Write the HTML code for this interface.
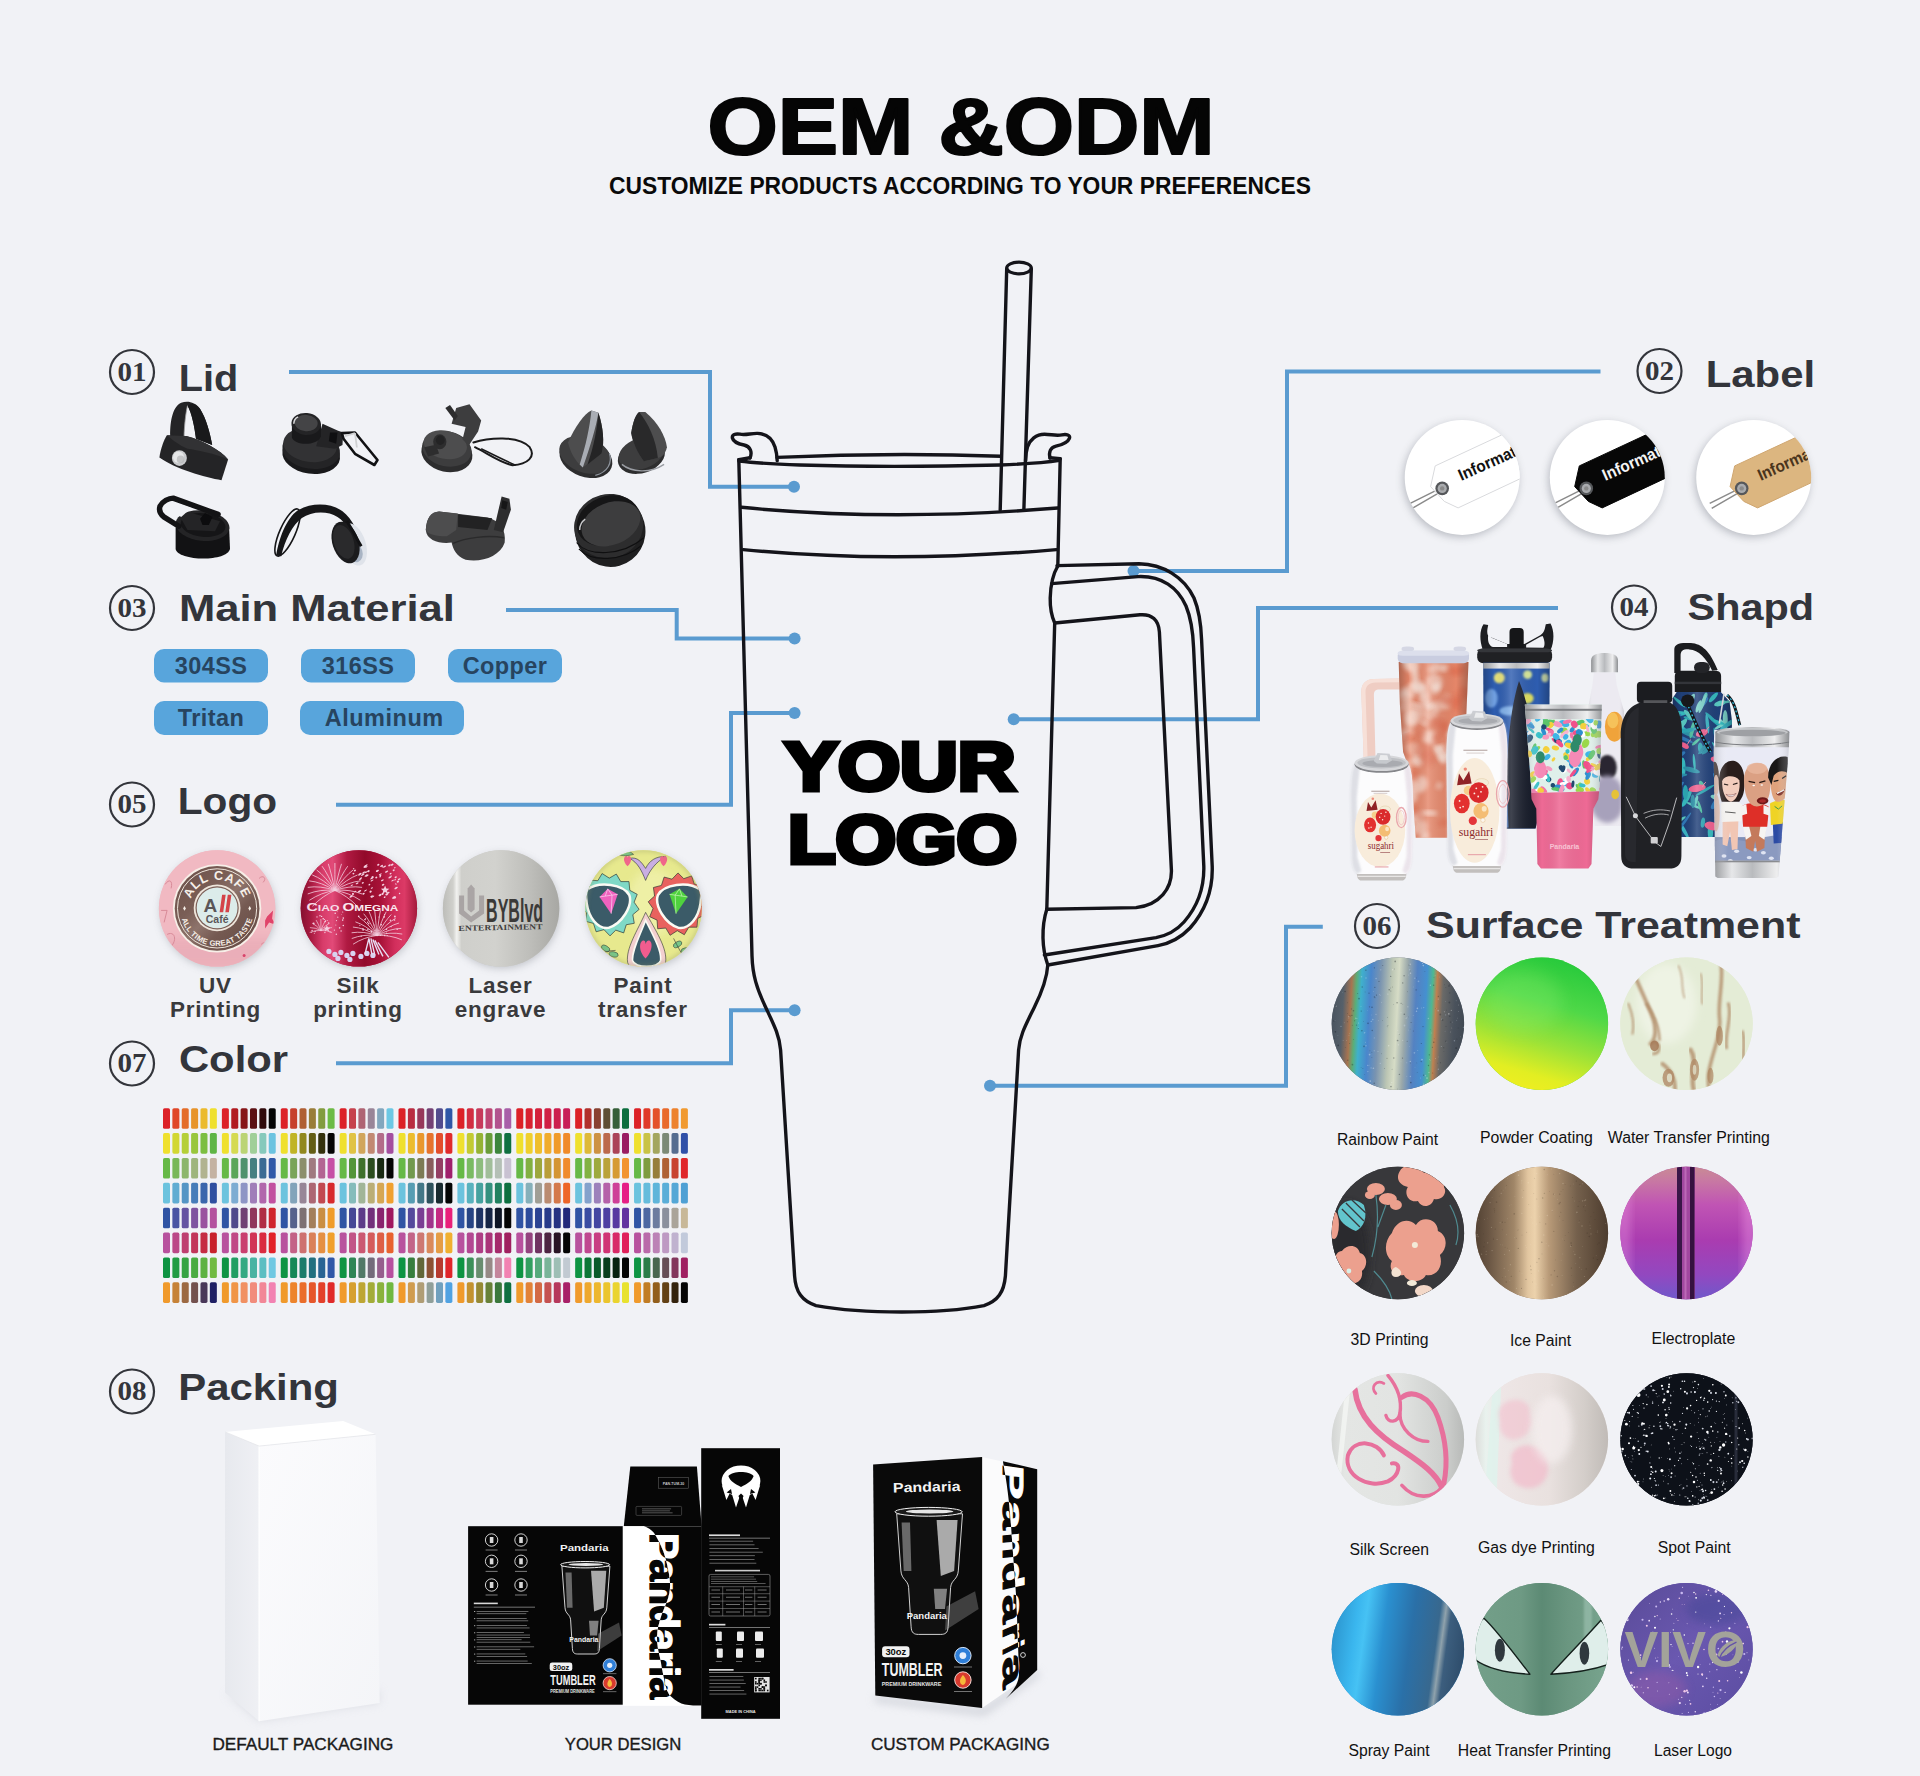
<!DOCTYPE html>
<html><head><meta charset="utf-8"><title>OEM &amp; ODM</title>
<style>
html,body{margin:0;padding:0;background:#f1f2f6;}
body{width:1920px;height:1776px;overflow:hidden;font-family:"Liberation Sans",sans-serif;}
svg{display:block;position:absolute;left:0;top:0;}
svg text{font-family:"Liberation Sans",sans-serif;}
.hd{font-weight:bold;fill:#33353b;}
.num{font-family:"Liberation Serif",serif;font-weight:bold;fill:#33353b;}
.sl{font-size:16px;fill:#111;}
.ll{font-size:22.5px;font-weight:bold;fill:#3a3a3c;text-anchor:middle;letter-spacing:.75px;}
.pk{font-size:16.5px;fill:#1a1a1a;}
</style></head><body>
<svg width="1920" height="1776" viewBox="0 0 1920 1776">
<!-- a10_defs.py -->
<defs>
<filter id="sh" x="-20%" y="-20%" width="140%" height="140%"><feGaussianBlur stdDeviation="4"/></filter>
<filter id="b1" x="-20%" y="-20%" width="140%" height="140%"><feGaussianBlur stdDeviation="1"/></filter>
<filter id="b2" x="-20%" y="-20%" width="140%" height="140%"><feGaussianBlur stdDeviation="2.2"/></filter>
<filter id="b4" x="-30%" y="-30%" width="160%" height="160%"><feGaussianBlur stdDeviation="4"/></filter>
<filter id="b8" x="-40%" y="-40%" width="180%" height="180%"><feGaussianBlur stdDeviation="8"/></filter>
</defs>
<rect x="0" y="0" width="1920" height="1776" fill="#f1f2f6"/>

<!-- b10_title.py -->
<text x="707.5" y="154" font-size="80" font-weight="bold" fill="#050505" stroke="#050505" stroke-width="2.2" stroke-linejoin="round" textLength="507" lengthAdjust="spacingAndGlyphs">OEM &amp;ODM</text>
<text x="609" y="194.3" font-size="24" font-weight="bold" fill="#0a0a0a" textLength="702" lengthAdjust="spacingAndGlyphs">CUSTOMIZE PRODUCTS ACCORDING TO YOUR PREFERENCES</text>

<!-- b20_heads.py -->
<circle cx="132.0" cy="372.0" r="22" fill="none" stroke="#33353b" stroke-width="2.2"/>
<text class="num" x="132.0" y="380.5" font-size="27" text-anchor="middle" textLength="29" lengthAdjust="spacingAndGlyphs">01</text>
<text class="hd" x="178.8" y="391.0" font-size="37" textLength="59.5" lengthAdjust="spacingAndGlyphs">Lid</text>
<circle cx="132.0" cy="608.0" r="22" fill="none" stroke="#33353b" stroke-width="2.2"/>
<text class="num" x="132.0" y="616.5" font-size="27" text-anchor="middle" textLength="29" lengthAdjust="spacingAndGlyphs">03</text>
<text class="hd" x="178.9" y="621.4" font-size="37" textLength="276" lengthAdjust="spacingAndGlyphs">Main Material</text>
<circle cx="132.0" cy="804.5" r="22" fill="none" stroke="#33353b" stroke-width="2.2"/>
<text class="num" x="132.0" y="813.0" font-size="27" text-anchor="middle" textLength="29" lengthAdjust="spacingAndGlyphs">05</text>
<text class="hd" x="177.8" y="813.8" font-size="37" textLength="99.3" lengthAdjust="spacingAndGlyphs">Logo</text>
<circle cx="132.0" cy="1063.5" r="22" fill="none" stroke="#33353b" stroke-width="2.2"/>
<text class="num" x="132.0" y="1072.0" font-size="27" text-anchor="middle" textLength="29" lengthAdjust="spacingAndGlyphs">07</text>
<text class="hd" x="178.9" y="1072.0" font-size="37" textLength="109.2" lengthAdjust="spacingAndGlyphs">Color</text>
<circle cx="132.0" cy="1391.5" r="22" fill="none" stroke="#33353b" stroke-width="2.2"/>
<text class="num" x="132.0" y="1400.0" font-size="27" text-anchor="middle" textLength="29" lengthAdjust="spacingAndGlyphs">08</text>
<text class="hd" x="178.2" y="1400.0" font-size="37" textLength="160.7" lengthAdjust="spacingAndGlyphs">Packing</text>
<circle cx="1659.5" cy="371.0" r="22" fill="none" stroke="#33353b" stroke-width="2.2"/>
<text class="num" x="1659.5" y="379.5" font-size="27" text-anchor="middle" textLength="29" lengthAdjust="spacingAndGlyphs">02</text>
<text class="hd" x="1705.7" y="387.0" font-size="37" textLength="109.4" lengthAdjust="spacingAndGlyphs">Label</text>
<circle cx="1634.0" cy="607.5" r="22" fill="none" stroke="#33353b" stroke-width="2.2"/>
<text class="num" x="1634.0" y="616.0" font-size="27" text-anchor="middle" textLength="29" lengthAdjust="spacingAndGlyphs">04</text>
<text class="hd" x="1687.6" y="620.0" font-size="37" textLength="126.5" lengthAdjust="spacingAndGlyphs">Shapd</text>
<circle cx="1377.0" cy="926.0" r="22" fill="none" stroke="#33353b" stroke-width="2.2"/>
<text class="num" x="1377.0" y="934.5" font-size="27" text-anchor="middle" textLength="29" lengthAdjust="spacingAndGlyphs">06</text>
<text class="hd" x="1426.0" y="938.0" font-size="37" textLength="374.5" lengthAdjust="spacingAndGlyphs">Surface Treatment</text>

<!-- b30_lines.py -->
<path d="M289.0,372.0 L710.0,372.0 L710.0,486.8 L794.0,486.8" fill="none" stroke="#5a9bd0" stroke-width="4" stroke-linejoin="miter"/>
<circle cx="794.0" cy="486.8" r="6" fill="#5a9bd0"/>
<path d="M506.0,610.0 L676.7,610.0 L676.7,638.6 L794.6,638.6" fill="none" stroke="#5a9bd0" stroke-width="4" stroke-linejoin="miter"/>
<circle cx="794.6" cy="638.6" r="6" fill="#5a9bd0"/>
<path d="M336.0,804.7 L731.0,804.7 L731.0,713.0 L794.6,713.0" fill="none" stroke="#5a9bd0" stroke-width="4" stroke-linejoin="miter"/>
<circle cx="794.6" cy="713.0" r="6" fill="#5a9bd0"/>
<path d="M336.0,1063.3 L731.0,1063.3 L731.0,1010.2 L794.6,1010.2" fill="none" stroke="#5a9bd0" stroke-width="4" stroke-linejoin="miter"/>
<circle cx="794.6" cy="1010.2" r="6" fill="#5a9bd0"/>
<path d="M1600.5,371.6 L1287.0,371.6 L1287.0,571.0 L1133.5,571.0" fill="none" stroke="#5a9bd0" stroke-width="4" stroke-linejoin="miter"/>
<circle cx="1133.5" cy="571.0" r="6" fill="#5a9bd0"/>
<path d="M1558.0,608.0 L1258.0,608.0 L1258.0,719.2 L1013.7,719.2" fill="none" stroke="#5a9bd0" stroke-width="4" stroke-linejoin="miter"/>
<circle cx="1013.7" cy="719.2" r="6" fill="#5a9bd0"/>
<path d="M1322.8,926.8 L1286.0,926.8 L1286.0,1085.8 L990.0,1085.8" fill="none" stroke="#5a9bd0" stroke-width="4" stroke-linejoin="miter"/>
<circle cx="990.0" cy="1085.8" r="6" fill="#5a9bd0"/>

<!-- c10_tumbler.py -->
<ellipse cx="1019" cy="268" rx="12.3" ry="5.8" fill="none" stroke="#14141a" stroke-width="3.2"/>
<path d="M1006.7,269 L1000.2,510" fill="none" stroke="#14141a" stroke-width="3.4" stroke-linecap="round" stroke-linejoin="round"/>
<path d="M1031.3,269 L1023.9,509" fill="none" stroke="#14141a" stroke-width="3.4" stroke-linecap="round" stroke-linejoin="round"/>
<path d="M777,457.4 Q889,452.4 1001,456.2" fill="none" stroke="#14141a" stroke-width="3.4" stroke-linecap="round" stroke-linejoin="round"/>
<path d="M739,461 Q760,463.6 800,465 Q889,467.8 1000,465 Q1040,463.4 1059.5,460.4" fill="none" stroke="#14141a" stroke-width="3.4" stroke-linecap="round" stroke-linejoin="round"/>
<path d="M738.8,459.6 L750,457.8" fill="none" stroke="#14141a" stroke-width="3.4" stroke-linecap="round" stroke-linejoin="round"/>
<path d="M1050,457.8 L1060.2,458.6" fill="none" stroke="#14141a" stroke-width="3.4" stroke-linecap="round" stroke-linejoin="round"/>
<path d="M750,458 C752.5,452 750.5,446.5 744,445 C738,443.8 733.2,441.5 732.4,438 C731.8,434.6 735.5,433.4 740,434.2 C746,435.3 751,433.2 757.5,433.4 C767,433.7 772.6,439.5 775,447 C776.4,451.5 777,456 777.2,460.6" fill="none" stroke="#14141a" stroke-width="3.4" stroke-linecap="round" stroke-linejoin="round"/>
<path d="M1050,458 C1048.6,452 1050.5,447.5 1056,446.2 C1062,444.8 1067.8,442.6 1069.4,438.4 C1070.6,435 1066.5,433.8 1062,434.8 C1056,436.2 1051,434.2 1044.5,434.2 C1036,434.2 1030,439.8 1027.6,446.6 C1026.2,451 1025.7,456 1025.6,460.6" fill="none" stroke="#14141a" stroke-width="3.4" stroke-linecap="round" stroke-linejoin="round"/>
<path d="M741.5,507.3 Q889,521.8 1057.6,508" fill="none" stroke="#14141a" stroke-width="3.4" stroke-linecap="round" stroke-linejoin="round"/>
<path d="M743.3,549.6 Q889,564 1056.4,549.6" fill="none" stroke="#14141a" stroke-width="3.4" stroke-linecap="round" stroke-linejoin="round"/>
<path d="M738.8,459.6 L752,956 C752.6,975 756.5,988 766,1008 C774,1025 779.6,1036 780.6,1050 L794.6,1276 C795.6,1292 802,1301 816,1305.6 C845,1310.8 875,1312 901.8,1312 C930,1312 958,1310.6 984,1305.6 C998,1301 1004,1292 1005.4,1276 L1018.6,1050 C1019.6,1036 1025.6,1025 1034,1008 C1043,990 1047,978 1047.8,965" fill="none" stroke="#14141a" stroke-width="3.4" stroke-linecap="round" stroke-linejoin="round"/>
<path d="M1060.2,458.6 L1057.8,566" fill="none" stroke="#14141a" stroke-width="3.4" stroke-linecap="round" stroke-linejoin="round"/>
<path d="M1054.7,623 L1046.8,909.3" fill="none" stroke="#14141a" stroke-width="3.4" stroke-linecap="round" stroke-linejoin="round"/>
<path d="M1057.8,566 C1053,574 1050.6,584 1050.2,598 C1050,608 1052,617 1054.7,623" fill="none" stroke="#14141a" stroke-width="3.4" stroke-linecap="round" stroke-linejoin="round"/>
<path d="M1057,565.6 L1139,563.8 C1163,564.2 1184,577 1194,598 C1199,610 1201,624 1201.6,640 L1212.2,866 C1213,890 1206,910 1190,928 C1180,938.6 1170,943.4 1158,945.6 L1047.8,965" fill="none" stroke="#14141a" stroke-width="3.4" stroke-linecap="round" stroke-linejoin="round"/>
<path d="M1051.6,583.6 L1138,576.6 C1162,575.6 1178,588 1186,606 C1191,618 1193,632 1193.6,648 L1203.8,866 C1204.4,888 1198,906 1184,922 C1176,931 1167,935.6 1156,937.6 L1044.4,955" fill="none" stroke="#14141a" stroke-width="3.4" stroke-linecap="round" stroke-linejoin="round"/>
<path d="M1054.7,623 L1140,614.8 C1152,613.8 1158.6,620 1159.4,632 L1171.4,870 C1172,888 1160,905 1136,907.6 L1046.8,909.3" fill="none" stroke="#14141a" stroke-width="3.4" stroke-linecap="round" stroke-linejoin="round"/>
<path d="M1046.8,909.3 C1044,918 1042.8,928 1043,938 C1043.2,948 1045,957 1047.8,965" fill="none" stroke="#14141a" stroke-width="3.4" stroke-linecap="round" stroke-linejoin="round"/>
<text x="784.6" y="790" font-size="68" font-weight="bold" fill="#000" stroke="#000" stroke-width="5" stroke-linejoin="miter" textLength="231" lengthAdjust="spacingAndGlyphs">YOUR</text>
<text x="788" y="862.5" font-size="68" font-weight="bold" fill="#000" stroke="#000" stroke-width="5" stroke-linejoin="miter" textLength="229" lengthAdjust="spacingAndGlyphs">LOGO</text>

<!-- d10_pills.py -->
<rect x="154" y="649" width="114" height="33.5" rx="10" fill="#58a5dc"/>
<text x="211.0" y="674.0" font-size="23.5" font-weight="bold" fill="#27445f" text-anchor="middle" letter-spacing="0.4">304SS</text>
<rect x="301" y="649" width="114" height="33.5" rx="10" fill="#58a5dc"/>
<text x="358.0" y="674.0" font-size="23.5" font-weight="bold" fill="#27445f" text-anchor="middle" letter-spacing="0.4">316SS</text>
<rect x="448" y="649" width="114" height="33.5" rx="10" fill="#58a5dc"/>
<text x="505.0" y="674.0" font-size="23.5" font-weight="bold" fill="#27445f" text-anchor="middle" letter-spacing="0.4">Copper</text>
<rect x="154" y="701" width="114" height="34" rx="10" fill="#58a5dc"/>
<text x="211.0" y="726.2" font-size="23.5" font-weight="bold" fill="#27445f" text-anchor="middle" letter-spacing="0.4">Tritan</text>
<rect x="300" y="701" width="164" height="34" rx="10" fill="#58a5dc"/>
<text x="384.2" y="726.2" font-size="23.5" font-weight="bold" fill="#27445f" text-anchor="middle" letter-spacing="0.5">Aluminum</text>

<!-- d20_swatches.py -->
<g>
<rect x="163.00" y="1108.20" width="7.0" height="20.6" rx="1.6" fill="#dc2127"/><rect x="172.37" y="1108.20" width="7.0" height="20.6" rx="1.6" fill="#e04728"/><rect x="181.74" y="1108.20" width="7.0" height="20.6" rx="1.6" fill="#e46d2a"/><rect x="191.11" y="1108.20" width="7.0" height="20.6" rx="1.6" fill="#e7942b"/><rect x="200.48" y="1108.20" width="7.0" height="20.6" rx="1.6" fill="#ebba2d"/><rect x="209.85" y="1108.20" width="7.0" height="20.6" rx="1.6" fill="#efe02e"/><rect x="221.88" y="1108.20" width="7.0" height="20.6" rx="1.6" fill="#dc2127"/><rect x="231.25" y="1108.20" width="7.0" height="20.6" rx="1.6" fill="#b11b20"/><rect x="240.62" y="1108.20" width="7.0" height="20.6" rx="1.6" fill="#861619"/><rect x="249.99" y="1108.20" width="7.0" height="20.6" rx="1.6" fill="#5b1013"/><rect x="259.36" y="1108.20" width="7.0" height="20.6" rx="1.6" fill="#300b0c"/><rect x="268.73" y="1108.20" width="7.0" height="20.6" rx="1.6" fill="#050505"/><rect x="280.76" y="1108.20" width="7.0" height="20.6" rx="1.6" fill="#dc2127"/><rect x="290.13" y="1108.20" width="7.0" height="20.6" rx="1.6" fill="#c6402d"/><rect x="299.50" y="1108.20" width="7.0" height="20.6" rx="1.6" fill="#af5f33"/><rect x="308.87" y="1108.20" width="7.0" height="20.6" rx="1.6" fill="#997d39"/><rect x="318.24" y="1108.20" width="7.0" height="20.6" rx="1.6" fill="#829c3f"/><rect x="327.61" y="1108.20" width="7.0" height="20.6" rx="1.6" fill="#6cbb45"/><rect x="339.64" y="1108.20" width="7.0" height="20.6" rx="1.6" fill="#dc2127"/><rect x="349.01" y="1108.20" width="7.0" height="20.6" rx="1.6" fill="#c6424d"/><rect x="358.38" y="1108.20" width="7.0" height="20.6" rx="1.6" fill="#af6473"/><rect x="367.75" y="1108.20" width="7.0" height="20.6" rx="1.6" fill="#998598"/><rect x="377.12" y="1108.20" width="7.0" height="20.6" rx="1.6" fill="#82a7be"/><rect x="386.49" y="1108.20" width="7.0" height="20.6" rx="1.6" fill="#6cc8e4"/><rect x="398.52" y="1108.20" width="7.0" height="20.6" rx="1.6" fill="#dc2127"/><rect x="407.89" y="1108.20" width="7.0" height="20.6" rx="1.6" fill="#b92c41"/><rect x="417.26" y="1108.20" width="7.0" height="20.6" rx="1.6" fill="#97375a"/><rect x="426.63" y="1108.20" width="7.0" height="20.6" rx="1.6" fill="#744174"/><rect x="436.00" y="1108.20" width="7.0" height="20.6" rx="1.6" fill="#524c8d"/><rect x="445.37" y="1108.20" width="7.0" height="20.6" rx="1.6" fill="#2f57a7"/><rect x="457.40" y="1108.20" width="7.0" height="20.6" rx="1.6" fill="#dc2127"/><rect x="466.77" y="1108.20" width="7.0" height="20.6" rx="1.6" fill="#d22d41"/><rect x="476.14" y="1108.20" width="7.0" height="20.6" rx="1.6" fill="#c73a5b"/><rect x="485.51" y="1108.20" width="7.0" height="20.6" rx="1.6" fill="#bd4674"/><rect x="494.88" y="1108.20" width="7.0" height="20.6" rx="1.6" fill="#b2538e"/><rect x="504.25" y="1108.20" width="7.0" height="20.6" rx="1.6" fill="#a85fa8"/><rect x="516.28" y="1108.20" width="7.0" height="20.6" rx="1.6" fill="#dc2127"/><rect x="525.65" y="1108.20" width="7.0" height="20.6" rx="1.6" fill="#d82131"/><rect x="535.02" y="1108.20" width="7.0" height="20.6" rx="1.6" fill="#d4203b"/><rect x="544.39" y="1108.20" width="7.0" height="20.6" rx="1.6" fill="#d02044"/><rect x="553.76" y="1108.20" width="7.0" height="20.6" rx="1.6" fill="#cc1f4e"/><rect x="563.13" y="1108.20" width="7.0" height="20.6" rx="1.6" fill="#c81f58"/><rect x="575.16" y="1108.20" width="7.0" height="20.6" rx="1.6" fill="#dc2127"/><rect x="584.53" y="1108.20" width="7.0" height="20.6" rx="1.6" fill="#b2302c"/><rect x="593.90" y="1108.20" width="7.0" height="20.6" rx="1.6" fill="#894030"/><rect x="603.27" y="1108.20" width="7.0" height="20.6" rx="1.6" fill="#5f4f35"/><rect x="612.64" y="1108.20" width="7.0" height="20.6" rx="1.6" fill="#365f39"/><rect x="622.01" y="1108.20" width="7.0" height="20.6" rx="1.6" fill="#0c6e3e"/><rect x="634.04" y="1108.20" width="7.0" height="20.6" rx="1.6" fill="#dc2127"/><rect x="643.41" y="1108.20" width="7.0" height="20.6" rx="1.6" fill="#e03929"/><rect x="652.78" y="1108.20" width="7.0" height="20.6" rx="1.6" fill="#e4512b"/><rect x="662.15" y="1108.20" width="7.0" height="20.6" rx="1.6" fill="#e96a2c"/><rect x="671.52" y="1108.20" width="7.0" height="20.6" rx="1.6" fill="#ed822e"/><rect x="680.89" y="1108.20" width="7.0" height="20.6" rx="1.6" fill="#f19a30"/>
<rect x="163.00" y="1133.08" width="7.0" height="20.6" rx="1.6" fill="#efe02e"/><rect x="172.37" y="1133.08" width="7.0" height="20.6" rx="1.6" fill="#d2d733"/><rect x="181.74" y="1133.08" width="7.0" height="20.6" rx="1.6" fill="#b5cf38"/><rect x="191.11" y="1133.08" width="7.0" height="20.6" rx="1.6" fill="#99c63c"/><rect x="200.48" y="1133.08" width="7.0" height="20.6" rx="1.6" fill="#7cbe41"/><rect x="209.85" y="1133.08" width="7.0" height="20.6" rx="1.6" fill="#5fb546"/><rect x="221.88" y="1133.08" width="7.0" height="20.6" rx="1.6" fill="#efe02e"/><rect x="231.25" y="1133.08" width="7.0" height="20.6" rx="1.6" fill="#d5da52"/><rect x="240.62" y="1133.08" width="7.0" height="20.6" rx="1.6" fill="#bbd475"/><rect x="249.99" y="1133.08" width="7.0" height="20.6" rx="1.6" fill="#a0cf99"/><rect x="259.36" y="1133.08" width="7.0" height="20.6" rx="1.6" fill="#86c9bc"/><rect x="268.73" y="1133.08" width="7.0" height="20.6" rx="1.6" fill="#6cc3e0"/><rect x="280.76" y="1133.08" width="7.0" height="20.6" rx="1.6" fill="#efe02e"/><rect x="290.13" y="1133.08" width="7.0" height="20.6" rx="1.6" fill="#c0b426"/><rect x="299.50" y="1133.08" width="7.0" height="20.6" rx="1.6" fill="#91881e"/><rect x="308.87" y="1133.08" width="7.0" height="20.6" rx="1.6" fill="#635d15"/><rect x="318.24" y="1133.08" width="7.0" height="20.6" rx="1.6" fill="#34310d"/><rect x="327.61" y="1133.08" width="7.0" height="20.6" rx="1.6" fill="#050505"/><rect x="339.64" y="1133.08" width="7.0" height="20.6" rx="1.6" fill="#efe02e"/><rect x="349.01" y="1133.08" width="7.0" height="20.6" rx="1.6" fill="#e0c345"/><rect x="358.38" y="1133.08" width="7.0" height="20.6" rx="1.6" fill="#d1a65c"/><rect x="367.75" y="1133.08" width="7.0" height="20.6" rx="1.6" fill="#c28972"/><rect x="377.12" y="1133.08" width="7.0" height="20.6" rx="1.6" fill="#b36c89"/><rect x="386.49" y="1133.08" width="7.0" height="20.6" rx="1.6" fill="#a44fa0"/><rect x="398.52" y="1133.08" width="7.0" height="20.6" rx="1.6" fill="#efe02e"/><rect x="407.89" y="1133.08" width="7.0" height="20.6" rx="1.6" fill="#ecbc2e"/><rect x="417.26" y="1133.08" width="7.0" height="20.6" rx="1.6" fill="#e9972d"/><rect x="426.63" y="1133.08" width="7.0" height="20.6" rx="1.6" fill="#e6732d"/><rect x="436.00" y="1133.08" width="7.0" height="20.6" rx="1.6" fill="#e34e2c"/><rect x="445.37" y="1133.08" width="7.0" height="20.6" rx="1.6" fill="#e02a2c"/><rect x="457.40" y="1133.08" width="7.0" height="20.6" rx="1.6" fill="#efe02e"/><rect x="466.77" y="1133.08" width="7.0" height="20.6" rx="1.6" fill="#c2ca32"/><rect x="476.14" y="1133.08" width="7.0" height="20.6" rx="1.6" fill="#95b335"/><rect x="485.51" y="1133.08" width="7.0" height="20.6" rx="1.6" fill="#699d39"/><rect x="494.88" y="1133.08" width="7.0" height="20.6" rx="1.6" fill="#3c863c"/><rect x="504.25" y="1133.08" width="7.0" height="20.6" rx="1.6" fill="#0f7040"/><rect x="516.28" y="1133.08" width="7.0" height="20.6" rx="1.6" fill="#efe02e"/><rect x="525.65" y="1133.08" width="7.0" height="20.6" rx="1.6" fill="#efcf2d"/><rect x="535.02" y="1133.08" width="7.0" height="20.6" rx="1.6" fill="#efbe2c"/><rect x="544.39" y="1133.08" width="7.0" height="20.6" rx="1.6" fill="#f0ac2c"/><rect x="553.76" y="1133.08" width="7.0" height="20.6" rx="1.6" fill="#f09b2b"/><rect x="563.13" y="1133.08" width="7.0" height="20.6" rx="1.6" fill="#f08a2a"/><rect x="575.16" y="1133.08" width="7.0" height="20.6" rx="1.6" fill="#efe02e"/><rect x="584.53" y="1133.08" width="7.0" height="20.6" rx="1.6" fill="#deb938"/><rect x="593.90" y="1133.08" width="7.0" height="20.6" rx="1.6" fill="#cd9243"/><rect x="603.27" y="1133.08" width="7.0" height="20.6" rx="1.6" fill="#bc6a4d"/><rect x="612.64" y="1133.08" width="7.0" height="20.6" rx="1.6" fill="#ab4358"/><rect x="622.01" y="1133.08" width="7.0" height="20.6" rx="1.6" fill="#9a1c62"/><rect x="634.04" y="1133.08" width="7.0" height="20.6" rx="1.6" fill="#efe02e"/><rect x="643.41" y="1133.08" width="7.0" height="20.6" rx="1.6" fill="#c9c346"/><rect x="652.78" y="1133.08" width="7.0" height="20.6" rx="1.6" fill="#a3a65f"/><rect x="662.15" y="1133.08" width="7.0" height="20.6" rx="1.6" fill="#7c8a77"/><rect x="671.52" y="1133.08" width="7.0" height="20.6" rx="1.6" fill="#566d90"/><rect x="680.89" y="1133.08" width="7.0" height="20.6" rx="1.6" fill="#3050a8"/>
<rect x="163.00" y="1157.96" width="7.0" height="20.6" rx="1.6" fill="#66b946"/><rect x="172.37" y="1157.96" width="7.0" height="20.6" rx="1.6" fill="#79b858"/><rect x="181.74" y="1157.96" width="7.0" height="20.6" rx="1.6" fill="#8cb66b"/><rect x="191.11" y="1157.96" width="7.0" height="20.6" rx="1.6" fill="#9eb57d"/><rect x="200.48" y="1157.96" width="7.0" height="20.6" rx="1.6" fill="#b1b390"/><rect x="209.85" y="1157.96" width="7.0" height="20.6" rx="1.6" fill="#c4b2a2"/><rect x="221.88" y="1157.96" width="7.0" height="20.6" rx="1.6" fill="#66b946"/><rect x="231.25" y="1157.96" width="7.0" height="20.6" rx="1.6" fill="#5ba65a"/><rect x="240.62" y="1157.96" width="7.0" height="20.6" rx="1.6" fill="#50926d"/><rect x="249.99" y="1157.96" width="7.0" height="20.6" rx="1.6" fill="#467f81"/><rect x="259.36" y="1157.96" width="7.0" height="20.6" rx="1.6" fill="#3b6b94"/><rect x="268.73" y="1157.96" width="7.0" height="20.6" rx="1.6" fill="#3058a8"/><rect x="280.76" y="1157.96" width="7.0" height="20.6" rx="1.6" fill="#66b946"/><rect x="290.13" y="1157.96" width="7.0" height="20.6" rx="1.6" fill="#79a459"/><rect x="299.50" y="1157.96" width="7.0" height="20.6" rx="1.6" fill="#8c8f6c"/><rect x="308.87" y="1157.96" width="7.0" height="20.6" rx="1.6" fill="#a07a80"/><rect x="318.24" y="1157.96" width="7.0" height="20.6" rx="1.6" fill="#b36593"/><rect x="327.61" y="1157.96" width="7.0" height="20.6" rx="1.6" fill="#c650a6"/><rect x="339.64" y="1157.96" width="7.0" height="20.6" rx="1.6" fill="#66b946"/><rect x="349.01" y="1157.96" width="7.0" height="20.6" rx="1.6" fill="#539539"/><rect x="358.38" y="1157.96" width="7.0" height="20.6" rx="1.6" fill="#3f712c"/><rect x="367.75" y="1157.96" width="7.0" height="20.6" rx="1.6" fill="#2c4d1f"/><rect x="377.12" y="1157.96" width="7.0" height="20.6" rx="1.6" fill="#182912"/><rect x="386.49" y="1157.96" width="7.0" height="20.6" rx="1.6" fill="#050505"/><rect x="398.52" y="1157.96" width="7.0" height="20.6" rx="1.6" fill="#66b946"/><rect x="407.89" y="1157.96" width="7.0" height="20.6" rx="1.6" fill="#729a4e"/><rect x="417.26" y="1157.96" width="7.0" height="20.6" rx="1.6" fill="#7d7b55"/><rect x="426.63" y="1157.96" width="7.0" height="20.6" rx="1.6" fill="#895d5d"/><rect x="436.00" y="1157.96" width="7.0" height="20.6" rx="1.6" fill="#943e64"/><rect x="445.37" y="1157.96" width="7.0" height="20.6" rx="1.6" fill="#a01f6c"/><rect x="457.40" y="1157.96" width="7.0" height="20.6" rx="1.6" fill="#66b946"/><rect x="466.77" y="1157.96" width="7.0" height="20.6" rx="1.6" fill="#7abb62"/><rect x="476.14" y="1157.96" width="7.0" height="20.6" rx="1.6" fill="#8dbd7e"/><rect x="485.51" y="1157.96" width="7.0" height="20.6" rx="1.6" fill="#a1be9a"/><rect x="494.88" y="1157.96" width="7.0" height="20.6" rx="1.6" fill="#b4c0b6"/><rect x="504.25" y="1157.96" width="7.0" height="20.6" rx="1.6" fill="#c8c2d2"/><rect x="516.28" y="1157.96" width="7.0" height="20.6" rx="1.6" fill="#66b946"/><rect x="525.65" y="1157.96" width="7.0" height="20.6" rx="1.6" fill="#82b041"/><rect x="535.02" y="1157.96" width="7.0" height="20.6" rx="1.6" fill="#9da73c"/><rect x="544.39" y="1157.96" width="7.0" height="20.6" rx="1.6" fill="#b99e38"/><rect x="553.76" y="1157.96" width="7.0" height="20.6" rx="1.6" fill="#d49533"/><rect x="563.13" y="1157.96" width="7.0" height="20.6" rx="1.6" fill="#f08c2e"/><rect x="575.16" y="1157.96" width="7.0" height="20.6" rx="1.6" fill="#66b946"/><rect x="584.53" y="1157.96" width="7.0" height="20.6" rx="1.6" fill="#82b242"/><rect x="593.90" y="1157.96" width="7.0" height="20.6" rx="1.6" fill="#9eaa3d"/><rect x="603.27" y="1157.96" width="7.0" height="20.6" rx="1.6" fill="#baa339"/><rect x="612.64" y="1157.96" width="7.0" height="20.6" rx="1.6" fill="#d69b34"/><rect x="622.01" y="1157.96" width="7.0" height="20.6" rx="1.6" fill="#f29430"/><rect x="634.04" y="1157.96" width="7.0" height="20.6" rx="1.6" fill="#66b946"/><rect x="643.41" y="1157.96" width="7.0" height="20.6" rx="1.6" fill="#7e9c40"/><rect x="652.78" y="1157.96" width="7.0" height="20.6" rx="1.6" fill="#977e3b"/><rect x="662.15" y="1157.96" width="7.0" height="20.6" rx="1.6" fill="#af6135"/><rect x="671.52" y="1157.96" width="7.0" height="20.6" rx="1.6" fill="#c84330"/><rect x="680.89" y="1157.96" width="7.0" height="20.6" rx="1.6" fill="#e0262a"/>
<rect x="163.00" y="1182.84" width="7.0" height="20.6" rx="1.6" fill="#6cc3de"/><rect x="172.37" y="1182.84" width="7.0" height="20.6" rx="1.6" fill="#60acd2"/><rect x="181.74" y="1182.84" width="7.0" height="20.6" rx="1.6" fill="#5495c5"/><rect x="191.11" y="1182.84" width="7.0" height="20.6" rx="1.6" fill="#477db9"/><rect x="200.48" y="1182.84" width="7.0" height="20.6" rx="1.6" fill="#3b66ac"/><rect x="209.85" y="1182.84" width="7.0" height="20.6" rx="1.6" fill="#2f4fa0"/><rect x="221.88" y="1182.84" width="7.0" height="20.6" rx="1.6" fill="#6cc3de"/><rect x="231.25" y="1182.84" width="7.0" height="20.6" rx="1.6" fill="#7dacd2"/><rect x="240.62" y="1182.84" width="7.0" height="20.6" rx="1.6" fill="#8e95c5"/><rect x="249.99" y="1182.84" width="7.0" height="20.6" rx="1.6" fill="#a07eb9"/><rect x="259.36" y="1182.84" width="7.0" height="20.6" rx="1.6" fill="#b167ac"/><rect x="268.73" y="1182.84" width="7.0" height="20.6" rx="1.6" fill="#c250a0"/><rect x="280.76" y="1182.84" width="7.0" height="20.6" rx="1.6" fill="#6cc3de"/><rect x="290.13" y="1182.84" width="7.0" height="20.6" rx="1.6" fill="#82a4ba"/><rect x="299.50" y="1182.84" width="7.0" height="20.6" rx="1.6" fill="#978697"/><rect x="308.87" y="1182.84" width="7.0" height="20.6" rx="1.6" fill="#ad6773"/><rect x="318.24" y="1182.84" width="7.0" height="20.6" rx="1.6" fill="#c24950"/><rect x="327.61" y="1182.84" width="7.0" height="20.6" rx="1.6" fill="#d82a2c"/><rect x="339.64" y="1182.84" width="7.0" height="20.6" rx="1.6" fill="#6cc3de"/><rect x="349.01" y="1182.84" width="7.0" height="20.6" rx="1.6" fill="#86bcbb"/><rect x="358.38" y="1182.84" width="7.0" height="20.6" rx="1.6" fill="#a1b598"/><rect x="367.75" y="1182.84" width="7.0" height="20.6" rx="1.6" fill="#bbae76"/><rect x="377.12" y="1182.84" width="7.0" height="20.6" rx="1.6" fill="#d6a753"/><rect x="386.49" y="1182.84" width="7.0" height="20.6" rx="1.6" fill="#f0a030"/><rect x="398.52" y="1182.84" width="7.0" height="20.6" rx="1.6" fill="#6cc3de"/><rect x="407.89" y="1182.84" width="7.0" height="20.6" rx="1.6" fill="#579db3"/><rect x="417.26" y="1182.84" width="7.0" height="20.6" rx="1.6" fill="#437787"/><rect x="426.63" y="1182.84" width="7.0" height="20.6" rx="1.6" fill="#2e515c"/><rect x="436.00" y="1182.84" width="7.0" height="20.6" rx="1.6" fill="#1a2b30"/><rect x="445.37" y="1182.84" width="7.0" height="20.6" rx="1.6" fill="#050505"/><rect x="457.40" y="1182.84" width="7.0" height="20.6" rx="1.6" fill="#6cc3de"/><rect x="466.77" y="1182.84" width="7.0" height="20.6" rx="1.6" fill="#59b2be"/><rect x="476.14" y="1182.84" width="7.0" height="20.6" rx="1.6" fill="#46a29f"/><rect x="485.51" y="1182.84" width="7.0" height="20.6" rx="1.6" fill="#34917f"/><rect x="494.88" y="1182.84" width="7.0" height="20.6" rx="1.6" fill="#218160"/><rect x="504.25" y="1182.84" width="7.0" height="20.6" rx="1.6" fill="#0e7040"/><rect x="516.28" y="1182.84" width="7.0" height="20.6" rx="1.6" fill="#6cc3de"/><rect x="525.65" y="1182.84" width="7.0" height="20.6" rx="1.6" fill="#86b0ba"/><rect x="535.02" y="1182.84" width="7.0" height="20.6" rx="1.6" fill="#a09e95"/><rect x="544.39" y="1182.84" width="7.0" height="20.6" rx="1.6" fill="#ba8b71"/><rect x="553.76" y="1182.84" width="7.0" height="20.6" rx="1.6" fill="#d4794c"/><rect x="563.13" y="1182.84" width="7.0" height="20.6" rx="1.6" fill="#ee6628"/><rect x="575.16" y="1182.84" width="7.0" height="20.6" rx="1.6" fill="#6cc3de"/><rect x="584.53" y="1182.84" width="7.0" height="20.6" rx="1.6" fill="#84a2cc"/><rect x="593.90" y="1182.84" width="7.0" height="20.6" rx="1.6" fill="#9d81bb"/><rect x="603.27" y="1182.84" width="7.0" height="20.6" rx="1.6" fill="#b561a9"/><rect x="612.64" y="1182.84" width="7.0" height="20.6" rx="1.6" fill="#ce4098"/><rect x="622.01" y="1182.84" width="7.0" height="20.6" rx="1.6" fill="#e61f86"/><rect x="634.04" y="1182.84" width="7.0" height="20.6" rx="1.6" fill="#6cc3de"/><rect x="643.41" y="1182.84" width="7.0" height="20.6" rx="1.6" fill="#66bcdc"/><rect x="652.78" y="1182.84" width="7.0" height="20.6" rx="1.6" fill="#60b5da"/><rect x="662.15" y="1182.84" width="7.0" height="20.6" rx="1.6" fill="#5baed8"/><rect x="671.52" y="1182.84" width="7.0" height="20.6" rx="1.6" fill="#55a7d6"/><rect x="680.89" y="1182.84" width="7.0" height="20.6" rx="1.6" fill="#4fa0d4"/>
<rect x="163.00" y="1207.72" width="7.0" height="20.6" rx="1.6" fill="#3054a4"/><rect x="172.37" y="1207.72" width="7.0" height="20.6" rx="1.6" fill="#4a54a3"/><rect x="181.74" y="1207.72" width="7.0" height="20.6" rx="1.6" fill="#6553a2"/><rect x="191.11" y="1207.72" width="7.0" height="20.6" rx="1.6" fill="#7f53a0"/><rect x="200.48" y="1207.72" width="7.0" height="20.6" rx="1.6" fill="#9a529f"/><rect x="209.85" y="1207.72" width="7.0" height="20.6" rx="1.6" fill="#b4529e"/><rect x="221.88" y="1207.72" width="7.0" height="20.6" rx="1.6" fill="#3054a4"/><rect x="231.25" y="1207.72" width="7.0" height="20.6" rx="1.6" fill="#504a8c"/><rect x="240.62" y="1207.72" width="7.0" height="20.6" rx="1.6" fill="#704174"/><rect x="249.99" y="1207.72" width="7.0" height="20.6" rx="1.6" fill="#90375c"/><rect x="259.36" y="1207.72" width="7.0" height="20.6" rx="1.6" fill="#b02e44"/><rect x="268.73" y="1207.72" width="7.0" height="20.6" rx="1.6" fill="#d0242c"/><rect x="280.76" y="1207.72" width="7.0" height="20.6" rx="1.6" fill="#3054a4"/><rect x="290.13" y="1207.72" width="7.0" height="20.6" rx="1.6" fill="#56628c"/><rect x="299.50" y="1207.72" width="7.0" height="20.6" rx="1.6" fill="#7d7173"/><rect x="308.87" y="1207.72" width="7.0" height="20.6" rx="1.6" fill="#a37f5b"/><rect x="318.24" y="1207.72" width="7.0" height="20.6" rx="1.6" fill="#ca8e42"/><rect x="327.61" y="1207.72" width="7.0" height="20.6" rx="1.6" fill="#f09c2a"/><rect x="339.64" y="1207.72" width="7.0" height="20.6" rx="1.6" fill="#3054a4"/><rect x="349.01" y="1207.72" width="7.0" height="20.6" rx="1.6" fill="#464896"/><rect x="358.38" y="1207.72" width="7.0" height="20.6" rx="1.6" fill="#5d3c89"/><rect x="367.75" y="1207.72" width="7.0" height="20.6" rx="1.6" fill="#73307b"/><rect x="377.12" y="1207.72" width="7.0" height="20.6" rx="1.6" fill="#8a246e"/><rect x="386.49" y="1207.72" width="7.0" height="20.6" rx="1.6" fill="#a01860"/><rect x="398.52" y="1207.72" width="7.0" height="20.6" rx="1.6" fill="#3054a4"/><rect x="407.89" y="1207.72" width="7.0" height="20.6" rx="1.6" fill="#554a9c"/><rect x="417.26" y="1207.72" width="7.0" height="20.6" rx="1.6" fill="#7a3f93"/><rect x="426.63" y="1207.72" width="7.0" height="20.6" rx="1.6" fill="#a0358b"/><rect x="436.00" y="1207.72" width="7.0" height="20.6" rx="1.6" fill="#c52a82"/><rect x="445.37" y="1207.72" width="7.0" height="20.6" rx="1.6" fill="#ea207a"/><rect x="457.40" y="1207.72" width="7.0" height="20.6" rx="1.6" fill="#3054a4"/><rect x="466.77" y="1207.72" width="7.0" height="20.6" rx="1.6" fill="#274484"/><rect x="476.14" y="1207.72" width="7.0" height="20.6" rx="1.6" fill="#1f3464"/><rect x="485.51" y="1207.72" width="7.0" height="20.6" rx="1.6" fill="#162545"/><rect x="494.88" y="1207.72" width="7.0" height="20.6" rx="1.6" fill="#0e1525"/><rect x="504.25" y="1207.72" width="7.0" height="20.6" rx="1.6" fill="#050505"/><rect x="516.28" y="1207.72" width="7.0" height="20.6" rx="1.6" fill="#3054a4"/><rect x="525.65" y="1207.72" width="7.0" height="20.6" rx="1.6" fill="#2d4c9c"/><rect x="535.02" y="1207.72" width="7.0" height="20.6" rx="1.6" fill="#2b4393"/><rect x="544.39" y="1207.72" width="7.0" height="20.6" rx="1.6" fill="#283b8b"/><rect x="553.76" y="1207.72" width="7.0" height="20.6" rx="1.6" fill="#263282"/><rect x="563.13" y="1207.72" width="7.0" height="20.6" rx="1.6" fill="#232a7a"/><rect x="575.16" y="1207.72" width="7.0" height="20.6" rx="1.6" fill="#3054a4"/><rect x="584.53" y="1207.72" width="7.0" height="20.6" rx="1.6" fill="#3a4da3"/><rect x="593.90" y="1207.72" width="7.0" height="20.6" rx="1.6" fill="#4446a2"/><rect x="603.27" y="1207.72" width="7.0" height="20.6" rx="1.6" fill="#4e40a2"/><rect x="612.64" y="1207.72" width="7.0" height="20.6" rx="1.6" fill="#5839a1"/><rect x="622.01" y="1207.72" width="7.0" height="20.6" rx="1.6" fill="#6232a0"/><rect x="634.04" y="1207.72" width="7.0" height="20.6" rx="1.6" fill="#3054a4"/><rect x="643.41" y="1207.72" width="7.0" height="20.6" rx="1.6" fill="#4e68a2"/><rect x="652.78" y="1207.72" width="7.0" height="20.6" rx="1.6" fill="#6d7c9f"/><rect x="662.15" y="1207.72" width="7.0" height="20.6" rx="1.6" fill="#8b909d"/><rect x="671.52" y="1207.72" width="7.0" height="20.6" rx="1.6" fill="#aaa49a"/><rect x="680.89" y="1207.72" width="7.0" height="20.6" rx="1.6" fill="#c8b898"/>
<rect x="163.00" y="1232.60" width="7.0" height="20.6" rx="1.6" fill="#b8529e"/><rect x="172.37" y="1232.60" width="7.0" height="20.6" rx="1.6" fill="#bb4887"/><rect x="181.74" y="1232.60" width="7.0" height="20.6" rx="1.6" fill="#be3f70"/><rect x="191.11" y="1232.60" width="7.0" height="20.6" rx="1.6" fill="#c2355a"/><rect x="200.48" y="1232.60" width="7.0" height="20.6" rx="1.6" fill="#c52c43"/><rect x="209.85" y="1232.60" width="7.0" height="20.6" rx="1.6" fill="#c8222c"/><rect x="221.88" y="1232.60" width="7.0" height="20.6" rx="1.6" fill="#b8529e"/><rect x="231.25" y="1232.60" width="7.0" height="20.6" rx="1.6" fill="#c04886"/><rect x="240.62" y="1232.60" width="7.0" height="20.6" rx="1.6" fill="#c93f6f"/><rect x="249.99" y="1232.60" width="7.0" height="20.6" rx="1.6" fill="#d13557"/><rect x="259.36" y="1232.60" width="7.0" height="20.6" rx="1.6" fill="#da2c40"/><rect x="268.73" y="1232.60" width="7.0" height="20.6" rx="1.6" fill="#e22228"/><rect x="280.76" y="1232.60" width="7.0" height="20.6" rx="1.6" fill="#b8529e"/><rect x="290.13" y="1232.60" width="7.0" height="20.6" rx="1.6" fill="#c36287"/><rect x="299.50" y="1232.60" width="7.0" height="20.6" rx="1.6" fill="#ce7170"/><rect x="308.87" y="1232.60" width="7.0" height="20.6" rx="1.6" fill="#da815a"/><rect x="318.24" y="1232.60" width="7.0" height="20.6" rx="1.6" fill="#e59043"/><rect x="327.61" y="1232.60" width="7.0" height="20.6" rx="1.6" fill="#f0a02c"/><rect x="339.64" y="1232.60" width="7.0" height="20.6" rx="1.6" fill="#b8529e"/><rect x="349.01" y="1232.60" width="7.0" height="20.6" rx="1.6" fill="#c25588"/><rect x="358.38" y="1232.60" width="7.0" height="20.6" rx="1.6" fill="#cb5872"/><rect x="367.75" y="1232.60" width="7.0" height="20.6" rx="1.6" fill="#d55c5c"/><rect x="377.12" y="1232.60" width="7.0" height="20.6" rx="1.6" fill="#de5f46"/><rect x="386.49" y="1232.60" width="7.0" height="20.6" rx="1.6" fill="#e86230"/><rect x="398.52" y="1232.60" width="7.0" height="20.6" rx="1.6" fill="#b8529e"/><rect x="407.89" y="1232.60" width="7.0" height="20.6" rx="1.6" fill="#c36588"/><rect x="417.26" y="1232.60" width="7.0" height="20.6" rx="1.6" fill="#ce7872"/><rect x="426.63" y="1232.60" width="7.0" height="20.6" rx="1.6" fill="#da8a5c"/><rect x="436.00" y="1232.60" width="7.0" height="20.6" rx="1.6" fill="#e59d46"/><rect x="445.37" y="1232.60" width="7.0" height="20.6" rx="1.6" fill="#f0b030"/><rect x="457.40" y="1232.60" width="7.0" height="20.6" rx="1.6" fill="#b8529e"/><rect x="466.77" y="1232.60" width="7.0" height="20.6" rx="1.6" fill="#b34892"/><rect x="476.14" y="1232.60" width="7.0" height="20.6" rx="1.6" fill="#ae3e85"/><rect x="485.51" y="1232.60" width="7.0" height="20.6" rx="1.6" fill="#aa3479"/><rect x="494.88" y="1232.60" width="7.0" height="20.6" rx="1.6" fill="#a52a6c"/><rect x="504.25" y="1232.60" width="7.0" height="20.6" rx="1.6" fill="#a02060"/><rect x="516.28" y="1232.60" width="7.0" height="20.6" rx="1.6" fill="#b8529e"/><rect x="525.65" y="1232.60" width="7.0" height="20.6" rx="1.6" fill="#94437f"/><rect x="535.02" y="1232.60" width="7.0" height="20.6" rx="1.6" fill="#703361"/><rect x="544.39" y="1232.60" width="7.0" height="20.6" rx="1.6" fill="#4d2442"/><rect x="553.76" y="1232.60" width="7.0" height="20.6" rx="1.6" fill="#291424"/><rect x="563.13" y="1232.60" width="7.0" height="20.6" rx="1.6" fill="#050505"/><rect x="575.16" y="1232.60" width="7.0" height="20.6" rx="1.6" fill="#b8529e"/><rect x="584.53" y="1232.60" width="7.0" height="20.6" rx="1.6" fill="#c04890"/><rect x="593.90" y="1232.60" width="7.0" height="20.6" rx="1.6" fill="#c83e83"/><rect x="603.27" y="1232.60" width="7.0" height="20.6" rx="1.6" fill="#d03475"/><rect x="612.64" y="1232.60" width="7.0" height="20.6" rx="1.6" fill="#d82a68"/><rect x="622.01" y="1232.60" width="7.0" height="20.6" rx="1.6" fill="#e0205a"/><rect x="634.04" y="1232.60" width="7.0" height="20.6" rx="1.6" fill="#b8529e"/><rect x="643.41" y="1232.60" width="7.0" height="20.6" rx="1.6" fill="#ba6aaa"/><rect x="652.78" y="1232.60" width="7.0" height="20.6" rx="1.6" fill="#bc82b6"/><rect x="662.15" y="1232.60" width="7.0" height="20.6" rx="1.6" fill="#be9ac3"/><rect x="671.52" y="1232.60" width="7.0" height="20.6" rx="1.6" fill="#c0b2cf"/><rect x="680.89" y="1232.60" width="7.0" height="20.6" rx="1.6" fill="#c2cadb"/>
<rect x="163.00" y="1257.48" width="7.0" height="20.6" rx="1.6" fill="#0e9443"/><rect x="172.37" y="1257.48" width="7.0" height="20.6" rx="1.6" fill="#229c43"/><rect x="181.74" y="1257.48" width="7.0" height="20.6" rx="1.6" fill="#36a343"/><rect x="191.11" y="1257.48" width="7.0" height="20.6" rx="1.6" fill="#4aab42"/><rect x="200.48" y="1257.48" width="7.0" height="20.6" rx="1.6" fill="#5eb242"/><rect x="209.85" y="1257.48" width="7.0" height="20.6" rx="1.6" fill="#72ba42"/><rect x="221.88" y="1257.48" width="7.0" height="20.6" rx="1.6" fill="#0e9443"/><rect x="231.25" y="1257.48" width="7.0" height="20.6" rx="1.6" fill="#229e63"/><rect x="240.62" y="1257.48" width="7.0" height="20.6" rx="1.6" fill="#35a983"/><rect x="249.99" y="1257.48" width="7.0" height="20.6" rx="1.6" fill="#49b3a2"/><rect x="259.36" y="1257.48" width="7.0" height="20.6" rx="1.6" fill="#5cbec2"/><rect x="268.73" y="1257.48" width="7.0" height="20.6" rx="1.6" fill="#70c8e2"/><rect x="280.76" y="1257.48" width="7.0" height="20.6" rx="1.6" fill="#0e9443"/><rect x="290.13" y="1257.48" width="7.0" height="20.6" rx="1.6" fill="#158857"/><rect x="299.50" y="1257.48" width="7.0" height="20.6" rx="1.6" fill="#1c7c6b"/><rect x="308.87" y="1257.48" width="7.0" height="20.6" rx="1.6" fill="#227080"/><rect x="318.24" y="1257.48" width="7.0" height="20.6" rx="1.6" fill="#296494"/><rect x="327.61" y="1257.48" width="7.0" height="20.6" rx="1.6" fill="#3058a8"/><rect x="339.64" y="1257.48" width="7.0" height="20.6" rx="1.6" fill="#0e9443"/><rect x="349.01" y="1257.48" width="7.0" height="20.6" rx="1.6" fill="#308656"/><rect x="358.38" y="1257.48" width="7.0" height="20.6" rx="1.6" fill="#527968"/><rect x="367.75" y="1257.48" width="7.0" height="20.6" rx="1.6" fill="#746b7b"/><rect x="377.12" y="1257.48" width="7.0" height="20.6" rx="1.6" fill="#965e8d"/><rect x="386.49" y="1257.48" width="7.0" height="20.6" rx="1.6" fill="#b850a0"/><rect x="398.52" y="1257.48" width="7.0" height="20.6" rx="1.6" fill="#0e9443"/><rect x="407.89" y="1257.48" width="7.0" height="20.6" rx="1.6" fill="#387e3e"/><rect x="417.26" y="1257.48" width="7.0" height="20.6" rx="1.6" fill="#626739"/><rect x="426.63" y="1257.48" width="7.0" height="20.6" rx="1.6" fill="#8c5134"/><rect x="436.00" y="1257.48" width="7.0" height="20.6" rx="1.6" fill="#b63a2f"/><rect x="445.37" y="1257.48" width="7.0" height="20.6" rx="1.6" fill="#e0242a"/><rect x="457.40" y="1257.48" width="7.0" height="20.6" rx="1.6" fill="#0e9443"/><rect x="466.77" y="1257.48" width="7.0" height="20.6" rx="1.6" fill="#3c9059"/><rect x="476.14" y="1257.48" width="7.0" height="20.6" rx="1.6" fill="#698d6f"/><rect x="485.51" y="1257.48" width="7.0" height="20.6" rx="1.6" fill="#978986"/><rect x="494.88" y="1257.48" width="7.0" height="20.6" rx="1.6" fill="#c4869c"/><rect x="504.25" y="1257.48" width="7.0" height="20.6" rx="1.6" fill="#f282b2"/><rect x="516.28" y="1257.48" width="7.0" height="20.6" rx="1.6" fill="#0e9443"/><rect x="525.65" y="1257.48" width="7.0" height="20.6" rx="1.6" fill="#329f60"/><rect x="535.02" y="1257.48" width="7.0" height="20.6" rx="1.6" fill="#56aa7c"/><rect x="544.39" y="1257.48" width="7.0" height="20.6" rx="1.6" fill="#7ab499"/><rect x="553.76" y="1257.48" width="7.0" height="20.6" rx="1.6" fill="#9ebfb5"/><rect x="563.13" y="1257.48" width="7.0" height="20.6" rx="1.6" fill="#c2cad2"/><rect x="575.16" y="1257.48" width="7.0" height="20.6" rx="1.6" fill="#0e9443"/><rect x="584.53" y="1257.48" width="7.0" height="20.6" rx="1.6" fill="#0c7737"/><rect x="593.90" y="1257.48" width="7.0" height="20.6" rx="1.6" fill="#0a5b2a"/><rect x="603.27" y="1257.48" width="7.0" height="20.6" rx="1.6" fill="#093e1e"/><rect x="612.64" y="1257.48" width="7.0" height="20.6" rx="1.6" fill="#072211"/><rect x="622.01" y="1257.48" width="7.0" height="20.6" rx="1.6" fill="#050505"/><rect x="634.04" y="1257.48" width="7.0" height="20.6" rx="1.6" fill="#0e9443"/><rect x="643.41" y="1257.48" width="7.0" height="20.6" rx="1.6" fill="#2b7d49"/><rect x="652.78" y="1257.48" width="7.0" height="20.6" rx="1.6" fill="#48664f"/><rect x="662.15" y="1257.48" width="7.0" height="20.6" rx="1.6" fill="#664e56"/><rect x="671.52" y="1257.48" width="7.0" height="20.6" rx="1.6" fill="#83375c"/><rect x="680.89" y="1257.48" width="7.0" height="20.6" rx="1.6" fill="#a02062"/>
<rect x="163.00" y="1282.36" width="7.0" height="20.6" rx="1.6" fill="#f09a2c"/><rect x="172.37" y="1282.36" width="7.0" height="20.6" rx="1.6" fill="#c68237"/><rect x="181.74" y="1282.36" width="7.0" height="20.6" rx="1.6" fill="#9c6942"/><rect x="191.11" y="1282.36" width="7.0" height="20.6" rx="1.6" fill="#73514e"/><rect x="200.48" y="1282.36" width="7.0" height="20.6" rx="1.6" fill="#493859"/><rect x="209.85" y="1282.36" width="7.0" height="20.6" rx="1.6" fill="#1f2064"/><rect x="221.88" y="1282.36" width="7.0" height="20.6" rx="1.6" fill="#f09a2c"/><rect x="231.25" y="1282.36" width="7.0" height="20.6" rx="1.6" fill="#f09547"/><rect x="240.62" y="1282.36" width="7.0" height="20.6" rx="1.6" fill="#f19062"/><rect x="249.99" y="1282.36" width="7.0" height="20.6" rx="1.6" fill="#f18c7c"/><rect x="259.36" y="1282.36" width="7.0" height="20.6" rx="1.6" fill="#f28797"/><rect x="268.73" y="1282.36" width="7.0" height="20.6" rx="1.6" fill="#f282b2"/><rect x="280.76" y="1282.36" width="7.0" height="20.6" rx="1.6" fill="#f09a2c"/><rect x="290.13" y="1282.36" width="7.0" height="20.6" rx="1.6" fill="#ed842c"/><rect x="299.50" y="1282.36" width="7.0" height="20.6" rx="1.6" fill="#ea6d2b"/><rect x="308.87" y="1282.36" width="7.0" height="20.6" rx="1.6" fill="#e6572b"/><rect x="318.24" y="1282.36" width="7.0" height="20.6" rx="1.6" fill="#e3402a"/><rect x="327.61" y="1282.36" width="7.0" height="20.6" rx="1.6" fill="#e02a2a"/><rect x="339.64" y="1282.36" width="7.0" height="20.6" rx="1.6" fill="#f09a2c"/><rect x="349.01" y="1282.36" width="7.0" height="20.6" rx="1.6" fill="#d6a030"/><rect x="358.38" y="1282.36" width="7.0" height="20.6" rx="1.6" fill="#bda634"/><rect x="367.75" y="1282.36" width="7.0" height="20.6" rx="1.6" fill="#a3ac38"/><rect x="377.12" y="1282.36" width="7.0" height="20.6" rx="1.6" fill="#8ab23c"/><rect x="386.49" y="1282.36" width="7.0" height="20.6" rx="1.6" fill="#70b840"/><rect x="398.52" y="1282.36" width="7.0" height="20.6" rx="1.6" fill="#f09a2c"/><rect x="407.89" y="1282.36" width="7.0" height="20.6" rx="1.6" fill="#d09c50"/><rect x="417.26" y="1282.36" width="7.0" height="20.6" rx="1.6" fill="#b09d75"/><rect x="426.63" y="1282.36" width="7.0" height="20.6" rx="1.6" fill="#909f99"/><rect x="436.00" y="1282.36" width="7.0" height="20.6" rx="1.6" fill="#70a0be"/><rect x="445.37" y="1282.36" width="7.0" height="20.6" rx="1.6" fill="#50a2e2"/><rect x="457.40" y="1282.36" width="7.0" height="20.6" rx="1.6" fill="#f09a2c"/><rect x="466.77" y="1282.36" width="7.0" height="20.6" rx="1.6" fill="#c39230"/><rect x="476.14" y="1282.36" width="7.0" height="20.6" rx="1.6" fill="#968934"/><rect x="485.51" y="1282.36" width="7.0" height="20.6" rx="1.6" fill="#688138"/><rect x="494.88" y="1282.36" width="7.0" height="20.6" rx="1.6" fill="#3b783c"/><rect x="504.25" y="1282.36" width="7.0" height="20.6" rx="1.6" fill="#0e7040"/><rect x="516.28" y="1282.36" width="7.0" height="20.6" rx="1.6" fill="#f09a2c"/><rect x="525.65" y="1282.36" width="7.0" height="20.6" rx="1.6" fill="#e28238"/><rect x="535.02" y="1282.36" width="7.0" height="20.6" rx="1.6" fill="#d36944"/><rect x="544.39" y="1282.36" width="7.0" height="20.6" rx="1.6" fill="#c55150"/><rect x="553.76" y="1282.36" width="7.0" height="20.6" rx="1.6" fill="#b6385c"/><rect x="563.13" y="1282.36" width="7.0" height="20.6" rx="1.6" fill="#a82068"/><rect x="575.16" y="1282.36" width="7.0" height="20.6" rx="1.6" fill="#f09a2c"/><rect x="584.53" y="1282.36" width="7.0" height="20.6" rx="1.6" fill="#eea82d"/><rect x="593.90" y="1282.36" width="7.0" height="20.6" rx="1.6" fill="#edb72e"/><rect x="603.27" y="1282.36" width="7.0" height="20.6" rx="1.6" fill="#ebc52e"/><rect x="612.64" y="1282.36" width="7.0" height="20.6" rx="1.6" fill="#ead42f"/><rect x="622.01" y="1282.36" width="7.0" height="20.6" rx="1.6" fill="#e8e230"/><rect x="634.04" y="1282.36" width="7.0" height="20.6" rx="1.6" fill="#f09a2c"/><rect x="643.41" y="1282.36" width="7.0" height="20.6" rx="1.6" fill="#c17c24"/><rect x="652.78" y="1282.36" width="7.0" height="20.6" rx="1.6" fill="#925e1c"/><rect x="662.15" y="1282.36" width="7.0" height="20.6" rx="1.6" fill="#634115"/><rect x="671.52" y="1282.36" width="7.0" height="20.6" rx="1.6" fill="#34230d"/><rect x="680.89" y="1282.36" width="7.0" height="20.6" rx="1.6" fill="#050505"/>
</g>

<!-- e10_labels.py -->
<g>
<circle cx="1460.7" cy="479.9" r="57" fill="#6a6f7a" opacity=".45" filter="url(#b4)"/>
<circle cx="1462.2" cy="477.4" r="57.5" fill="#ffffff"/>
<clipPath id="lc1"><circle cx="1462.2" cy="477.4" r="57.5"/></clipPath>
<g clip-path="url(#lc1)"><g transform="translate(1462.2,477.4)">
<path d="M-21,10.5 L-52,26 M-19,13 L-50,31" stroke="#8b8b8b" stroke-width="1.5" fill="none"/>
<path d="M-31.6,9.2 L-27,-11.5 L60,-52 L80,-9 L-4.1,30.5 L-17.9,24 Z" fill="#ffffff" stroke="#d9dadd" stroke-width="1" stroke-linejoin="round"/>
<circle cx="-20" cy="11" r="6.8" fill="#55575a"/><circle cx="-20" cy="11" r="4.6" fill="#a9abae"/><circle cx="-20" cy="11" r="2.2" fill="#8a8a8a"/>
<text transform="translate(-1,3.5) rotate(-24)" font-size="16.5" font-weight="bold" fill="#111" textLength="62" lengthAdjust="spacingAndGlyphs">Informat</text>
</g></g>
</g>
<g>
<circle cx="1605.8" cy="479.9" r="57" fill="#6a6f7a" opacity=".45" filter="url(#b4)"/>
<circle cx="1607.3" cy="477.4" r="57.5" fill="#ffffff"/>
<clipPath id="lc2"><circle cx="1607.3" cy="477.4" r="57.5"/></clipPath>
<g clip-path="url(#lc2)"><g transform="translate(1606.3,477.4)">
<path d="M-21,10.5 L-52,26 M-19,13 L-50,31" stroke="#8b8b8b" stroke-width="1.5" fill="none"/>
<path d="M-31.6,9.2 L-27,-11.5 L60,-52 L80,-9 L-4.1,30.5 L-17.9,24 Z" fill="#070707" stroke="#070707" stroke-width="1" stroke-linejoin="round"/>
<circle cx="-20" cy="11" r="6.8" fill="#55575a"/><circle cx="-20" cy="11" r="4.6" fill="#a9abae"/><circle cx="-20" cy="11" r="2.2" fill="#8a8a8a"/>
<text transform="translate(-1,3.5) rotate(-24)" font-size="16.5" font-weight="bold" fill="#f4f4f4" textLength="62" lengthAdjust="spacingAndGlyphs">Informat</text>
</g></g>
</g>
<g>
<circle cx="1752.2" cy="479.9" r="57" fill="#6a6f7a" opacity=".45" filter="url(#b4)"/>
<circle cx="1753.7" cy="477.4" r="57.5" fill="#ffffff"/>
<clipPath id="lc3"><circle cx="1753.7" cy="477.4" r="57.5"/></clipPath>
<g clip-path="url(#lc3)"><g transform="translate(1761.7,477.4)">
<path d="M-21,10.5 L-52,26 M-19,13 L-50,31" stroke="#8b8b8b" stroke-width="1.5" fill="none"/>
<path d="M-31.6,9.2 L-27,-11.5 L60,-52 L80,-9 L-4.1,30.5 L-17.9,24 Z" fill="#dcb680" stroke="#cfa670" stroke-width="1" stroke-linejoin="round"/>
<circle cx="-20" cy="11" r="6.8" fill="#55575a"/><circle cx="-20" cy="11" r="4.6" fill="#a9abae"/><circle cx="-20" cy="11" r="2.2" fill="#8a8a8a"/>
<text transform="translate(-1,3.5) rotate(-24)" font-size="16.5" font-weight="bold" fill="#4a341c" textLength="56" lengthAdjust="spacingAndGlyphs">Informa</text>
</g></g>
</g>

<!-- f10_products.py -->
<g>
<defs>
<linearGradient id="steel" x1="0" x2="1"><stop offset="0" stop-color="#8f9194"/><stop offset=".25" stop-color="#e6e7e9"/><stop offset=".5" stop-color="#b9bbbe"/><stop offset=".8" stop-color="#eeeeef"/><stop offset="1" stop-color="#8d8f92"/></linearGradient>
<linearGradient id="cyl" x1="0" x2="1"><stop offset="0" stop-color="#000" stop-opacity=".28"/><stop offset=".18" stop-color="#000" stop-opacity="0"/><stop offset=".42" stop-color="#fff" stop-opacity=".18"/><stop offset=".8" stop-color="#000" stop-opacity="0"/><stop offset="1" stop-color="#000" stop-opacity=".3"/></linearGradient>
<linearGradient id="cylw" x1="0" x2="1"><stop offset="0" stop-color="#7d7f88" stop-opacity=".45"/><stop offset=".2" stop-color="#fff" stop-opacity="0"/><stop offset=".8" stop-color="#fff" stop-opacity="0"/><stop offset="1" stop-color="#7d7f88" stop-opacity=".5"/></linearGradient>
</defs>
<path d="M1399.1,678.6 L1373.9,678.9 C1365.2,679.1 1361.3,684.1 1361.3,692.0 L1363.7,758.2 1375.5,758.2 1373.9,695.1 C1373.9,691.2 1375.5,689.6 1379.4,689.6 L1399.6,689.6 Z " fill="#efcdc3" />
<path d="M1399.1,678.6 L1373.9,678.9 C1365.2,679.1 1361.3,684.1 1361.3,692.0 L1363.7,758.2 1367.6,758.2 1365.5,692.0 C1365.5,685.7 1369.2,682.8 1375.5,682.5 L1399.6,682.2 Z " fill="#f7e0d8" />
<clipPath id="pc1"><polygon points="1398.7,662.0 1468.5,662.0 1466.1,720.4 1461.4,767.7 1456.7,783.4 1450.4,837.8 1415.7,837.8 1411.7,775.6 1403.1,751.9 1399.9,704.6"/></clipPath>
<polygon points="1398.7,662.0 1468.5,662.0 1466.1,720.4 1461.4,767.7 1456.7,783.4 1450.4,837.8 1415.7,837.8 1411.7,775.6 1403.1,751.9 1399.9,704.6" fill="#e58669" />
<g clip-path="url(#pc1)">
<ellipse cx="1443.3" cy="667.9" rx="5.2" ry="3.8" fill="#fbe9e0" opacity="0.64" transform="rotate(173 1443.3 667.9)" filter="url(#b2)"/>
<ellipse cx="1450.1" cy="758.2" rx="8.0" ry="2.4" fill="#fbe9e0" opacity="0.39" transform="rotate(59 1450.1 758.2)" filter="url(#b2)"/>
<ellipse cx="1434.2" cy="668.2" rx="4.6" ry="6.8" fill="#fbe9e0" opacity="0.57" transform="rotate(56 1434.2 668.2)" filter="url(#b2)"/>
<ellipse cx="1430.4" cy="711.9" rx="10.4" ry="7.6" fill="#fbe9e0" opacity="0.41" transform="rotate(108 1430.4 711.9)" filter="url(#b2)"/>
<ellipse cx="1423.0" cy="690.6" rx="11.1" ry="4.6" fill="#fbe9e0" opacity="0.39" transform="rotate(24 1423.0 690.6)" filter="url(#b2)"/>
<ellipse cx="1424.3" cy="723.3" rx="5.1" ry="2.5" fill="#fbe9e0" opacity="0.53" transform="rotate(31 1424.3 723.3)" filter="url(#b2)"/>
<ellipse cx="1465.9" cy="729.3" rx="7.6" ry="8.1" fill="#fbe9e0" opacity="0.60" transform="rotate(92 1465.9 729.3)" filter="url(#b2)"/>
<ellipse cx="1439.1" cy="785.8" rx="3.2" ry="3.8" fill="#fbe9e0" opacity="0.47" transform="rotate(20 1439.1 785.8)" filter="url(#b2)"/>
<ellipse cx="1457.9" cy="813.9" rx="6.1" ry="5.4" fill="#fbe9e0" opacity="0.68" transform="rotate(41 1457.9 813.9)" filter="url(#b2)"/>
<ellipse cx="1425.0" cy="699.9" rx="5.2" ry="8.9" fill="#fbe9e0" opacity="0.61" transform="rotate(155 1425.0 699.9)" filter="url(#b2)"/>
<ellipse cx="1443.0" cy="756.3" rx="5.0" ry="5.5" fill="#fbe9e0" opacity="0.46" transform="rotate(163 1443.0 756.3)" filter="url(#b2)"/>
<ellipse cx="1446.6" cy="701.7" rx="5.7" ry="7.7" fill="#fbe9e0" opacity="0.37" transform="rotate(8 1446.6 701.7)" filter="url(#b2)"/>
<ellipse cx="1454.5" cy="733.2" rx="3.4" ry="8.7" fill="#fbe9e0" opacity="0.58" transform="rotate(80 1454.5 733.2)" filter="url(#b2)"/>
<ellipse cx="1414.3" cy="750.2" rx="10.5" ry="6.8" fill="#fbe9e0" opacity="0.41" transform="rotate(35 1414.3 750.2)" filter="url(#b2)"/>
<ellipse cx="1416.6" cy="761.0" rx="5.1" ry="6.4" fill="#fbe9e0" opacity="0.71" transform="rotate(102 1416.6 761.0)" filter="url(#b2)"/>
<ellipse cx="1424.5" cy="836.6" rx="4.0" ry="5.7" fill="#fbe9e0" opacity="0.65" transform="rotate(28 1424.5 836.6)" filter="url(#b2)"/>
<ellipse cx="1410.3" cy="691.4" rx="8.7" ry="6.4" fill="#fbe9e0" opacity="0.50" transform="rotate(152 1410.3 691.4)" filter="url(#b2)"/>
<ellipse cx="1467.5" cy="755.4" rx="11.3" ry="8.3" fill="#fbe9e0" opacity="0.35" transform="rotate(29 1467.5 755.4)" filter="url(#b2)"/>
<ellipse cx="1446.1" cy="756.7" rx="5.2" ry="6.8" fill="#fbe9e0" opacity="0.39" transform="rotate(111 1446.1 756.7)" filter="url(#b2)"/>
<ellipse cx="1410.6" cy="664.2" rx="9.1" ry="7.3" fill="#fbe9e0" opacity="0.74" transform="rotate(45 1410.6 664.2)" filter="url(#b2)"/>
<ellipse cx="1434.3" cy="682.1" rx="8.3" ry="8.2" fill="#fbe9e0" opacity="0.55" transform="rotate(50 1434.3 682.1)" filter="url(#b2)"/>
<ellipse cx="1410.3" cy="795.9" rx="7.5" ry="7.7" fill="#fbe9e0" opacity="0.56" transform="rotate(0 1410.3 795.9)" filter="url(#b2)"/>
<ellipse cx="1440.5" cy="748.4" rx="3.8" ry="4.8" fill="#fbe9e0" opacity="0.74" transform="rotate(78 1440.5 748.4)" filter="url(#b2)"/>
<ellipse cx="1416.2" cy="705.4" rx="7.8" ry="2.8" fill="#fbe9e0" opacity="0.64" transform="rotate(17 1416.2 705.4)" filter="url(#b2)"/>
<ellipse cx="1466.2" cy="756.0" rx="3.9" ry="6.9" fill="#fbe9e0" opacity="0.73" transform="rotate(42 1466.2 756.0)" filter="url(#b2)"/>
<ellipse cx="1417.9" cy="814.9" rx="6.5" ry="3.7" fill="#fbe9e0" opacity="0.57" transform="rotate(176 1417.9 814.9)" filter="url(#b2)"/>
<ellipse cx="1413.6" cy="717.7" rx="11.5" ry="6.8" fill="#fbe9e0" opacity="0.53" transform="rotate(132 1413.6 717.7)" filter="url(#b2)"/>
<ellipse cx="1430.5" cy="706.6" rx="3.4" ry="2.4" fill="#fbe9e0" opacity="0.57" transform="rotate(150 1430.5 706.6)" filter="url(#b2)"/>
<ellipse cx="1414.8" cy="675.9" rx="8.3" ry="3.8" fill="#fbe9e0" opacity="0.71" transform="rotate(84 1414.8 675.9)" filter="url(#b2)"/>
<ellipse cx="1404.7" cy="704.9" rx="8.6" ry="3.7" fill="#fbe9e0" opacity="0.40" transform="rotate(146 1404.7 704.9)" filter="url(#b2)"/>
<ellipse cx="1439.0" cy="705.8" rx="6.9" ry="5.1" fill="#fbe9e0" opacity="0.39" transform="rotate(168 1439.0 705.8)" filter="url(#b2)"/>
<ellipse cx="1429.1" cy="737.1" rx="6.9" ry="7.4" fill="#fbe9e0" opacity="0.62" transform="rotate(165 1429.1 737.1)" filter="url(#b2)"/>
<ellipse cx="1406.6" cy="733.4" rx="5.8" ry="8.3" fill="#fbe9e0" opacity="0.45" transform="rotate(48 1406.6 733.4)" filter="url(#b2)"/>
<ellipse cx="1436.3" cy="687.9" rx="4.4" ry="5.5" fill="#fbe9e0" opacity="0.70" transform="rotate(19 1436.3 687.9)" filter="url(#b2)"/>
<ellipse cx="1430.0" cy="813.0" rx="7.6" ry="2.6" fill="#fbe9e0" opacity="0.75" transform="rotate(3 1430.0 813.0)" filter="url(#b2)"/>
<ellipse cx="1465.6" cy="824.3" rx="10.2" ry="3.4" fill="#fbe9e0" opacity="0.54" transform="rotate(54 1465.6 824.3)" filter="url(#b2)"/>
<ellipse cx="1458.5" cy="820.1" rx="4.3" ry="2.2" fill="#fbe9e0" opacity="0.51" transform="rotate(116 1458.5 820.1)" filter="url(#b2)"/>
<ellipse cx="1419.3" cy="784.4" rx="9.2" ry="7.8" fill="#fbe9e0" opacity="0.61" transform="rotate(124 1419.3 784.4)" filter="url(#b2)"/>
<ellipse cx="1410.4" cy="715.1" rx="11.2" ry="6.3" fill="#fbe9e0" opacity="0.57" transform="rotate(80 1410.4 715.1)" filter="url(#b2)"/>
<ellipse cx="1403.8" cy="764.9" rx="7.2" ry="8.3" fill="#fbe9e0" opacity="0.41" transform="rotate(130 1403.8 764.9)" filter="url(#b2)"/>
<ellipse cx="1405.3" cy="695.8" rx="8.0" ry="7.0" fill="#fbe9e0" opacity="0.44" transform="rotate(30 1405.3 695.8)" filter="url(#b2)"/>
<ellipse cx="1463.8" cy="762.4" rx="7.9" ry="2.5" fill="#fbe9e0" opacity="0.38" transform="rotate(168 1463.8 762.4)" filter="url(#b2)"/>
<ellipse cx="1439.5" cy="754.3" rx="10.9" ry="3.7" fill="#fbe9e0" opacity="0.64" transform="rotate(61 1439.5 754.3)" filter="url(#b2)"/>
<ellipse cx="1417.9" cy="686.3" rx="8.4" ry="5.5" fill="#fbe9e0" opacity="0.72" transform="rotate(18 1417.9 686.3)" filter="url(#b2)"/>
<ellipse cx="1400.5" cy="771.3" rx="7.7" ry="2.9" fill="#fbe9e0" opacity="0.57" transform="rotate(129 1400.5 771.3)" filter="url(#b2)"/>
<ellipse cx="1417.9" cy="825.5" rx="10.5" ry="8.4" fill="#fbe9e0" opacity="0.50" transform="rotate(40 1417.9 825.5)" filter="url(#b2)"/>
<ellipse cx="1429.1" cy="756.7" rx="5.3" ry="8.7" fill="#de6c50" opacity="0.63" transform="rotate(135 1429.1 756.7)" filter="url(#b2)"/>
<ellipse cx="1402.0" cy="802.0" rx="5.3" ry="6.7" fill="#de6c50" opacity="0.68" transform="rotate(34 1402.0 802.0)" filter="url(#b2)"/>
<ellipse cx="1418.2" cy="814.1" rx="8.4" ry="3.5" fill="#de6c50" opacity="0.45" transform="rotate(53 1418.2 814.1)" filter="url(#b2)"/>
<ellipse cx="1446.8" cy="700.5" rx="7.7" ry="4.2" fill="#de6c50" opacity="0.52" transform="rotate(13 1446.8 700.5)" filter="url(#b2)"/>
<ellipse cx="1407.3" cy="736.9" rx="5.1" ry="2.5" fill="#de6c50" opacity="0.62" transform="rotate(163 1407.3 736.9)" filter="url(#b2)"/>
<ellipse cx="1463.3" cy="693.5" rx="6.3" ry="7.0" fill="#de6c50" opacity="0.55" transform="rotate(28 1463.3 693.5)" filter="url(#b2)"/>
<ellipse cx="1406.2" cy="813.0" rx="9.6" ry="6.0" fill="#de6c50" opacity="0.64" transform="rotate(149 1406.2 813.0)" filter="url(#b2)"/>
<ellipse cx="1436.3" cy="737.9" rx="3.5" ry="4.8" fill="#de6c50" opacity="0.68" transform="rotate(10 1436.3 737.9)" filter="url(#b2)"/>
<ellipse cx="1458.2" cy="701.5" rx="4.9" ry="3.2" fill="#de6c50" opacity="0.62" transform="rotate(104 1458.2 701.5)" filter="url(#b2)"/>
<ellipse cx="1462.9" cy="790.9" rx="9.7" ry="4.0" fill="#de6c50" opacity="0.41" transform="rotate(45 1462.9 790.9)" filter="url(#b2)"/>
<ellipse cx="1457.1" cy="670.9" rx="8.4" ry="4.6" fill="#de6c50" opacity="0.68" transform="rotate(171 1457.1 670.9)" filter="url(#b2)"/>
<ellipse cx="1456.0" cy="801.0" rx="5.0" ry="7.5" fill="#de6c50" opacity="0.39" transform="rotate(9 1456.0 801.0)" filter="url(#b2)"/>
<ellipse cx="1455.6" cy="703.6" rx="8.9" ry="5.4" fill="#de6c50" opacity="0.46" transform="rotate(58 1455.6 703.6)" filter="url(#b2)"/>
<ellipse cx="1415.6" cy="776.0" rx="6.0" ry="4.3" fill="#de6c50" opacity="0.37" transform="rotate(71 1415.6 776.0)" filter="url(#b2)"/>
<ellipse cx="1423.6" cy="751.1" rx="8.0" ry="7.8" fill="#de6c50" opacity="0.47" transform="rotate(7 1423.6 751.1)" filter="url(#b2)"/>
<ellipse cx="1408.8" cy="827.4" rx="4.4" ry="8.6" fill="#de6c50" opacity="0.44" transform="rotate(27 1408.8 827.4)" filter="url(#b2)"/>
<ellipse cx="1439.1" cy="724.0" rx="8.7" ry="5.3" fill="#de6c50" opacity="0.69" transform="rotate(29 1439.1 724.0)" filter="url(#b2)"/>
<ellipse cx="1425.8" cy="762.2" rx="5.0" ry="7.0" fill="#de6c50" opacity="0.35" transform="rotate(137 1425.8 762.2)" filter="url(#b2)"/>
<ellipse cx="1444.8" cy="822.4" rx="8.4" ry="3.8" fill="#de6c50" opacity="0.50" transform="rotate(170 1444.8 822.4)" filter="url(#b2)"/>
<ellipse cx="1459.6" cy="769.9" rx="7.9" ry="3.3" fill="#de6c50" opacity="0.67" transform="rotate(129 1459.6 769.9)" filter="url(#b2)"/>
<ellipse cx="1421.0" cy="734.4" rx="6.0" ry="4.4" fill="#de6c50" opacity="0.39" transform="rotate(107 1421.0 734.4)" filter="url(#b2)"/>
<ellipse cx="1443.4" cy="729.5" rx="8.5" ry="3.6" fill="#de6c50" opacity="0.55" transform="rotate(103 1443.4 729.5)" filter="url(#b2)"/>
<rect x="1396.8" y="660.5" width="74.1" height="179.8" rx="0" fill="url(#cyl)" />
</g>
<rect x="1401.5" y="646.6" width="12.6" height="4.7" rx="5" fill="#d5d7e4" />
<rect x="1453.5" y="646.6" width="12.6" height="4.7" rx="5" fill="#d5d7e4" />
<rect x="1397.7" y="650.7" width="71.3" height="12.6" rx="5" fill="#c9cde0" />
<rect x="1397.7" y="650.7" width="71.3" height="5.0" rx="5" fill="#dcdfec" />
<path d="M1482.7,649.4 C1478.8,638.4 1480.3,628.9 1483.5,624.2 L1488.2,625.0 C1486.6,632.1 1486.6,636.8 1491.4,637.6 L1507.1,643.9 1524.5,643.9 1540.3,635.2 C1545.0,632.1 1545.0,627.3 1545.8,624.2 L1550.5,623.4 C1554.4,630.5 1554.4,641.5 1550.5,650.2 Z " fill="#1d1e21" />
<path d="M1488.2,635.2 C1487.4,641.5 1489.0,645.5 1492.9,647.1 L1507.1,647.1 1507.1,643.9 1492.2,638.1 Z " fill="#f1f2f6" />
<path d="M1542.6,636.0 C1545.0,640.7 1545.0,645.5 1543.4,647.8 L1526.1,647.5 1526.1,644.7 1540.3,636.8 Z " fill="#f1f2f6" />
<rect x="1509.5" y="628.1" width="14.2" height="26.0" rx="4" fill="#151618" />
<rect x="1477.2" y="648.6" width="74.9" height="14.7" rx="6" fill="#202124" />
<rect x="1477.2" y="648.6" width="74.9" height="3.6" rx="6" fill="#34363a" />
<clipPath id="pc4"><polygon points="1483.2,662.8 1549.7,662.8 1549.1,751.9 1545.0,791.3 1535.5,828.4 1497.7,828.4 1488.2,791.3 1483.8,751.9"/></clipPath>
<polygon points="1483.2,662.8 1549.7,662.8 1549.1,751.9 1545.0,791.3 1535.5,828.4 1497.7,828.4 1488.2,791.3 1483.8,751.9" fill="#2e5db0" />
<g clip-path="url(#pc4)">
<rect x="1481.9" y="662.8" width="69.4" height="5.8" rx="0" fill="url(#steel)" />
<ellipse cx="1499.3" cy="677.8" rx="5.5" ry="5.5" fill="#e8e27a" filter="url(#b1)"/>
<ellipse cx="1527.6" cy="674.6" rx="4.4" ry="4.4" fill="#d8e89a" filter="url(#b1)"/>
<ellipse cx="1527.6" cy="698.3" rx="6.0" ry="5.4" fill="#e0e060" filter="url(#b1)"/>
<ellipse cx="1545.0" cy="677.8" rx="3.5" ry="4.4" fill="#cfe0b0" filter="url(#b1)"/>
<ellipse cx="1491.4" cy="698.3" rx="6.3" ry="9.5" fill="#6f9fe0" filter="url(#b1)"/>
<ellipse cx="1510.3" cy="710.9" rx="11.0" ry="4.7" fill="#7fb0ea" filter="url(#b1)"/>
<ellipse cx="1538.7" cy="720.4" rx="6.3" ry="9.5" fill="#4f86d8" filter="url(#b1)"/>
<ellipse cx="1496.1" cy="729.8" rx="7.9" ry="4.7" fill="#9fc4f0" filter="url(#b1)"/>
<path d="M1519.0,681.0 C1523.7,692.0 1529.2,710.9 1533.6,736.1 L1538.7,767.7 1538.7,829.2 1502.4,829.2 1504.0,791.3 1507.9,751.9 C1509.5,723.5 1513.4,698.3 1519.0,681.0 Z " fill="#171c2a" />
<path d="M1504.0,723.5 C1505.6,751.9 1504.8,783.4 1507.1,827.6 " fill="none" stroke="#3f74c8" stroke-width="3" opacity=".8"/>
<rect x="1481.9" y="668.7" width="69.4" height="162.1" rx="0" fill="url(#cyl)" />
</g>
<clipPath id="pc6"><polygon points="1593.9,672.3 1615.2,672.3 1616.8,685.7 1623.9,710.9 1625.4,751.9 1623.1,826.0 1594.7,826.0 1586.8,751.9 1587.6,710.9 1592.3,685.7"/></clipPath>
<polygon points="1593.9,672.3 1615.2,672.3 1616.8,685.7 1623.9,710.9 1625.4,751.9 1623.1,826.0 1594.7,826.0 1586.8,751.9 1587.6,710.9 1592.3,685.7" fill="#eceaf1" />
<g clip-path="url(#pc6)">
<ellipse cx="1614.4" cy="726.7" rx="9.5" ry="15.0" fill="#f0a33a" />
<ellipse cx="1612.8" cy="720.4" rx="5.5" ry="7.9" fill="#f6c25a" />
<ellipse cx="1607.3" cy="767.7" rx="9.5" ry="12.6" fill="#2a2830" filter="url(#b1)"/>
<ellipse cx="1607.3" cy="799.2" rx="17.3" ry="23.7" fill="#a7a1bb" filter="url(#b2)"/>
<ellipse cx="1615.2" cy="794.5" rx="3.9" ry="4.7" fill="#e6c238" />
<rect x="1585.2" y="671.5" width="41.0" height="156.1" rx="0" fill="url(#cylw)" />
</g>
<path d="M1591.1,672.3 L1591.1,660.5 C1591.1,654.9 1596.3,652.9 1604.6,652.9 C1613.0,652.9 1618.0,654.9 1618.0,660.5 L1618.0,672.3 Z " fill="url(#steel)" />
<clipPath id="pc8"><polygon points="1672.7,698.3 1676.7,692.0 1720.8,692.0 1729.5,701.5 1731.9,720.4 1731.9,827.6 1727.1,837.1 1679.8,837.1 1675.1,827.6 1672.7,720.4"/></clipPath>
<polygon points="1672.7,698.3 1676.7,692.0 1720.8,692.0 1729.5,701.5 1731.9,720.4 1731.9,827.6 1727.1,837.1 1679.8,837.1 1675.1,827.6 1672.7,720.4" fill="#1f3f78" />
<g clip-path="url(#pc8)">
<ellipse cx="1700.5" cy="748.1" rx="5.6" ry="2.6" fill="#2aa6b4" transform="rotate(86 1700.5 748.1)"/>
<ellipse cx="1702.9" cy="822.6" rx="5.2" ry="2.1" fill="#2aa6b4" transform="rotate(97 1702.9 822.6)"/>
<ellipse cx="1683.4" cy="829.4" rx="10.7" ry="1.9" fill="#3ab4c4" transform="rotate(60 1683.4 829.4)"/>
<ellipse cx="1676.5" cy="713.9" rx="10.2" ry="2.8" fill="#35b8bd" transform="rotate(176 1676.5 713.9)"/>
<ellipse cx="1695.9" cy="801.0" rx="5.4" ry="1.7" fill="#58c8c0" transform="rotate(107 1695.9 801.0)"/>
<ellipse cx="1725.4" cy="804.8" rx="10.5" ry="1.9" fill="#49c0a0" transform="rotate(11 1725.4 804.8)"/>
<ellipse cx="1685.2" cy="820.9" rx="10.3" ry="1.3" fill="#2f78b8" transform="rotate(125 1685.2 820.9)"/>
<ellipse cx="1681.6" cy="728.7" rx="9.4" ry="2.6" fill="#2aa6b4" transform="rotate(31 1681.6 728.7)"/>
<ellipse cx="1718.1" cy="723.2" rx="10.1" ry="1.8" fill="#35b8bd" transform="rotate(34 1718.1 723.2)"/>
<ellipse cx="1705.0" cy="697.6" rx="5.3" ry="2.0" fill="#58c8c0" transform="rotate(107 1705.0 697.6)"/>
<ellipse cx="1677.5" cy="722.4" rx="9.6" ry="2.4" fill="#3ab4c4" transform="rotate(44 1677.5 722.4)"/>
<ellipse cx="1728.4" cy="797.3" rx="5.0" ry="1.7" fill="#3ab4c4" transform="rotate(68 1728.4 797.3)"/>
<ellipse cx="1716.5" cy="776.8" rx="4.9" ry="2.6" fill="#2f78b8" transform="rotate(60 1716.5 776.8)"/>
<ellipse cx="1683.0" cy="766.8" rx="9.4" ry="2.6" fill="#35b8bd" transform="rotate(88 1683.0 766.8)"/>
<ellipse cx="1679.9" cy="820.3" rx="7.0" ry="1.6" fill="#58c8c0" transform="rotate(147 1679.9 820.3)"/>
<ellipse cx="1717.0" cy="748.9" rx="8.6" ry="1.3" fill="#35b8bd" transform="rotate(54 1717.0 748.9)"/>
<ellipse cx="1686.5" cy="733.4" rx="9.9" ry="1.7" fill="#2a90a8" transform="rotate(26 1686.5 733.4)"/>
<ellipse cx="1703.7" cy="703.0" rx="7.1" ry="2.1" fill="#2f78b8" transform="rotate(127 1703.7 703.0)"/>
<ellipse cx="1693.7" cy="805.5" rx="8.3" ry="1.4" fill="#58c8c0" transform="rotate(24 1693.7 805.5)"/>
<ellipse cx="1729.8" cy="752.0" rx="7.1" ry="2.6" fill="#49c0a0" transform="rotate(35 1729.8 752.0)"/>
<ellipse cx="1712.5" cy="719.4" rx="10.0" ry="1.7" fill="#2aa6b4" transform="rotate(44 1712.5 719.4)"/>
<ellipse cx="1688.9" cy="718.5" rx="5.5" ry="1.5" fill="#2aa6b4" transform="rotate(15 1688.9 718.5)"/>
<ellipse cx="1699.8" cy="806.8" rx="6.6" ry="1.3" fill="#49c0a0" transform="rotate(72 1699.8 806.8)"/>
<ellipse cx="1681.7" cy="774.9" rx="5.6" ry="1.4" fill="#2a90a8" transform="rotate(178 1681.7 774.9)"/>
<ellipse cx="1680.4" cy="754.7" rx="5.6" ry="2.1" fill="#2f78b8" transform="rotate(150 1680.4 754.7)"/>
<ellipse cx="1725.3" cy="719.1" rx="9.2" ry="2.5" fill="#7ad0c8" transform="rotate(89 1725.3 719.1)"/>
<ellipse cx="1679.3" cy="702.0" rx="8.1" ry="1.5" fill="#35b8bd" transform="rotate(41 1679.3 702.0)"/>
<ellipse cx="1719.0" cy="726.7" rx="4.8" ry="1.5" fill="#7ad0c8" transform="rotate(151 1719.0 726.7)"/>
<ellipse cx="1706.2" cy="750.2" rx="5.8" ry="2.0" fill="#2a90a8" transform="rotate(137 1706.2 750.2)"/>
<ellipse cx="1677.4" cy="787.5" rx="8.4" ry="2.2" fill="#2f78b8" transform="rotate(139 1677.4 787.5)"/>
<ellipse cx="1691.5" cy="769.9" rx="8.8" ry="2.5" fill="#2a90a8" transform="rotate(16 1691.5 769.9)"/>
<ellipse cx="1715.8" cy="797.4" rx="5.4" ry="2.4" fill="#7ad0c8" transform="rotate(15 1715.8 797.4)"/>
<ellipse cx="1702.1" cy="785.5" rx="5.1" ry="2.2" fill="#49c0a0" transform="rotate(62 1702.1 785.5)"/>
<ellipse cx="1724.8" cy="727.9" rx="9.9" ry="2.4" fill="#7ad0c8" transform="rotate(62 1724.8 727.9)"/>
<ellipse cx="1675.6" cy="779.9" rx="8.6" ry="2.3" fill="#2f78b8" transform="rotate(150 1675.6 779.9)"/>
<ellipse cx="1677.6" cy="722.0" rx="8.6" ry="1.5" fill="#35b8bd" transform="rotate(7 1677.6 722.0)"/>
<ellipse cx="1694.2" cy="761.9" rx="8.1" ry="1.3" fill="#35b8bd" transform="rotate(85 1694.2 761.9)"/>
<ellipse cx="1678.5" cy="740.8" rx="7.7" ry="2.0" fill="#3ab4c4" transform="rotate(98 1678.5 740.8)"/>
<ellipse cx="1731.1" cy="813.3" rx="5.4" ry="1.8" fill="#58c8c0" transform="rotate(115 1731.1 813.3)"/>
<ellipse cx="1719.0" cy="722.4" rx="6.1" ry="1.4" fill="#35b8bd" transform="rotate(19 1719.0 722.4)"/>
<ellipse cx="1728.3" cy="833.7" rx="7.1" ry="2.4" fill="#7ad0c8" transform="rotate(160 1728.3 833.7)"/>
<ellipse cx="1704.0" cy="747.6" rx="8.7" ry="1.6" fill="#2a90a8" transform="rotate(132 1704.0 747.6)"/>
<ellipse cx="1713.4" cy="697.3" rx="6.3" ry="2.2" fill="#35b8bd" transform="rotate(132 1713.4 697.3)"/>
<ellipse cx="1720.2" cy="703.3" rx="6.3" ry="2.6" fill="#58c8c0" transform="rotate(163 1720.2 703.3)"/>
<ellipse cx="1676.9" cy="734.2" rx="6.6" ry="2.5" fill="#49c0a0" transform="rotate(103 1676.9 734.2)"/>
<ellipse cx="1727.8" cy="819.5" rx="10.5" ry="2.8" fill="#35b8bd" transform="rotate(7 1727.8 819.5)"/>
<ellipse cx="1692.1" cy="730.2" rx="8.5" ry="2.0" fill="#49c0a0" transform="rotate(102 1692.1 730.2)"/>
<ellipse cx="1698.6" cy="706.3" rx="6.6" ry="2.0" fill="#7ad0c8" transform="rotate(112 1698.6 706.3)"/>
<ellipse cx="1696.0" cy="741.9" rx="5.1" ry="1.4" fill="#49c0a0" transform="rotate(139 1696.0 741.9)"/>
<ellipse cx="1675.1" cy="725.1" rx="7.0" ry="2.7" fill="#35b8bd" transform="rotate(86 1675.1 725.1)"/>
<ellipse cx="1730.4" cy="831.7" rx="8.5" ry="2.7" fill="#2f78b8" transform="rotate(54 1730.4 831.7)"/>
<ellipse cx="1714.2" cy="804.6" rx="5.2" ry="2.3" fill="#2f78b8" transform="rotate(120 1714.2 804.6)"/>
<ellipse cx="1686.8" cy="798.3" rx="9.5" ry="2.5" fill="#35b8bd" transform="rotate(118 1686.8 798.3)"/>
<ellipse cx="1715.4" cy="735.5" rx="8.1" ry="1.4" fill="#2aa6b4" transform="rotate(80 1715.4 735.5)"/>
<ellipse cx="1676.0" cy="716.3" rx="5.8" ry="1.4" fill="#2f78b8" transform="rotate(166 1676.0 716.3)"/>
<ellipse cx="1722.5" cy="750.4" rx="8.4" ry="2.6" fill="#49c0a0" transform="rotate(91 1722.5 750.4)"/>
<ellipse cx="1728.8" cy="723.8" rx="10.5" ry="2.2" fill="#3ab4c4" transform="rotate(146 1728.8 723.8)"/>
<ellipse cx="1683.5" cy="738.6" rx="10.3" ry="1.7" fill="#2f78b8" transform="rotate(23 1683.5 738.6)"/>
<ellipse cx="1689.4" cy="715.5" rx="7.6" ry="2.3" fill="#58c8c0" transform="rotate(45 1689.4 715.5)"/>
<ellipse cx="1692.8" cy="801.3" rx="6.9" ry="2.2" fill="#2a90a8" transform="rotate(88 1692.8 801.3)"/>
<ellipse cx="1675.1" cy="721.6" rx="9.6" ry="2.3" fill="#35b8bd" transform="rotate(116 1675.1 721.6)"/>
<ellipse cx="1681.4" cy="725.1" rx="8.2" ry="2.7" fill="#58c8c0" transform="rotate(131 1681.4 725.1)"/>
<ellipse cx="1685.4" cy="792.5" rx="7.4" ry="2.6" fill="#2aa6b4" transform="rotate(90 1685.4 792.5)"/>
<ellipse cx="1702.5" cy="703.8" rx="9.8" ry="1.9" fill="#7ad0c8" transform="rotate(111 1702.5 703.8)"/>
<ellipse cx="1710.4" cy="832.0" rx="8.2" ry="2.7" fill="#35b8bd" transform="rotate(90 1710.4 832.0)"/>
<ellipse cx="1688.7" cy="730.2" rx="7.7" ry="2.1" fill="#2aa6b4" transform="rotate(169 1688.7 730.2)"/>
<ellipse cx="1705.0" cy="790.3" rx="10.9" ry="1.5" fill="#2aa6b4" transform="rotate(150 1705.0 790.3)"/>
<ellipse cx="1707.4" cy="723.6" rx="10.0" ry="1.7" fill="#3ab4c4" transform="rotate(84 1707.4 723.6)"/>
<ellipse cx="1690.9" cy="700.3" rx="7.3" ry="2.5" fill="#7ad0c8" transform="rotate(118 1690.9 700.3)"/>
<ellipse cx="1729.8" cy="701.1" rx="5.8" ry="1.5" fill="#58c8c0" transform="rotate(163 1729.8 701.1)"/>
<ellipse cx="1701.9" cy="733.0" rx="6.3" ry="3.5" fill="#ee5f8e" transform="rotate(-20 1701.9 733.0)"/>
<path d="M1705.7,732.0 q1.5,-4 3.5,-5" stroke="#f08aac" stroke-width="1" fill="none"/>
<ellipse cx="1717.7" cy="759.8" rx="7.1" ry="3.5" fill="#ee5f8e" transform="rotate(10 1717.7 759.8)"/>
<path d="M1721.9,758.8 q1.5,-4 3.5,-5" stroke="#f08aac" stroke-width="1" fill="none"/>
<ellipse cx="1697.2" cy="788.2" rx="8.7" ry="3.5" fill="#ee5f8e" transform="rotate(-10 1697.2 788.2)"/>
<path d="M1702.4,787.2 q1.5,-4 3.5,-5" stroke="#f08aac" stroke-width="1" fill="none"/>
<ellipse cx="1711.4" cy="826.0" rx="7.1" ry="4.1" fill="#ee5f8e" transform="rotate(15 1711.4 826.0)"/>
<path d="M1715.6,825.0 q1.5,-4 3.5,-5" stroke="#f08aac" stroke-width="1" fill="none"/>
<ellipse cx="1684.6" cy="745.6" rx="4.7" ry="2.5" fill="#ee5f8e" transform="rotate(30 1684.6 745.6)"/>
<path d="M1687.4,744.6 q1.5,-4 3.5,-5" stroke="#f08aac" stroke-width="1" fill="none"/>
<ellipse cx="1722.4" cy="796.1" rx="4.7" ry="2.5" fill="#ee5f8e" transform="rotate(-30 1722.4 796.1)"/>
<path d="M1725.2,795.1 q1.5,-4 3.5,-5" stroke="#f08aac" stroke-width="1" fill="none"/>
<rect x="1670.4" y="690.4" width="63.1" height="148.2" rx="0" fill="url(#cyl)" />
</g>
<path d="M1684.6,698.3 C1690.9,710.9 1697.2,729.8 1710.6,751.9 " fill="none" stroke="#14161a" stroke-width="3.4"/>
<path d="M1684.6,698.3 C1690.9,710.9 1697.2,729.8 1710.6,751.9 " fill="none" stroke="#2fb6d6" stroke-width="1.5" stroke-dasharray="2 2.5"/>
<path d="M1727.1,695.1 C1735.0,701.5 1736.6,714.1 1739.8,725.1 " fill="none" stroke="#14161a" stroke-width="3"/>
<path d="M1727.1,695.1 C1735.0,701.5 1736.6,714.1 1739.8,725.1 " fill="none" stroke="#2fb6d6" stroke-width="1.3" stroke-dasharray="2 2.5"/>
<path d="M1724.0,693.6 L1719.3,723.5 " fill="none" stroke="#d5d6da" stroke-width="1.6"/>
<ellipse cx="1687.7" cy="700.7" rx="6.6" ry="6.3" fill="#17181b" />
<path d="M1674.8,692.0 L1674.8,676.2 C1674.8,672.3 1677.5,670.7 1681.4,670.7 L1715.3,670.7 C1719.3,670.7 1721.1,672.8 1721.1,676.2 L1721.1,692.0 Z " fill="#1b1c1f" />
<path d="M1674.3,673.1 L1674.3,649.4 C1674.3,643.9 1679.8,642.3 1690.9,643.1 C1701.9,643.9 1709.8,651.0 1717.7,669.9 L1712.2,670.7 C1705.9,657.3 1698.8,650.2 1689.3,649.4 C1683.0,649.1 1680.6,650.7 1680.6,655.7 L1680.6,673.1 Z " fill="#1b1c1f" />
<rect x="1694.0" y="662.0" width="15.8" height="11.0" rx="6" fill="#232428" />
<rect x="1674.8" y="681.7" width="46.4" height="2.4" rx="0" fill="#33353a" />
<clipPath id="pc5"><polygon points="1524.8,704.6 1601.8,704.6 1599.4,791.3 1531.6,792.9"/></clipPath>
<polygon points="1524.8,704.6 1601.8,704.6 1599.4,791.3 1531.6,792.9" fill="#dff0ea"/>
<g clip-path="url(#pc5)">
<ellipse cx="1549.7" cy="730.0" rx="4.3" ry="1.6" fill="#f0508a" transform="rotate(24 1549.7 730.0)"/>
<ellipse cx="1553.0" cy="723.1" rx="3.8" ry="1.5" fill="#9ad84a" transform="rotate(107 1553.0 723.1)"/>
<ellipse cx="1530.2" cy="725.5" rx="3.6" ry="3.2" fill="#3db4e6" transform="rotate(57 1530.2 725.5)"/>
<ellipse cx="1573.3" cy="762.0" rx="2.4" ry="2.7" fill="#f274a8" transform="rotate(56 1573.3 762.0)"/>
<ellipse cx="1528.4" cy="782.4" rx="3.1" ry="1.7" fill="#3db4e6" transform="rotate(146 1528.4 782.4)"/>
<ellipse cx="1548.5" cy="779.3" rx="2.8" ry="2.7" fill="#204a70" transform="rotate(48 1548.5 779.3)"/>
<ellipse cx="1553.5" cy="759.4" rx="2.4" ry="1.5" fill="#f4d03c" transform="rotate(127 1553.5 759.4)"/>
<ellipse cx="1577.2" cy="750.5" rx="3.2" ry="2.7" fill="#ffffff" transform="rotate(92 1577.2 750.5)"/>
<ellipse cx="1547.9" cy="777.7" rx="4.4" ry="1.9" fill="#38c0c8" transform="rotate(76 1547.9 777.7)"/>
<ellipse cx="1565.2" cy="783.7" rx="4.5" ry="2.0" fill="#3db4e6" transform="rotate(30 1565.2 783.7)"/>
<ellipse cx="1564.2" cy="731.0" rx="3.3" ry="3.5" fill="#9ad84a" transform="rotate(10 1564.2 731.0)"/>
<ellipse cx="1598.9" cy="724.6" rx="4.0" ry="3.1" fill="#2f8fd0" transform="rotate(87 1598.9 724.6)"/>
<ellipse cx="1578.3" cy="762.8" rx="4.1" ry="2.4" fill="#3db4e6" transform="rotate(69 1578.3 762.8)"/>
<ellipse cx="1561.3" cy="768.0" rx="2.4" ry="2.9" fill="#204a70" transform="rotate(147 1561.3 768.0)"/>
<ellipse cx="1601.3" cy="779.7" rx="3.1" ry="2.2" fill="#204a70" transform="rotate(88 1601.3 779.7)"/>
<ellipse cx="1526.5" cy="753.0" rx="2.7" ry="1.7" fill="#f274a8" transform="rotate(55 1526.5 753.0)"/>
<ellipse cx="1583.9" cy="728.4" rx="3.0" ry="2.3" fill="#ffffff" transform="rotate(20 1583.9 728.4)"/>
<ellipse cx="1537.6" cy="748.6" rx="3.1" ry="1.7" fill="#9ad84a" transform="rotate(140 1537.6 748.6)"/>
<ellipse cx="1546.2" cy="749.6" rx="3.3" ry="3.3" fill="#f4d03c" transform="rotate(38 1546.2 749.6)"/>
<ellipse cx="1531.2" cy="730.0" rx="4.3" ry="1.4" fill="#38c0c8" transform="rotate(46 1531.2 730.0)"/>
<ellipse cx="1545.0" cy="719.1" rx="3.5" ry="2.2" fill="#38c0c8" transform="rotate(81 1545.0 719.1)"/>
<ellipse cx="1598.2" cy="770.0" rx="3.8" ry="2.8" fill="#204a70" transform="rotate(13 1598.2 770.0)"/>
<ellipse cx="1560.0" cy="783.3" rx="5.2" ry="2.9" fill="#f0508a" transform="rotate(100 1560.0 783.3)"/>
<ellipse cx="1555.4" cy="748.0" rx="3.7" ry="2.3" fill="#f4d03c" transform="rotate(17 1555.4 748.0)"/>
<ellipse cx="1600.6" cy="751.5" rx="2.6" ry="2.7" fill="#3db4e6" transform="rotate(0 1600.6 751.5)"/>
<ellipse cx="1568.4" cy="758.6" rx="5.2" ry="2.8" fill="#3db4e6" transform="rotate(53 1568.4 758.6)"/>
<ellipse cx="1572.1" cy="729.8" rx="3.0" ry="2.2" fill="#2f8fd0" transform="rotate(121 1572.1 729.8)"/>
<ellipse cx="1534.3" cy="781.7" rx="5.4" ry="2.4" fill="#ffffff" transform="rotate(79 1534.3 781.7)"/>
<ellipse cx="1531.4" cy="726.4" rx="3.3" ry="2.0" fill="#f6b4d0" transform="rotate(41 1531.4 726.4)"/>
<ellipse cx="1564.5" cy="734.0" rx="5.2" ry="2.2" fill="#f6b4d0" transform="rotate(139 1564.5 734.0)"/>
<ellipse cx="1595.2" cy="775.0" rx="3.2" ry="2.8" fill="#3db4e6" transform="rotate(178 1595.2 775.0)"/>
<ellipse cx="1589.9" cy="757.2" rx="5.1" ry="2.2" fill="#f4d03c" transform="rotate(136 1589.9 757.2)"/>
<ellipse cx="1566.5" cy="756.1" rx="4.2" ry="2.7" fill="#f4d03c" transform="rotate(61 1566.5 756.1)"/>
<ellipse cx="1587.8" cy="773.6" rx="2.9" ry="2.5" fill="#2f8fd0" transform="rotate(7 1587.8 773.6)"/>
<ellipse cx="1601.0" cy="777.4" rx="3.7" ry="1.8" fill="#38c0c8" transform="rotate(88 1601.0 777.4)"/>
<ellipse cx="1559.2" cy="788.2" rx="5.4" ry="3.5" fill="#2f8fd0" transform="rotate(20 1559.2 788.2)"/>
<ellipse cx="1541.8" cy="735.6" rx="2.8" ry="1.8" fill="#38c0c8" transform="rotate(156 1541.8 735.6)"/>
<ellipse cx="1589.5" cy="754.3" rx="4.3" ry="3.2" fill="#3db4e6" transform="rotate(169 1589.5 754.3)"/>
<ellipse cx="1534.0" cy="747.6" rx="4.5" ry="1.8" fill="#5cc46a" transform="rotate(111 1534.0 747.6)"/>
<ellipse cx="1585.6" cy="743.4" rx="4.8" ry="3.5" fill="#9ad84a" transform="rotate(118 1585.6 743.4)"/>
<ellipse cx="1555.7" cy="789.0" rx="4.5" ry="1.8" fill="#5cc46a" transform="rotate(7 1555.7 789.0)"/>
<ellipse cx="1536.4" cy="785.9" rx="4.8" ry="1.7" fill="#38c0c8" transform="rotate(121 1536.4 785.9)"/>
<ellipse cx="1575.4" cy="744.8" rx="4.0" ry="1.7" fill="#f274a8" transform="rotate(166 1575.4 744.8)"/>
<ellipse cx="1532.7" cy="774.3" rx="2.6" ry="3.6" fill="#f4d03c" transform="rotate(54 1532.7 774.3)"/>
<ellipse cx="1527.0" cy="734.6" rx="3.8" ry="3.1" fill="#2f8fd0" transform="rotate(66 1527.0 734.6)"/>
<ellipse cx="1566.7" cy="780.6" rx="2.4" ry="3.0" fill="#ffffff" transform="rotate(169 1566.7 780.6)"/>
<ellipse cx="1569.7" cy="785.8" rx="3.5" ry="3.4" fill="#f0508a" transform="rotate(33 1569.7 785.8)"/>
<ellipse cx="1565.7" cy="757.6" rx="2.3" ry="2.4" fill="#5cc46a" transform="rotate(155 1565.7 757.6)"/>
<ellipse cx="1525.1" cy="778.0" rx="2.8" ry="2.4" fill="#f6b4d0" transform="rotate(30 1525.1 778.0)"/>
<ellipse cx="1567.6" cy="743.0" rx="3.9" ry="2.6" fill="#3db4e6" transform="rotate(143 1567.6 743.0)"/>
<ellipse cx="1529.2" cy="733.0" rx="2.3" ry="1.6" fill="#ffffff" transform="rotate(143 1529.2 733.0)"/>
<ellipse cx="1526.9" cy="785.1" rx="2.4" ry="2.1" fill="#f0508a" transform="rotate(155 1526.9 785.1)"/>
<ellipse cx="1564.2" cy="770.1" rx="3.6" ry="2.6" fill="#ffffff" transform="rotate(129 1564.2 770.1)"/>
<ellipse cx="1597.3" cy="770.6" rx="5.0" ry="3.5" fill="#f59ac0" transform="rotate(143 1597.3 770.6)"/>
<ellipse cx="1593.5" cy="733.8" rx="3.6" ry="2.3" fill="#9ad84a" transform="rotate(113 1593.5 733.8)"/>
<ellipse cx="1549.1" cy="768.5" rx="3.6" ry="1.9" fill="#f59ac0" transform="rotate(31 1549.1 768.5)"/>
<ellipse cx="1593.9" cy="730.2" rx="4.5" ry="2.9" fill="#5cc46a" transform="rotate(64 1593.9 730.2)"/>
<ellipse cx="1592.8" cy="790.5" rx="2.9" ry="3.5" fill="#9ad84a" transform="rotate(124 1592.8 790.5)"/>
<ellipse cx="1537.3" cy="768.3" rx="2.9" ry="3.0" fill="#f0508a" transform="rotate(103 1537.3 768.3)"/>
<ellipse cx="1550.9" cy="733.3" rx="3.2" ry="3.0" fill="#f274a8" transform="rotate(86 1550.9 733.3)"/>
<ellipse cx="1567.5" cy="751.4" rx="2.3" ry="2.1" fill="#38c0c8" transform="rotate(75 1567.5 751.4)"/>
<ellipse cx="1564.2" cy="723.6" rx="5.4" ry="3.1" fill="#3db4e6" transform="rotate(21 1564.2 723.6)"/>
<ellipse cx="1545.2" cy="721.7" rx="4.7" ry="2.0" fill="#5cc46a" transform="rotate(108 1545.2 721.7)"/>
<ellipse cx="1590.2" cy="768.9" rx="5.2" ry="2.3" fill="#f0508a" transform="rotate(131 1590.2 768.9)"/>
<ellipse cx="1568.7" cy="770.7" rx="2.5" ry="1.5" fill="#f6b4d0" transform="rotate(46 1568.7 770.7)"/>
<ellipse cx="1557.5" cy="724.2" rx="5.2" ry="2.8" fill="#f59ac0" transform="rotate(21 1557.5 724.2)"/>
<ellipse cx="1571.6" cy="735.3" rx="3.0" ry="1.7" fill="#f274a8" transform="rotate(86 1571.6 735.3)"/>
<ellipse cx="1601.3" cy="749.8" rx="5.1" ry="2.8" fill="#f274a8" transform="rotate(134 1601.3 749.8)"/>
<ellipse cx="1579.4" cy="788.3" rx="5.3" ry="2.0" fill="#5cc46a" transform="rotate(51 1579.4 788.3)"/>
<ellipse cx="1596.6" cy="765.4" rx="3.9" ry="1.9" fill="#ffffff" transform="rotate(128 1596.6 765.4)"/>
<ellipse cx="1576.5" cy="738.8" rx="4.8" ry="3.6" fill="#f274a8" transform="rotate(3 1576.5 738.8)"/>
<ellipse cx="1526.2" cy="756.3" rx="5.3" ry="2.5" fill="#f4d03c" transform="rotate(114 1526.2 756.3)"/>
<ellipse cx="1533.0" cy="779.5" rx="3.6" ry="2.5" fill="#9ad84a" transform="rotate(129 1533.0 779.5)"/>
<ellipse cx="1548.5" cy="734.7" rx="2.9" ry="1.8" fill="#f6b4d0" transform="rotate(162 1548.5 734.7)"/>
<ellipse cx="1535.6" cy="792.1" rx="5.3" ry="3.2" fill="#f274a8" transform="rotate(18 1535.6 792.1)"/>
<ellipse cx="1572.9" cy="784.0" rx="3.6" ry="1.5" fill="#204a70" transform="rotate(97 1572.9 784.0)"/>
<ellipse cx="1591.8" cy="768.5" rx="3.1" ry="1.9" fill="#f59ac0" transform="rotate(11 1591.8 768.5)"/>
<ellipse cx="1560.2" cy="730.5" rx="3.6" ry="2.0" fill="#2f8fd0" transform="rotate(140 1560.2 730.5)"/>
<ellipse cx="1549.7" cy="721.4" rx="5.0" ry="1.9" fill="#5cc46a" transform="rotate(0 1549.7 721.4)"/>
<ellipse cx="1550.6" cy="725.0" rx="3.1" ry="2.8" fill="#f4d03c" transform="rotate(129 1550.6 725.0)"/>
<ellipse cx="1584.6" cy="725.5" rx="4.8" ry="1.7" fill="#38c0c8" transform="rotate(10 1584.6 725.5)"/>
<ellipse cx="1555.1" cy="741.0" rx="4.2" ry="1.6" fill="#f0508a" transform="rotate(39 1555.1 741.0)"/>
<ellipse cx="1575.4" cy="771.9" rx="5.0" ry="2.3" fill="#2f8fd0" transform="rotate(126 1575.4 771.9)"/>
<ellipse cx="1536.3" cy="772.5" rx="4.3" ry="1.5" fill="#f6b4d0" transform="rotate(131 1536.3 772.5)"/>
<ellipse cx="1573.1" cy="773.2" rx="4.8" ry="1.7" fill="#f0508a" transform="rotate(129 1573.1 773.2)"/>
<ellipse cx="1568.6" cy="779.0" rx="2.3" ry="2.9" fill="#f6b4d0" transform="rotate(174 1568.6 779.0)"/>
<ellipse cx="1598.4" cy="766.4" rx="2.5" ry="1.5" fill="#204a70" transform="rotate(92 1598.4 766.4)"/>
<ellipse cx="1598.7" cy="746.7" rx="3.6" ry="1.5" fill="#f274a8" transform="rotate(160 1598.7 746.7)"/>
<ellipse cx="1565.7" cy="736.9" rx="3.0" ry="2.4" fill="#3db4e6" transform="rotate(128 1565.7 736.9)"/>
<ellipse cx="1593.9" cy="725.6" rx="3.9" ry="3.0" fill="#ffffff" transform="rotate(64 1593.9 725.6)"/>
<ellipse cx="1587.1" cy="781.5" rx="3.0" ry="3.1" fill="#f4d03c" transform="rotate(166 1587.1 781.5)"/>
<ellipse cx="1599.9" cy="755.4" rx="3.4" ry="2.5" fill="#204a70" transform="rotate(73 1599.9 755.4)"/>
<ellipse cx="1583.8" cy="764.5" rx="4.3" ry="1.6" fill="#5cc46a" transform="rotate(84 1583.8 764.5)"/>
<ellipse cx="1544.3" cy="773.9" rx="3.2" ry="2.6" fill="#f274a8" transform="rotate(123 1544.3 773.9)"/>
<ellipse cx="1529.5" cy="738.7" rx="4.4" ry="2.9" fill="#204a70" transform="rotate(125 1529.5 738.7)"/>
<ellipse cx="1547.2" cy="757.1" rx="3.7" ry="2.4" fill="#3db4e6" transform="rotate(140 1547.2 757.1)"/>
<ellipse cx="1540.1" cy="791.3" rx="5.2" ry="1.4" fill="#ffffff" transform="rotate(19 1540.1 791.3)"/>
<ellipse cx="1587.9" cy="790.5" rx="3.6" ry="2.0" fill="#f4d03c" transform="rotate(53 1587.9 790.5)"/>
<ellipse cx="1530.5" cy="725.5" rx="4.6" ry="2.0" fill="#2f8fd0" transform="rotate(33 1530.5 725.5)"/>
<ellipse cx="1571.2" cy="765.6" rx="3.1" ry="1.6" fill="#2f8fd0" transform="rotate(59 1571.2 765.6)"/>
<ellipse cx="1563.1" cy="783.7" rx="3.5" ry="1.7" fill="#ffffff" transform="rotate(174 1563.1 783.7)"/>
<ellipse cx="1559.5" cy="741.2" rx="2.7" ry="2.2" fill="#2f8fd0" transform="rotate(30 1559.5 741.2)"/>
<ellipse cx="1589.5" cy="718.9" rx="4.6" ry="3.2" fill="#3db4e6" transform="rotate(50 1589.5 718.9)"/>
<ellipse cx="1579.7" cy="785.6" rx="3.1" ry="2.2" fill="#9ad84a" transform="rotate(99 1579.7 785.6)"/>
<ellipse cx="1601.7" cy="762.5" rx="3.4" ry="2.3" fill="#f59ac0" transform="rotate(12 1601.7 762.5)"/>
<ellipse cx="1546.4" cy="722.6" rx="4.3" ry="2.8" fill="#5cc46a" transform="rotate(63 1546.4 722.6)"/>
<ellipse cx="1599.6" cy="751.1" rx="3.2" ry="3.1" fill="#9ad84a" transform="rotate(7 1599.6 751.1)"/>
<ellipse cx="1587.3" cy="765.6" rx="5.1" ry="3.5" fill="#f0508a" transform="rotate(52 1587.3 765.6)"/>
<ellipse cx="1580.2" cy="722.5" rx="4.5" ry="2.4" fill="#5cc46a" transform="rotate(164 1580.2 722.5)"/>
<ellipse cx="1591.7" cy="754.8" rx="5.1" ry="2.6" fill="#5cc46a" transform="rotate(120 1591.7 754.8)"/>
<ellipse cx="1556.7" cy="739.7" rx="3.0" ry="3.0" fill="#204a70" transform="rotate(66 1556.7 739.7)"/>
<ellipse cx="1556.1" cy="736.5" rx="3.7" ry="2.9" fill="#3db4e6" transform="rotate(42 1556.1 736.5)"/>
<ellipse cx="1574.3" cy="724.4" rx="3.8" ry="3.2" fill="#f0508a" transform="rotate(56 1574.3 724.4)"/>
<ellipse cx="1559.7" cy="743.5" rx="4.6" ry="2.3" fill="#f0508a" transform="rotate(49 1559.7 743.5)"/>
<ellipse cx="1543.6" cy="731.7" rx="4.0" ry="2.1" fill="#2f8fd0" transform="rotate(66 1543.6 731.7)"/>
<ellipse cx="1587.1" cy="733.8" rx="2.3" ry="3.3" fill="#9ad84a" transform="rotate(105 1587.1 733.8)"/>
<ellipse cx="1582.2" cy="734.4" rx="3.1" ry="3.1" fill="#ffffff" transform="rotate(71 1582.2 734.4)"/>
<ellipse cx="1569.0" cy="745.5" rx="4.4" ry="2.6" fill="#f4d03c" transform="rotate(23 1569.0 745.5)"/>
<ellipse cx="1545.7" cy="737.2" rx="3.5" ry="2.4" fill="#f59ac0" transform="rotate(5 1545.7 737.2)"/>
<ellipse cx="1534.6" cy="750.3" rx="4.6" ry="3.2" fill="#38c0c8" transform="rotate(125 1534.6 750.3)"/>
<ellipse cx="1524.8" cy="747.8" rx="5.2" ry="3.2" fill="#ffffff" transform="rotate(114 1524.8 747.8)"/>
<ellipse cx="1543.9" cy="726.9" rx="2.7" ry="2.5" fill="#204a70" transform="rotate(27 1543.9 726.9)"/>
<ellipse cx="1597.3" cy="772.3" rx="4.3" ry="3.1" fill="#ffffff" transform="rotate(21 1597.3 772.3)"/>
<ellipse cx="1567.3" cy="721.7" rx="4.7" ry="1.9" fill="#f274a8" transform="rotate(165 1567.3 721.7)"/>
<ellipse cx="1579.8" cy="790.1" rx="4.2" ry="2.6" fill="#9ad84a" transform="rotate(178 1579.8 790.1)"/>
<ellipse cx="1583.6" cy="726.2" rx="3.2" ry="3.5" fill="#f4d03c" transform="rotate(99 1583.6 726.2)"/>
<ellipse cx="1544.9" cy="777.4" rx="2.2" ry="2.6" fill="#ffffff" transform="rotate(71 1544.9 777.4)"/>
<ellipse cx="1598.6" cy="766.6" rx="5.0" ry="2.4" fill="#f4d03c" transform="rotate(140 1598.6 766.6)"/>
<ellipse cx="1543.8" cy="790.0" rx="4.5" ry="2.1" fill="#f274a8" transform="rotate(49 1543.8 790.0)"/>
<ellipse cx="1563.2" cy="768.8" rx="3.5" ry="2.0" fill="#204a70" transform="rotate(108 1563.2 768.8)"/>
<ellipse cx="1596.0" cy="735.6" rx="2.3" ry="2.1" fill="#9ad84a" transform="rotate(92 1596.0 735.6)"/>
<ellipse cx="1577.3" cy="733.5" rx="4.8" ry="3.0" fill="#f0508a" transform="rotate(17 1577.3 733.5)"/>
<ellipse cx="1540.6" cy="790.7" rx="3.2" ry="3.2" fill="#f4d03c" transform="rotate(119 1540.6 790.7)"/>
<ellipse cx="1541.8" cy="775.2" rx="3.1" ry="3.5" fill="#ffffff" transform="rotate(156 1541.8 775.2)"/>
<ellipse cx="1539.2" cy="735.3" rx="3.5" ry="2.9" fill="#38c0c8" transform="rotate(37 1539.2 735.3)"/>
<ellipse cx="1595.8" cy="722.8" rx="2.3" ry="2.7" fill="#9ad84a" transform="rotate(13 1595.8 722.8)"/>
<ellipse cx="1579.4" cy="732.4" rx="3.6" ry="3.0" fill="#2f8fd0" transform="rotate(28 1579.4 732.4)"/>
<ellipse cx="1601.6" cy="787.8" rx="3.3" ry="1.8" fill="#f0508a" transform="rotate(119 1601.6 787.8)"/>
<ellipse cx="1527.3" cy="768.0" rx="3.4" ry="2.2" fill="#2f8fd0" transform="rotate(113 1527.3 768.0)"/>
<ellipse cx="1537.8" cy="719.0" rx="3.1" ry="2.2" fill="#3db4e6" transform="rotate(143 1537.8 719.0)"/>
<ellipse cx="1599.0" cy="734.2" rx="3.3" ry="3.2" fill="#9ad84a" transform="rotate(22 1599.0 734.2)"/>
<ellipse cx="1528.6" cy="753.9" rx="3.4" ry="3.4" fill="#f4d03c" transform="rotate(82 1528.6 753.9)"/>
<ellipse cx="1552.8" cy="785.3" rx="2.3" ry="2.3" fill="#204a70" transform="rotate(103 1552.8 785.3)"/>
<ellipse cx="1527.9" cy="721.4" rx="2.4" ry="3.4" fill="#f59ac0" transform="rotate(49 1527.9 721.4)"/>
<ellipse cx="1582.3" cy="785.4" rx="3.3" ry="2.0" fill="#38c0c8" transform="rotate(11 1582.3 785.4)"/>
<ellipse cx="1545.0" cy="771.9" rx="3.2" ry="2.0" fill="#f274a8" transform="rotate(152 1545.0 771.9)"/>
<ellipse cx="1595.4" cy="765.8" rx="5.2" ry="1.5" fill="#f4d03c" transform="rotate(27 1595.4 765.8)"/>
<ellipse cx="1561.4" cy="789.7" rx="5.3" ry="2.3" fill="#f59ac0" transform="rotate(110 1561.4 789.7)"/>
<ellipse cx="1587.5" cy="728.6" rx="3.8" ry="1.4" fill="#f6b4d0" transform="rotate(77 1587.5 728.6)"/>
<ellipse cx="1588.1" cy="776.1" rx="4.1" ry="2.1" fill="#2f8fd0" transform="rotate(117 1588.1 776.1)"/>
<ellipse cx="1540.3" cy="769.3" rx="6" ry="9" fill="#f58ab6"/>
<ellipse cx="1540.3" cy="757.3" rx="4.5" ry="6" fill="#2e8a6a"/>
<ellipse cx="1577.3" cy="751.9" rx="6" ry="9" fill="#f58ab6"/>
<ellipse cx="1577.3" cy="739.9" rx="4.5" ry="6" fill="#2e8a6a"/>
<ellipse cx="1574.9" cy="758.2" rx="6" ry="9" fill="#f58ab6"/>
<ellipse cx="1574.9" cy="746.2" rx="4.5" ry="6" fill="#2e8a6a"/>
<rect x="1522.9" y="704.3" width="80.5" height="14.8" fill="url(#steel)"/>
<rect x="1522.9" y="708.8" width="80.5" height="2" fill="#7c7e82"/>
<rect x="1522.9" y="719.1" width="80.5" height="80.0" fill="url(#cylw)"/>
</g>
<polygon points="1531.1,792.9 1599.1,791.3 1598.3,799.2 1593.4,808.7 1591.5,863.9 1588.4,868.6 1541.0,868.6 1537.4,863.9 1536.3,808.7 1531.6,799.2" fill="#ee6a95"/>
<clipPath id="pc5b"><polygon points="1531.1,792.9 1599.1,791.3 1598.3,799.2 1593.4,808.7 1591.5,863.9 1588.4,868.6 1541.0,868.6 1537.4,863.9 1536.3,808.7 1531.6,799.2"/></clipPath>
<rect clip-path="url(#pc5b)" x="1529.2" y="791.3" width="71.8" height="78.8" fill="url(#cyl)" opacity=".7"/>
<text x="1549.7" y="848.9" font-size="7" font-weight="bold" fill="#f7c3d3">Pandaria</text>
<path d="M1620.7,736.1 C1620.7,714.1 1631.0,704.6 1642.0,702.2 L1668.8,702.2 C1676.7,704.6 1682.2,714.1 1682.2,736.1 L1681.4,856.0 C1681.4,865.4 1676.7,868.6 1668.8,868.6 L1634.1,868.6 C1626.2,868.6 1621.2,865.4 1621.2,856.0 Z " fill="#202125" />
<path d="M1624.6,736.1 C1624.6,718.8 1631.0,710.9 1638.8,707.0 L1635.7,862.3 C1627.8,862.3 1625.0,859.1 1625.0,852.8 Z " fill="#2c2d32" opacity=".7"/>
<rect x="1636.9" y="681.7" width="35.3" height="21.3" rx="4" fill="#1b1c20" />
<rect x="1643.6" y="700.2" width="23.7" height="2.8" rx="0" fill="#55565a" />
<path d="M1626.2,796.8 L1635.7,816.6 1654.6,841.8 1660.9,846.5 1670.4,819.7 1676.7,797.6 " fill="none" stroke="#c9c9cc" stroke-width=".9"/>
<path d="M1643.6,813.4 C1653.0,809.5 1660.9,809.0 1670.4,811.0 M1645.1,818.1 C1654.6,813.4 1662.5,813.4 1668.8,815.0 " fill="none" stroke="#c9c9cc" stroke-width=".8"/>
<ellipse cx="1635.4" cy="815.8" rx="2.5" ry="2.5" fill="#d8d8db" />
<rect x="1650.7" y="837.1" width="7.1" height="6.3" rx="1" fill="#d0d0d3" />
<clipPath id="pc9"><polygon points="1714.2,729.8 1789.9,729.8 1788.6,751.9 1778.4,876.5 1776.0,878.1 1717.7,878.1 1715.3,876.5 1713.7,751.9"/></clipPath>
<polygon points="1714.2,729.8 1789.9,729.8 1788.6,751.9 1778.4,876.5 1776.0,878.1 1717.7,878.1 1715.3,876.5 1713.7,751.9" fill="#e9eaf5" />
<g clip-path="url(#pc9)">
<rect x="1711.4" y="837.1" width="82.0" height="25.2" rx="0" fill="#7f8fb6" />
<path d="M1711.4,843.4 C1730.3,830.8 1749.2,849.7 1765.0,837.1 L1783.9,833.9 1783.9,862.3 1711.4,862.3 Z " fill="#8b9ac0" />
<ellipse cx="1724.0" cy="856.0" rx="2.5" ry="1.7" fill="#dfe4f2" />
<ellipse cx="1736.6" cy="851.2" rx="2.5" ry="1.7" fill="#dfe4f2" />
<ellipse cx="1749.2" cy="857.6" rx="2.5" ry="1.7" fill="#dfe4f2" />
<ellipse cx="1763.4" cy="852.8" rx="2.5" ry="1.7" fill="#dfe4f2" />
<ellipse cx="1771.3" cy="858.3" rx="2.5" ry="1.7" fill="#dfe4f2" />
<ellipse cx="1730.3" cy="860.7" rx="2.5" ry="1.7" fill="#dfe4f2" />
<ellipse cx="1755.5" cy="849.7" rx="2.5" ry="1.7" fill="#dfe4f2" />
<ellipse cx="1714.7" cy="777.6" rx="4.2" ry="15.8" fill="#3a2a25" />
<ellipse cx="1716.1" cy="785.0" rx="2.8" ry="10.2" fill="#e8bfae" />
<ellipse cx="1716.1" cy="812.9" rx="3.7" ry="18.6" fill="#e6c2b4" />
<path d="M1722.6,820.3 L1738.4,820.3 1737.5,849.1 1731.9,850.0 1730.1,831.4 1727.3,846.3 1722.6,844.4 Z " fill="#f1c6b4" />
<path d="M1720.8,803.6 C1725.4,799.9 1736.6,799.9 1742.1,804.5 L1741.7,821.2 1721.7,822.1 Z " fill="#f4f2f0" />
<path d="M1725.0,811.9 L1735.6,812.9 " fill="none" stroke="#3a3a3a" stroke-width=".8"/>
<path d="M1718.9,785.0 C1718.0,768.3 1725.4,759.0 1734.7,760.9 C1743.1,763.6 1745.9,775.7 1744.0,790.6 C1743.1,797.1 1740.3,799.9 1739.4,801.7 L1721.7,801.7 C1719.9,796.1 1718.9,790.6 1718.9,785.0 Z " fill="#2a1e1c" />
<path d="M1722.2,781.3 C1723.6,774.8 1735.6,774.8 1739.4,780.4 C1740.7,788.7 1737.5,799.9 1731.0,801.7 C1725.4,800.8 1721.7,790.6 1722.2,781.3 Z " fill="#f3cdbd" />
<path d="M1724.0,784.1 L1728.2,785.0 M1732.9,784.5 L1737.5,783.1 " fill="none" stroke="#2a1e1c" stroke-width="1.1"/>
<path d="M1725.9,794.3 C1729.1,798.0 1733.8,797.1 1736.1,793.4 C1732.9,795.2 1729.1,795.7 1725.9,794.3 Z " fill="#fbfbfb" stroke="#7a3a3a" stroke-width=".5"/>
<path d="M1744.9,825.8 L1765.4,825.8 1764.4,848.1 1757.0,851.8 1755.1,840.7 1753.3,851.8 1745.9,848.1 Z " fill="#c47a5c" />
<path d="M1743.1,826.8 L1748.6,824.0 1751.4,836.1 1745.9,839.8 Z " fill="#f6f4f2" />
<path d="M1760.7,824.0 L1766.7,826.8 1764.4,839.8 1758.9,836.1 Z " fill="#f6f4f2" />
<path d="M1741.7,806.4 C1746.8,801.7 1764.4,801.7 1769.1,807.3 L1767.2,826.8 1743.1,826.8 Z " fill="#de2f28" />
<path d="M1740.7,806.4 L1746.3,804.0 1747.2,813.8 1741.7,815.6 Z " fill="#f4f2f0" />
<path d="M1763.5,805.0 L1770.0,807.7 1769.1,815.6 1763.5,813.8 Z " fill="#f4f2f0" />
<path d="M1744.0,779.4 C1744.0,766.4 1753.3,760.9 1761.6,763.6 C1769.1,766.4 1771.9,777.6 1770.0,790.6 C1769.1,799.9 1764.4,806.4 1757.0,806.4 C1748.6,806.4 1744.0,794.3 1744.0,779.4 Z " fill="#dba083" />
<ellipse cx="1757.0" cy="768.3" rx="10.2" ry="5.6" fill="#e8b79e" opacity=".8"/>
<path d="M1748.6,781.3 L1755.1,782.7 M1759.3,782.7 L1765.4,780.8 " fill="none" stroke="#2a1a16" stroke-width="1.3"/>
<ellipse cx="1753.7" cy="785.5" rx="1.3" ry="0.8" fill="#fbfbfb" />
<ellipse cx="1761.8" cy="785.0" rx="1.3" ry="0.8" fill="#fbfbfb" />
<ellipse cx="1762.6" cy="800.8" rx="5.8" ry="3.5" fill="#6e1a1a" />
<ellipse cx="1762.6" cy="801.0" rx="3.3" ry="1.7" fill="#a82828" />
<path d="M1772.8,823.1 L1786.7,821.2 1784.9,842.6 1773.7,843.5 Z " fill="#2b4aa4" />
<path d="M1770.0,803.6 C1775.6,799.9 1783.9,798.9 1788.6,801.7 L1787.6,823.1 1770.9,824.9 Z " fill="#efd325" />
<path d="M1774.6,806.4 L1778.4,809.1 1782.1,805.9 " fill="none" stroke="#3a9a4a" stroke-width="1"/>
<path d="M1770.5,779.4 C1770.0,772.0 1775.6,766.4 1783.9,766.4 L1789.0,772.0 1788.6,790.6 C1786.7,798.9 1781.1,802.6 1776.5,801.7 C1771.9,798.9 1770.5,788.7 1770.5,779.4 Z " fill="#dfa27c" />
<path d="M1768.1,777.6 C1768.1,762.7 1777.4,754.4 1787.6,757.1 L1788.6,773.9 C1784.9,770.1 1777.4,770.1 1773.7,775.7 L1771.4,785.0 Z " fill="#191717" />
<path d="M1773.7,781.3 L1778.4,780.4 M1782.1,778.5 L1786.2,775.7 " fill="none" stroke="#191717" stroke-width="1.3"/>
<path d="M1776.0,793.4 C1779.3,791.5 1783.0,790.6 1784.9,788.7 C1783.9,794.3 1779.3,798.0 1776.0,793.4 Z " fill="#7a2a22" />
<path d="M1777.0,793.4 C1779.7,792.0 1782.5,791.0 1784.1,789.8 " fill="none" stroke="#fbfbfb" stroke-width="1.2"/>
<rect x="1711.4" y="860.7" width="82.0" height="18.9" rx="0" fill="url(#steel)" />
<rect x="1711.4" y="860.7" width="82.0" height="1.6" rx="0" fill="#8a8c90" />
<rect x="1711.4" y="745.6" width="82.0" height="116.7" rx="0" fill="url(#cylw)" />
</g>
<path d="M1715.3,747.2 L1715.3,732.2 C1715.3,728.6 1733.4,727.0 1752.4,727.0 C1771.3,727.0 1789.4,728.6 1789.4,732.2 L1788.9,747.2 Z " fill="url(#steel)" />
<ellipse cx="1752.4" cy="732.2" rx="35.5" ry="4.1" fill="#c5c7ca" />
<ellipse cx="1752.4" cy="733.0" rx="33.4" ry="3.2" fill="#9ea0a4" />
<path d="M1715.3,742.1 C1733.4,745.9 1771.3,745.9 1789.1,742.1 " fill="none" stroke="#7b7d81" stroke-width="1"/>
<path d="M1452.7,863.2 L1501.1,863.2 C1501.1,870.3 1499.6,872.7 1496.4,872.7 L1457.5,872.7 C1454.3,872.7 1452.7,870.3 1452.7,863.2 Z " fill="#c2bfbd" />
<path d="M1453.4,868.0 L1500.5,868.0 L1500.2,869.2 L1453.7,869.2 Z " fill="#e8e6e5" />
<path d="M1451.2,720.8 C1447.4,727.1 1446.4,739.8 1446.4,755.5 L1447.4,849.0 C1447.7,858.5 1449.6,863.2 1453.4,866.1 L1500.5,866.1 C1504.3,863.2 1506.2,858.5 1506.5,849.0 L1507.5,755.5 C1507.5,739.8 1506.5,727.1 1502.7,720.8 Z " fill="#fcfcfd" />
<path d="M1451.2,720.8 C1447.4,727.1 1446.4,739.8 1446.4,755.5 L1447.4,849.0 C1447.7,858.5 1449.6,863.2 1453.4,866.1 L1457.5,863.2 1453.4,849.0 1452.7,755.5 1455.9,724.0 Z " fill="#d4d6de" opacity=".75" filter="url(#b1)"/>
<path d="M1502.7,720.8 C1506.5,727.1 1507.5,739.8 1507.5,755.5 L1506.5,849.0 C1506.2,858.5 1504.3,863.2 1500.5,866.1 L1497.0,863.2 1501.1,849.0 1501.8,755.5 1498.6,724.0 Z " fill="#e6dde6" opacity=".75" filter="url(#b1)"/>
<ellipse cx="1476.9" cy="722.3" rx="26.4" ry="7.6" fill="#85868a" />
<ellipse cx="1476.9" cy="720.8" rx="26.4" ry="7.4" fill="#d6d7da" />
<ellipse cx="1476.9" cy="720.5" rx="23.6" ry="5.2" fill="#bfc1c5" />
<ellipse cx="1477.9" cy="721.1" rx="19.5" ry="3.2" fill="#a9abb0" />
<path d="M1469.1,718.6 L1472.8,710.7 1484.8,711.4 1487.4,718.3 1481.7,721.5 1472.2,721.1 Z " fill="#c9cbcf" opacity=".92"/>
<path d="M1474.1,717.7 L1475.7,712.6 1482.6,712.9 1483.9,717.7 Z " fill="#eeeff1" opacity=".9"/>
<ellipse cx="1474.7" cy="810.4" rx="24.7" ry="52.3" fill="#f8ecdb" />
<path d="M1457.1,785.2 L1459.0,773.4 1463.4,780.5 1469.1,771.0 1471.6,783.6 Z " fill="#8f2326" />
<ellipse cx="1481.7" cy="782.7" rx="6.9" ry="4.1" fill="#f4ecd8" stroke="#e0c9a0" stroke-width=".5"/>
<ellipse cx="1468.4" cy="790.5" rx="4.7" ry="4.7" fill="#f6cf8c" />
<ellipse cx="1478.8" cy="792.7" rx="9.8" ry="10.4" fill="#da2a2c" />
<ellipse cx="1461.8" cy="803.5" rx="7.9" ry="9.8" fill="#e3312f" />
<ellipse cx="1481.0" cy="811.0" rx="7.6" ry="7.9" fill="#f4bd74" />
<ellipse cx="1484.2" cy="808.8" rx="2.5" ry="2.8" fill="#fbe6c4" />
<ellipse cx="1472.8" cy="820.8" rx="4.1" ry="4.3" fill="#e3353a" />
<ellipse cx="1482.9" cy="820.2" rx="2.2" ry="2.2" fill="#fbf6ee" stroke="#e0b070" stroke-width=".4"/>
<ellipse cx="1465.3" cy="769.1" rx="1.7" ry="1.7" fill="#ee8a78" />
<ellipse cx="1476.3" cy="788.3" rx="0.9" ry="0.9" fill="#fdeee4" />
<ellipse cx="1481.0" cy="791.8" rx="0.9" ry="0.9" fill="#fdeee4" />
<ellipse cx="1478.2" cy="796.5" rx="0.9" ry="0.9" fill="#fdeee4" />
<ellipse cx="1474.4" cy="793.4" rx="0.9" ry="0.9" fill="#fdeee4" />
<ellipse cx="1482.6" cy="786.8" rx="0.9" ry="0.9" fill="#fdeee4" />
<ellipse cx="1459.6" cy="800.9" rx="0.9" ry="0.9" fill="#fdeee4" />
<ellipse cx="1463.1" cy="806.6" rx="0.9" ry="0.9" fill="#fdeee4" />
<ellipse cx="1460.2" cy="807.6" rx="0.9" ry="0.9" fill="#fdeee4" />
<text x="1476.0" y="835.6" font-size="13.2" fill="#8c2a2e" text-anchor="middle" textLength="34.5" lengthAdjust="spacingAndGlyphs" style="font-family:'Liberation Serif',serif">sugahri</text>
<rect x="1475.0" y="839.1" width="13.0" height=".8" fill="#a86a6a"/>
<ellipse cx="1502.8" cy="793.9" rx="6.3" ry="13.2" fill="none" stroke="#e9a6ac" stroke-width="1.3"/>
<ellipse cx="1502.8" cy="793.9" rx="4.1" ry="9.5" fill="none" stroke="#efc0c4" stroke-width=".8"/>
<rect x="1463.4" y="749.7" width="24.0" height="1.1" fill="#b5a6a4"/><rect x="1466.4" y="752.7" width="18.0" height=".7" fill="#c9bcba"/>
<rect x="1467.9" y="854.1" width="18.0" height="1.1" fill="#e7a3a8"/>
<path d="M1356.7,871.1 L1406.5,871.1 C1406.5,878.2 1405.0,880.6 1401.8,880.6 L1361.4,880.6 C1358.3,880.6 1356.7,878.2 1356.7,871.1 Z " fill="#c2bfbd" />
<path d="M1357.3,875.8 L1405.9,875.8 L1405.6,877.1 L1357.7,877.1 Z " fill="#e8e6e5" />
<path d="M1355.1,763.1 C1351.4,769.4 1350.4,782.1 1350.4,797.8 L1351.4,856.9 C1351.7,866.4 1353.6,871.1 1357.3,874.0 L1405.9,874.0 C1409.7,871.1 1411.6,866.4 1411.9,856.9 L1412.8,797.8 C1412.8,782.1 1411.9,769.4 1408.1,763.1 Z " fill="#fcfcfd" />
<path d="M1355.1,763.1 C1351.4,769.4 1350.4,782.1 1350.4,797.8 L1351.4,856.9 C1351.7,866.4 1353.6,871.1 1357.3,874.0 L1361.4,871.1 1357.3,856.9 1356.7,797.8 1359.9,766.3 Z " fill="#d4d6de" opacity=".75" filter="url(#b1)"/>
<path d="M1408.1,763.1 C1411.9,769.4 1412.8,782.1 1412.8,797.8 L1411.9,856.9 C1411.6,866.4 1409.7,871.1 1405.9,874.0 L1402.4,871.1 1406.5,856.9 1407.2,797.8 1404.0,766.3 Z " fill="#e6dde6" opacity=".75" filter="url(#b1)"/>
<ellipse cx="1381.6" cy="764.6" rx="27.1" ry="8.2" fill="#85868a" />
<ellipse cx="1381.6" cy="763.1" rx="27.1" ry="7.9" fill="#d6d7da" />
<ellipse cx="1381.6" cy="762.8" rx="24.3" ry="5.6" fill="#bfc1c5" />
<ellipse cx="1382.6" cy="763.5" rx="20.2" ry="3.4" fill="#a9abb0" />
<path d="M1373.7,760.9 L1377.5,753.0 1389.5,753.7 1392.0,760.6 1386.4,763.8 1376.9,763.5 Z " fill="#c9cbcf" opacity=".92"/>
<path d="M1378.8,760.0 L1380.4,754.9 1387.3,755.3 1388.6,760.0 Z " fill="#eeeff1" opacity=".9"/>
<ellipse cx="1379.9" cy="830.2" rx="25.3" ry="36.8" fill="#f8ecdb" />
<path d="M1366.5,811.0 L1368.0,802.0 1371.3,807.4 1375.6,800.2 1377.6,809.8 Z " fill="#8f2326" />
<ellipse cx="1385.2" cy="809.1" rx="5.3" ry="3.1" fill="#f4ecd8" stroke="#e0c9a0" stroke-width=".5"/>
<ellipse cx="1375.2" cy="815.1" rx="3.6" ry="3.6" fill="#f6cf8c" />
<ellipse cx="1383.1" cy="816.8" rx="7.4" ry="7.9" fill="#da2a2c" />
<ellipse cx="1370.1" cy="824.9" rx="6.0" ry="7.4" fill="#e3312f" />
<ellipse cx="1384.7" cy="830.7" rx="5.8" ry="6.0" fill="#f4bd74" />
<ellipse cx="1387.1" cy="829.0" rx="1.9" ry="2.2" fill="#fbe6c4" />
<ellipse cx="1378.5" cy="838.1" rx="3.1" ry="3.2" fill="#e3353a" />
<ellipse cx="1386.2" cy="837.6" rx="1.7" ry="1.7" fill="#fbf6ee" stroke="#e0b070" stroke-width=".4"/>
<ellipse cx="1372.8" cy="798.8" rx="1.3" ry="1.3" fill="#ee8a78" />
<ellipse cx="1381.1" cy="813.4" rx="0.7" ry="0.7" fill="#fdeee4" />
<ellipse cx="1384.7" cy="816.1" rx="0.7" ry="0.7" fill="#fdeee4" />
<ellipse cx="1382.6" cy="819.7" rx="0.7" ry="0.7" fill="#fdeee4" />
<ellipse cx="1379.7" cy="817.3" rx="0.7" ry="0.7" fill="#fdeee4" />
<ellipse cx="1385.9" cy="812.2" rx="0.7" ry="0.7" fill="#fdeee4" />
<ellipse cx="1368.4" cy="823.0" rx="0.7" ry="0.7" fill="#fdeee4" />
<ellipse cx="1371.1" cy="827.3" rx="0.7" ry="0.7" fill="#fdeee4" />
<ellipse cx="1368.9" cy="828.0" rx="0.7" ry="0.7" fill="#fdeee4" />
<text x="1380.9" y="849.4" font-size="10.0" fill="#8c2a2e" text-anchor="middle" textLength="26.2" lengthAdjust="spacingAndGlyphs" style="font-family:'Liberation Serif',serif">sugahri</text>
<rect x="1380.2" y="852.0" width="9.9" height=".8" fill="#a86a6a"/>
<ellipse cx="1401.3" cy="817.6" rx="4.8" ry="10.1" fill="none" stroke="#e9a6ac" stroke-width="1.3"/>
<ellipse cx="1401.3" cy="817.6" rx="3.1" ry="7.2" fill="none" stroke="#efc0c4" stroke-width=".8"/>
<rect x="1371.3" y="790.7" width="18.2" height="1.1" fill="#b5a6a4"/><rect x="1373.6" y="792.9" width="13.7" height=".7" fill="#c9bcba"/>
<rect x="1374.8" y="866.4" width="13.7" height="1.1" fill="#e7a3a8"/>
</g>

<!-- g10_surface.py -->
<g>
<defs>
<linearGradient id="g_rainbow" x1="0" y1="0" x2="1" y2="0"><stop offset="0" stop-color="#46505c"/><stop offset="0.1" stop-color="#56606a"/><stop offset="0.155" stop-color="#a87450"/><stop offset="0.19" stop-color="#5aae78"/><stop offset="0.225" stop-color="#3fb0cc"/><stop offset="0.29" stop-color="#4a86cc"/><stop offset="0.36" stop-color="#7a94b0"/><stop offset="0.44" stop-color="#bcc6b4"/><stop offset="0.49" stop-color="#d6dcc6"/><stop offset="0.55" stop-color="#9aa8aa"/><stop offset="0.62" stop-color="#5482c2"/><stop offset="0.69" stop-color="#4590d0"/><stop offset="0.735" stop-color="#4fb890"/><stop offset="0.765" stop-color="#c08050"/><stop offset="0.81" stop-color="#6a6a68"/><stop offset="0.9" stop-color="#4a525c"/><stop offset="1" stop-color="#3e4650"/></linearGradient>
<linearGradient id="g_powder" x1="0.65" y1="0" x2="0.35" y2="1"><stop offset="0" stop-color="#22c83a"/><stop offset="0.35" stop-color="#4fd848"/><stop offset="0.62" stop-color="#9ae238"/><stop offset="0.85" stop-color="#e2ee22"/><stop offset="1" stop-color="#f2ee20"/></linearGradient>
<linearGradient id="g_ice" x1="0" y1="0" x2="1" y2="0"><stop offset="0" stop-color="#4e3e30"/><stop offset="0.12" stop-color="#6a5644"/><stop offset="0.3" stop-color="#a08668"/><stop offset="0.4" stop-color="#e2c6a0"/><stop offset="0.45" stop-color="#ecd2ac"/><stop offset="0.55" stop-color="#b89a78"/><stop offset="0.75" stop-color="#74604c"/><stop offset="0.9" stop-color="#5a4838"/><stop offset="1" stop-color="#483a2e"/></linearGradient>
<linearGradient id="g_electro" x1="0" y1="0" x2="0" y2="1"><stop offset="0" stop-color="#c99090"/><stop offset="0.12" stop-color="#c87aa2"/><stop offset="0.3" stop-color="#c054b4"/><stop offset="0.55" stop-color="#aa3cb0"/><stop offset="0.8" stop-color="#9248c0"/><stop offset="1" stop-color="#6a5ccc"/></linearGradient>
<linearGradient id="g_electro_h" x1="0" y1="0" x2="1" y2="0"><stop offset="0" stop-color="#f090e0"/><stop offset="0.12" stop-color="#f090e0"/><stop offset="0.3" stop-color="#ffffff"/><stop offset="0.7" stop-color="#ffffff"/><stop offset="0.9" stop-color="#f090e0"/><stop offset="1" stop-color="#f0a0e8"/></linearGradient>
<linearGradient id="g_silk" x1="0" y1="0" x2="1" y2="0"><stop offset="0" stop-color="#cfd1cf"/><stop offset="0.12" stop-color="#e4e6e4"/><stop offset="0.5" stop-color="#e2e4e2"/><stop offset="0.85" stop-color="#cbcdcb"/><stop offset="1" stop-color="#b4b6b4"/></linearGradient>
<linearGradient id="g_gas" x1="0" y1="0" x2="1" y2="0"><stop offset="0" stop-color="#d8d6d4"/><stop offset="0.1" stop-color="#e9f2ee"/><stop offset="0.2" stop-color="#eee6e6"/><stop offset="0.55" stop-color="#e9e1df"/><stop offset="0.8" stop-color="#d4ceca"/><stop offset="1" stop-color="#bdb8b4"/></linearGradient>
<linearGradient id="g_spray" x1="0" y1="0" x2="1" y2="0.12"><stop offset="0" stop-color="#2c7aa8"/><stop offset="0.12" stop-color="#2a92cc"/><stop offset="0.27" stop-color="#3ab6ee"/><stop offset="0.33" stop-color="#46c2f4"/><stop offset="0.45" stop-color="#2a90d0"/><stop offset="0.62" stop-color="#2a70a8"/><stop offset="0.78" stop-color="#38688e"/><stop offset="0.815" stop-color="#8fa2ac"/><stop offset="0.85" stop-color="#3c5e7e"/><stop offset="1" stop-color="#2a4866"/></linearGradient>
<linearGradient id="g_heat" x1="0" y1="0" x2="1" y2="0"><stop offset="0" stop-color="#74a08a"/><stop offset="0.35" stop-color="#6e9a84"/><stop offset="0.5" stop-color="#5c8a74"/><stop offset="0.68" stop-color="#6a9680"/><stop offset="1" stop-color="#7aa690"/></linearGradient>
<linearGradient id="g_laser" x1="0" y1="0" x2="1" y2="1"><stop offset="0" stop-color="#584a96"/><stop offset="0.5" stop-color="#6a58b0"/><stop offset="1" stop-color="#5a4ca0"/></linearGradient>
</defs>
<clipPath id="sc00"><circle cx="1397.9" cy="1023.8" r="66.2"/></clipPath>
<circle cx="1397.9" cy="1023.8" r="66.2" fill="#5a6470"/>
<g clip-path="url(#sc00)"><g transform="translate(1397.9,1023.8)">
<rect x="-70" y="-70" width="140" height="140" fill="url(#g_rainbow)" transform="skewX(-3)"/><g opacity=".35"><circle cx="40.4" cy="45.4" r="0.69" fill="#d0e0f0"/><circle cx="42.5" cy="38.9" r="0.51" fill="#10161e"/><circle cx="4.9" cy="-19.6" r="0.40" fill="#10161e"/><circle cx="-52.6" cy="23.6" r="0.40" fill="#10161e"/><circle cx="-6.1" cy="58.8" r="0.57" fill="#ffffff"/><circle cx="9.4" cy="-6.7" r="0.40" fill="#ffffff"/><circle cx="37.8" cy="-15.2" r="0.42" fill="#10161e"/><circle cx="-7.2" cy="-47.4" r="0.69" fill="#10161e"/><circle cx="-36.7" cy="-12.7" r="0.63" fill="#10161e"/><circle cx="60.7" cy="-18.8" r="0.49" fill="#ffffff"/><circle cx="25.8" cy="60.5" r="0.77" fill="#ffffff"/><circle cx="-2.7" cy="-62.4" r="0.87" fill="#10161e"/><circle cx="-62.9" cy="-3.1" r="0.42" fill="#d0e0f0"/><circle cx="-52.8" cy="-32.4" r="0.76" fill="#10161e"/><circle cx="-10.4" cy="-6.5" r="0.43" fill="#10161e"/><circle cx="-23.6" cy="14.1" r="0.55" fill="#d0e0f0"/><circle cx="46.0" cy="27.8" r="0.41" fill="#20262e"/><circle cx="-41.0" cy="-5.4" r="0.52" fill="#ffffff"/><circle cx="-36.0" cy="7.0" r="0.76" fill="#10161e"/><circle cx="-16.3" cy="-21.6" r="0.43" fill="#ffffff"/><circle cx="6.2" cy="-48.1" r="0.77" fill="#20262e"/><circle cx="-31.9" cy="21.9" r="0.76" fill="#d0e0f0"/><circle cx="-33.1" cy="8.7" r="0.55" fill="#ffffff"/><circle cx="-45.5" cy="40.8" r="0.86" fill="#20262e"/><circle cx="-49.1" cy="-5.8" r="0.49" fill="#ffffff"/><circle cx="-39.6" cy="4.7" r="0.55" fill="#10161e"/><circle cx="-39.2" cy="3.7" r="0.46" fill="#d0e0f0"/><circle cx="-10.7" cy="2.9" r="0.43" fill="#20262e"/><circle cx="-26.6" cy="-8.8" r="0.40" fill="#d0e0f0"/><circle cx="62.8" cy="13.0" r="0.40" fill="#ffffff"/><circle cx="-54.8" cy="16.7" r="0.44" fill="#d0e0f0"/><circle cx="40.3" cy="33.1" r="0.46" fill="#ffffff"/><circle cx="16.5" cy="29.0" r="0.85" fill="#d0e0f0"/><circle cx="-21.4" cy="-28.7" r="0.65" fill="#10161e"/><circle cx="-10.0" cy="1.7" r="0.47" fill="#10161e"/><circle cx="9.6" cy="-32.1" r="0.43" fill="#20262e"/><circle cx="42.4" cy="-9.3" r="0.88" fill="#20262e"/><circle cx="25.1" cy="2.8" r="0.66" fill="#20262e"/><circle cx="-44.3" cy="15.7" r="0.49" fill="#20262e"/><circle cx="51.9" cy="-7.6" r="0.64" fill="#10161e"/><circle cx="8.9" cy="52.4" r="0.48" fill="#d0e0f0"/><circle cx="-23.1" cy="-36.4" r="0.67" fill="#20262e"/><circle cx="60.5" cy="-12.4" r="0.45" fill="#ffffff"/><circle cx="-23.7" cy="59.4" r="0.68" fill="#10161e"/><circle cx="-21.9" cy="-9.5" r="0.56" fill="#ffffff"/><circle cx="-25.9" cy="-16.6" r="0.81" fill="#10161e"/><circle cx="29.1" cy="54.2" r="0.87" fill="#ffffff"/><circle cx="-28.0" cy="27.0" r="0.42" fill="#10161e"/><circle cx="-38.9" cy="-25.2" r="0.84" fill="#10161e"/><circle cx="-13.3" cy="44.7" r="0.45" fill="#10161e"/><circle cx="7.2" cy="-5.2" r="0.42" fill="#d0e0f0"/><circle cx="18.6" cy="-45.9" r="0.41" fill="#10161e"/><circle cx="12.5" cy="52.7" r="0.75" fill="#d0e0f0"/><circle cx="51.9" cy="-30.9" r="0.54" fill="#20262e"/><circle cx="12.2" cy="5.3" r="0.41" fill="#20262e"/><circle cx="25.8" cy="-16.2" r="0.69" fill="#d0e0f0"/><circle cx="-26.0" cy="28.4" r="0.44" fill="#10161e"/><circle cx="32.3" cy="36.8" r="0.41" fill="#ffffff"/><circle cx="-33.9" cy="22.5" r="0.89" fill="#20262e"/><circle cx="18.2" cy="-33.9" r="0.59" fill="#10161e"/><circle cx="43.4" cy="22.7" r="0.56" fill="#d0e0f0"/><circle cx="-23.7" cy="26.9" r="0.54" fill="#ffffff"/><circle cx="-33.5" cy="9.1" r="0.71" fill="#d0e0f0"/><circle cx="53.9" cy="4.2" r="0.40" fill="#ffffff"/><circle cx="27.0" cy="-52.1" r="0.42" fill="#10161e"/><circle cx="23.3" cy="37.7" r="0.63" fill="#20262e"/><circle cx="-0.8" cy="-21.1" r="0.81" fill="#10161e"/><circle cx="16.9" cy="-45.6" r="0.73" fill="#d0e0f0"/><circle cx="-8.8" cy="-35.9" r="0.42" fill="#d0e0f0"/><circle cx="6.6" cy="1.7" r="0.88" fill="#d0e0f0"/><circle cx="-5.5" cy="-36.9" r="0.48" fill="#10161e"/><circle cx="58.2" cy="24.3" r="0.87" fill="#10161e"/><circle cx="23.4" cy="19.7" r="0.59" fill="#10161e"/><circle cx="-17.7" cy="-28.6" r="0.55" fill="#d0e0f0"/><circle cx="12.4" cy="37.6" r="0.74" fill="#ffffff"/><circle cx="43.9" cy="-4.6" r="0.61" fill="#d0e0f0"/><circle cx="38.4" cy="-15.0" r="0.45" fill="#d0e0f0"/><circle cx="22.7" cy="54.2" r="0.57" fill="#d0e0f0"/><circle cx="0.5" cy="21.0" r="0.59" fill="#ffffff"/><circle cx="0.3" cy="9.4" r="0.43" fill="#ffffff"/><circle cx="-7.0" cy="61.1" r="0.67" fill="#ffffff"/><circle cx="-23.5" cy="-26.8" r="0.71" fill="#10161e"/><circle cx="-60.0" cy="11.9" r="0.41" fill="#d0e0f0"/><circle cx="56.9" cy="29.9" r="0.42" fill="#20262e"/><circle cx="59.6" cy="-5.7" r="0.45" fill="#ffffff"/><circle cx="-15.2" cy="-58.3" r="0.58" fill="#20262e"/><circle cx="19.5" cy="-15.4" r="0.81" fill="#ffffff"/><circle cx="11.1" cy="-58.8" r="0.59" fill="#20262e"/><circle cx="18.9" cy="39.1" r="0.41" fill="#20262e"/><circle cx="-0.3" cy="16.7" r="0.86" fill="#10161e"/><circle cx="-46.3" cy="-14.8" r="0.76" fill="#10161e"/><circle cx="60.2" cy="4.1" r="0.41" fill="#10161e"/><circle cx="52.4" cy="8.1" r="0.49" fill="#ffffff"/><circle cx="36.3" cy="15.0" r="0.41" fill="#20262e"/><circle cx="42.2" cy="50.0" r="0.44" fill="#10161e"/><circle cx="9.3" cy="17.4" r="0.52" fill="#20262e"/><circle cx="-46.0" cy="-8.4" r="0.61" fill="#10161e"/><circle cx="47.8" cy="-22.4" r="0.43" fill="#d0e0f0"/><circle cx="-45.6" cy="1.4" r="0.43" fill="#10161e"/><circle cx="-26.8" cy="44.1" r="0.67" fill="#d0e0f0"/><circle cx="30.5" cy="-5.3" r="0.82" fill="#d0e0f0"/><circle cx="31.1" cy="48.7" r="0.79" fill="#d0e0f0"/><circle cx="-10.9" cy="34.4" r="0.55" fill="#20262e"/><circle cx="-17.1" cy="-54.0" r="0.58" fill="#ffffff"/><circle cx="51.5" cy="-39.1" r="0.56" fill="#20262e"/><circle cx="24.1" cy="35.8" r="0.84" fill="#ffffff"/><circle cx="-41.4" cy="1.3" r="0.60" fill="#10161e"/><circle cx="-26.7" cy="-2.5" r="0.67" fill="#ffffff"/><circle cx="-19.6" cy="-3.0" r="0.43" fill="#ffffff"/><circle cx="-6.9" cy="62.7" r="0.86" fill="#20262e"/><circle cx="50.9" cy="-10.0" r="0.87" fill="#ffffff"/><circle cx="-59.7" cy="21.5" r="0.87" fill="#10161e"/><circle cx="58.3" cy="-23.1" r="0.48" fill="#d0e0f0"/><circle cx="-48.2" cy="19.7" r="0.52" fill="#20262e"/><circle cx="37.5" cy="34.8" r="0.48" fill="#ffffff"/><circle cx="-18.5" cy="-29.4" r="0.47" fill="#ffffff"/><circle cx="46.5" cy="-12.0" r="0.57" fill="#ffffff"/><circle cx="-35.7" cy="-36.9" r="0.75" fill="#20262e"/><circle cx="11.8" cy="22.5" r="0.42" fill="#d0e0f0"/><circle cx="-28.4" cy="-17.0" r="0.63" fill="#20262e"/><circle cx="-44.4" cy="-13.0" r="0.77" fill="#20262e"/><circle cx="-36.9" cy="-17.5" r="0.44" fill="#ffffff"/><circle cx="8.4" cy="-5.8" r="0.56" fill="#ffffff"/><circle cx="-62.2" cy="-18.2" r="0.69" fill="#20262e"/><circle cx="35.9" cy="18.4" r="0.72" fill="#10161e"/><circle cx="-39.4" cy="-0.8" r="0.54" fill="#ffffff"/><circle cx="39.8" cy="39.3" r="0.46" fill="#10161e"/><circle cx="-30.0" cy="47.8" r="0.56" fill="#ffffff"/><circle cx="-24.3" cy="-32.5" r="0.42" fill="#ffffff"/><circle cx="52.6" cy="-1.7" r="0.66" fill="#20262e"/><circle cx="44.7" cy="-3.7" r="0.75" fill="#10161e"/><circle cx="51.5" cy="-21.3" r="0.89" fill="#20262e"/><circle cx="-51.3" cy="16.9" r="0.42" fill="#ffffff"/><circle cx="-21.8" cy="-45.3" r="0.87" fill="#d0e0f0"/><circle cx="32.5" cy="-38.6" r="0.67" fill="#ffffff"/><circle cx="-56.9" cy="2.6" r="0.61" fill="#d0e0f0"/><circle cx="-28.9" cy="-30.6" r="0.60" fill="#10161e"/><circle cx="12.3" cy="-59.5" r="0.69" fill="#ffffff"/><circle cx="-19.9" cy="27.5" r="0.65" fill="#d0e0f0"/><circle cx="34.8" cy="49.2" r="0.52" fill="#10161e"/><circle cx="-34.3" cy="-2.2" r="0.40" fill="#10161e"/><circle cx="15.5" cy="7.2" r="0.50" fill="#20262e"/><circle cx="-64.1" cy="-2.9" r="0.64" fill="#10161e"/><circle cx="-22.8" cy="-26.1" r="0.45" fill="#20262e"/><circle cx="3.1" cy="38.0" r="0.40" fill="#d0e0f0"/><circle cx="-48.3" cy="9.9" r="0.40" fill="#d0e0f0"/><circle cx="-31.9" cy="-45.7" r="0.73" fill="#d0e0f0"/><circle cx="-35.0" cy="44.7" r="0.48" fill="#10161e"/><circle cx="27.5" cy="51.8" r="0.78" fill="#d0e0f0"/><circle cx="-7.1" cy="-32.8" r="0.59" fill="#20262e"/><circle cx="6.4" cy="-9.6" r="0.80" fill="#10161e"/><circle cx="-17.6" cy="39.6" r="0.69" fill="#d0e0f0"/><circle cx="19.3" cy="48.5" r="0.41" fill="#10161e"/><circle cx="-55.6" cy="-31.2" r="0.41" fill="#d0e0f0"/><circle cx="-25.7" cy="6.7" r="0.70" fill="#10161e"/><circle cx="-36.8" cy="43.8" r="0.43" fill="#20262e"/><circle cx="-7.2" cy="-35.8" r="0.41" fill="#10161e"/><circle cx="-27.6" cy="57.3" r="0.86" fill="#ffffff"/><circle cx="48.0" cy="17.4" r="0.80" fill="#20262e"/><circle cx="-18.9" cy="-42.4" r="0.54" fill="#10161e"/><circle cx="-33.2" cy="50.5" r="0.41" fill="#20262e"/><circle cx="34.5" cy="23.5" r="0.52" fill="#10161e"/><circle cx="0.3" cy="-65.1" r="0.43" fill="#d0e0f0"/><circle cx="-48.9" cy="11.7" r="0.42" fill="#d0e0f0"/><circle cx="-24.5" cy="44.5" r="0.81" fill="#ffffff"/><circle cx="56.5" cy="16.9" r="0.77" fill="#d0e0f0"/><circle cx="46.5" cy="-39.1" r="0.44" fill="#20262e"/><circle cx="-50.1" cy="36.4" r="0.69" fill="#20262e"/><circle cx="3.1" cy="-11.1" r="0.47" fill="#ffffff"/><circle cx="-30.6" cy="-13.2" r="0.40" fill="#d0e0f0"/><circle cx="10.3" cy="-6.9" r="0.40" fill="#20262e"/><circle cx="33.3" cy="9.2" r="0.41" fill="#ffffff"/><circle cx="17.1" cy="43.4" r="0.41" fill="#d0e0f0"/><circle cx="-23.5" cy="-56.0" r="0.62" fill="#10161e"/><circle cx="-16.4" cy="30.0" r="0.43" fill="#20262e"/><circle cx="1.5" cy="50.6" r="0.71" fill="#20262e"/><circle cx="-30.1" cy="41.6" r="0.56" fill="#ffffff"/><circle cx="40.4" cy="-27.4" r="0.54" fill="#10161e"/><circle cx="15.3" cy="-8.4" r="0.44" fill="#ffffff"/><circle cx="-0.6" cy="65.2" r="0.41" fill="#20262e"/><circle cx="37.2" cy="-48.2" r="0.40" fill="#ffffff"/><circle cx="40.3" cy="-24.7" r="0.53" fill="#ffffff"/><circle cx="13.2" cy="-1.3" r="0.54" fill="#10161e"/><circle cx="-32.0" cy="-53.6" r="0.69" fill="#10161e"/><circle cx="47.2" cy="7.4" r="0.40" fill="#d0e0f0"/><circle cx="10.5" cy="6.3" r="0.47" fill="#d0e0f0"/><circle cx="-9.2" cy="21.9" r="0.72" fill="#ffffff"/><circle cx="22.4" cy="-28.6" r="0.49" fill="#20262e"/><circle cx="-29.9" cy="-0.5" r="0.83" fill="#10161e"/><circle cx="48.6" cy="-13.7" r="0.41" fill="#10161e"/><circle cx="-48.8" cy="-7.3" r="0.76" fill="#ffffff"/><circle cx="48.0" cy="-36.3" r="0.44" fill="#20262e"/><circle cx="12.7" cy="39.2" r="0.45" fill="#10161e"/><circle cx="-28.2" cy="41.3" r="0.40" fill="#d0e0f0"/><circle cx="-32.4" cy="18.4" r="0.44" fill="#ffffff"/><circle cx="-25.1" cy="-4.2" r="0.82" fill="#d0e0f0"/><circle cx="10.8" cy="-48.8" r="0.50" fill="#d0e0f0"/><circle cx="-62.5" cy="8.0" r="0.83" fill="#10161e"/><circle cx="25.4" cy="-58.2" r="0.83" fill="#ffffff"/><circle cx="31.7" cy="35.7" r="0.57" fill="#d0e0f0"/><circle cx="11.7" cy="-54.1" r="0.68" fill="#d0e0f0"/><circle cx="58.8" cy="-3.5" r="0.47" fill="#d0e0f0"/><circle cx="-63.7" cy="14.4" r="0.54" fill="#20262e"/><circle cx="32.5" cy="6.0" r="0.42" fill="#20262e"/><circle cx="23.6" cy="-15.7" r="0.48" fill="#ffffff"/><circle cx="24.7" cy="-60.4" r="0.63" fill="#ffffff"/><circle cx="4.8" cy="16.4" r="0.56" fill="#ffffff"/><circle cx="36.1" cy="-46.4" r="0.42" fill="#20262e"/><circle cx="-43.3" cy="-3.1" r="0.57" fill="#10161e"/><circle cx="-8.7" cy="-34.1" r="0.80" fill="#10161e"/><circle cx="41.4" cy="-46.7" r="0.49" fill="#d0e0f0"/><circle cx="-61.7" cy="-17.7" r="0.72" fill="#ffffff"/><circle cx="25.8" cy="-60.7" r="0.43" fill="#20262e"/><circle cx="48.1" cy="2.5" r="0.47" fill="#10161e"/><circle cx="45.9" cy="23.9" r="0.53" fill="#10161e"/><circle cx="59.0" cy="15.2" r="0.51" fill="#20262e"/><circle cx="53.4" cy="-13.5" r="0.61" fill="#ffffff"/><circle cx="20.6" cy="-42.5" r="0.89" fill="#d0e0f0"/><circle cx="47.8" cy="-8.9" r="0.56" fill="#d0e0f0"/><circle cx="-48.0" cy="-7.8" r="0.74" fill="#10161e"/><circle cx="-40.2" cy="-30.3" r="0.50" fill="#20262e"/><circle cx="-50.5" cy="-2.0" r="0.55" fill="#20262e"/><circle cx="-0.1" cy="6.5" r="0.49" fill="#ffffff"/><circle cx="-28.3" cy="30.8" r="0.84" fill="#ffffff"/><circle cx="51.1" cy="-37.7" r="0.76" fill="#10161e"/><circle cx="-4.1" cy="34.2" r="0.71" fill="#10161e"/><circle cx="4.8" cy="-40.9" r="0.72" fill="#10161e"/><circle cx="-26.0" cy="33.7" r="0.40" fill="#20262e"/><circle cx="15.7" cy="-36.8" r="0.41" fill="#d0e0f0"/><circle cx="40.3" cy="-13.2" r="0.84" fill="#d0e0f0"/><circle cx="-3.6" cy="-54.8" r="0.49" fill="#10161e"/><circle cx="12.9" cy="58.7" r="0.85" fill="#10161e"/><circle cx="-4.2" cy="-19.5" r="0.41" fill="#20262e"/><circle cx="1.4" cy="10.6" r="0.43" fill="#10161e"/><circle cx="3.2" cy="-20.5" r="0.61" fill="#20262e"/><circle cx="10.0" cy="-17.0" r="0.59" fill="#ffffff"/><circle cx="-45.9" cy="-14.8" r="0.46" fill="#ffffff"/><circle cx="-5.3" cy="-54.1" r="0.75" fill="#ffffff"/><circle cx="54.6" cy="-1.7" r="0.42" fill="#ffffff"/><circle cx="12.3" cy="-52.9" r="0.40" fill="#10161e"/><circle cx="31.4" cy="31.0" r="0.63" fill="#10161e"/><circle cx="18.6" cy="-12.6" r="0.76" fill="#ffffff"/><circle cx="30.6" cy="41.7" r="0.65" fill="#20262e"/><circle cx="-42.2" cy="-5.5" r="0.79" fill="#d0e0f0"/><circle cx="35.7" cy="-38.5" r="0.73" fill="#20262e"/><circle cx="12.6" cy="-50.6" r="0.77" fill="#ffffff"/><circle cx="65.5" cy="3.5" r="0.62" fill="#d0e0f0"/><circle cx="48.9" cy="18.1" r="0.44" fill="#ffffff"/><circle cx="4.6" cy="34.3" r="0.65" fill="#10161e"/><circle cx="19.9" cy="26.8" r="0.48" fill="#ffffff"/><circle cx="-50.4" cy="-10.5" r="0.41" fill="#10161e"/><circle cx="-5.8" cy="45.4" r="0.45" fill="#10161e"/><circle cx="8.9" cy="39.0" r="0.51" fill="#d0e0f0"/><circle cx="25.7" cy="51.4" r="0.67" fill="#10161e"/><circle cx="-15.5" cy="-3.4" r="0.45" fill="#20262e"/><circle cx="-36.4" cy="-47.0" r="0.80" fill="#d0e0f0"/><circle cx="-32.8" cy="-31.8" r="0.41" fill="#20262e"/><circle cx="-10.0" cy="-29.7" r="0.60" fill="#ffffff"/><circle cx="-50.4" cy="-21.1" r="0.43" fill="#20262e"/><circle cx="-53.6" cy="-1.0" r="0.45" fill="#d0e0f0"/>
</g></g></g>
<clipPath id="sc10"><circle cx="1541.9" cy="1023.8" r="66.2"/></clipPath>
<circle cx="1541.9" cy="1023.8" r="66.2" fill="#4fd848"/>
<g clip-path="url(#sc10)"><g transform="translate(1541.9,1023.8)">
<rect x="-70" y="-70" width="140" height="140" fill="url(#g_powder)"/><ellipse cx="-18" cy="-22" rx="38" ry="30" fill="#8cf070" opacity=".28" filter="url(#b8)"/></g></g>
<clipPath id="sc20"><circle cx="1686.5" cy="1023.8" r="66.2"/></clipPath>
<circle cx="1686.5" cy="1023.8" r="66.2" fill="#e4ecd6"/>
<g clip-path="url(#sc20)"><g transform="translate(1686.5,1023.8)">
<rect x="-70" y="-70" width="140" height="140" fill="#e4ecd6"/><ellipse cx="-20" cy="-20" rx="30" ry="40" fill="#eef3e4" filter="url(#b4)"/><path d="M-50,-44 C-44,-30 -38,-18 -33,-4 C-30,6 -31,16 -36,20" fill="none" stroke="#b08a66" stroke-width="4" stroke-linecap="round" opacity=".78" filter="url(#b1)"/><path d="M-40,-20 C-32,-8 -27,4 -27,16" fill="none" stroke="#b08a66" stroke-width="2.6" stroke-linecap="round" opacity=".78" filter="url(#b1)"/><path d="M34,-64 C38,-44 31,-24 33,-6 C35,12 25,30 22,50 C21,58 22,62 23,68" fill="none" stroke="#b08a66" stroke-width="3.6" stroke-linecap="round" opacity=".78" filter="url(#b1)"/><path d="M42,-20 C46,-6 38,8 40,24" fill="none" stroke="#b08a66" stroke-width="3" stroke-linecap="round" opacity=".78" filter="url(#b1)"/><path d="M-24,40 C-16,46 -10,56 -12,68" fill="none" stroke="#b08a66" stroke-width="4" stroke-linecap="round" opacity=".78" filter="url(#b1)"/><path d="M4,26 C12,38 2,54 8,68" fill="none" stroke="#b08a66" stroke-width="4.4" stroke-linecap="round" opacity=".78" filter="url(#b1)"/><path d="M56,8 C60,22 54,34 58,46" fill="none" stroke="#b08a66" stroke-width="3" stroke-linecap="round" opacity=".78" filter="url(#b1)"/><path d="M-31,18 C-25,22 -27,30 -33,30" fill="none" stroke="#b08a66" stroke-width="3" stroke-linecap="round" opacity=".78" filter="url(#b1)"/><path d="M-58,-20 C-54,-10 -52,0 -54,10" fill="none" stroke="#b08a66" stroke-width="2" stroke-linecap="round" opacity=".78" filter="url(#b1)"/><path d="M14,-50 C18,-40 14,-30 16,-20" fill="none" stroke="#b08a66" stroke-width="1.6" stroke-linecap="round" opacity=".78" filter="url(#b1)"/><path d="M-8,-58 C-2,-46 -6,-36 -2,-26" fill="none" stroke="#b08a66" stroke-width="1.4" stroke-linecap="round" opacity=".78" filter="url(#b1)"/><ellipse cx="-32" cy="22" rx="4.4" ry="5.4" fill="#a47856" opacity=".85"/><ellipse cx="-18" cy="54" rx="6" ry="9" fill="#b08a66" opacity=".8"/><ellipse cx="8" cy="46" rx="4.6" ry="11" fill="#b08a66" opacity=".75"/><ellipse cx="33" cy="12" rx="3.4" ry="10" fill="#ac8460" opacity=".75"/><ellipse cx="24" cy="52" rx="3" ry="8" fill="#ac8460" opacity=".7"/><ellipse cx="-17" cy="54" rx="2.6" ry="4.4" fill="#e6ead4" opacity=".8"/><ellipse cx="8" cy="46" rx="1.8" ry="5" fill="#e6ead4" opacity=".7"/></g></g>
<clipPath id="sc01"><circle cx="1397.9" cy="1233.0" r="66.2"/></clipPath>
<circle cx="1397.9" cy="1233.0" r="66.2" fill="#38383b"/>
<g clip-path="url(#sc01)"><g transform="translate(1397.9,1233.0)">
<rect x="-70" y="-70" width="140" height="140" fill="#38383b"/><ellipse cx="-50" cy="20" rx="22" ry="50" fill="#2a2a2d" filter="url(#b4)"/><path d="M-22,-38 C-18,-10 -22,10 -26,24 M-12,-28 L-20,-6 M-24,38 C-14,48 -8,58 -6,66 M52,-28 C60,-14 62,0 58,12" fill="none" stroke="#4f8a90" stroke-width="1.2"/><path d="M-60,-22 C-56,-34 -42,-36 -34,-28 C-30,-16 -34,-6 -42,-2 C-52,-6 -60,-12 -60,-22Z" fill="#62c4cc"/><path d="M-56,-24 L-38,-6 M-52,-30 L-34,-12 M-46,-33 L-32,-20" stroke="#38383b" stroke-width="1.3"/><path d="M2,-62 C6,-70 22,-70 26,-60 C36,-66 48,-58 46,-46 C50,-40 44,-32 36,-34 C34,-26 24,-24 20,-32 C10,-30 6,-40 10,-46 C0,-48 -2,-56 2,-62Z" fill="#eca08e"/><ellipse cx="-22" cy="-44" rx="9" ry="6" fill="#eca08e"/><ellipse cx="-10" cy="-34" rx="9" ry="6" fill="#eca08e"/><ellipse cx="-2" cy="-28" rx="6" ry="5" fill="#eca08e"/><ellipse cx="-28" cy="-38" rx="5" ry="4" fill="#eca08e"/><path d="M-6,0 C-2,-12 10,-16 18,-8 C24,-18 40,-14 40,-2 C50,2 50,16 42,22 C46,34 38,44 28,42 C24,50 10,50 6,42 C-4,44 -10,36 -6,28 C-14,22 -14,8 -6,0Z" fill="#eca08e"/><circle cx="17" cy="12" r="3" fill="#f3ead8"/><path d="M-2,34 C-8,36 -8,44 -2,44 C4,44 6,38 -2,34Z" fill="#f3e2d2"/><path d="M-56,18 C-50,10 -40,12 -38,20 C-30,22 -30,34 -36,38 C-34,48 -44,54 -50,48 C-60,50 -64,40 -60,34 C-66,28 -62,18 -56,18Z" fill="#eca08e"/><circle cx="-49" cy="38" r="2.4" fill="#d8f0e8"/><ellipse cx="26" cy="58" rx="9" ry="6" fill="#f3d8c8"/><ellipse cx="14" cy="50" rx="5" ry="3" fill="#f3ead8"/><ellipse cx="-64" cy="-8" rx="5" ry="14" fill="#eca08e"/></g></g>
<clipPath id="sc11"><circle cx="1541.9" cy="1233.0" r="66.2"/></clipPath>
<circle cx="1541.9" cy="1233.0" r="66.2" fill="#8a7058"/>
<g clip-path="url(#sc11)"><g transform="translate(1541.9,1233.0)">
<rect x="-70" y="-70" width="140" height="140" fill="url(#g_ice)"/><g opacity=".22"><circle cx="-40.7" cy="-39.7" r="0.65" fill="#fff3dc"/><circle cx="31.3" cy="-49.0" r="0.42" fill="#fff3dc"/><circle cx="18.0" cy="-13.0" r="0.49" fill="#fff3dc"/><circle cx="-15.4" cy="14.4" r="0.42" fill="#fff3dc"/><circle cx="-23.6" cy="15.4" r="0.70" fill="#2a2018"/><circle cx="31.7" cy="49.7" r="0.41" fill="#2a2018"/><circle cx="1.9" cy="2.0" r="0.70" fill="#fff3dc"/><circle cx="9.6" cy="-64.0" r="0.41" fill="#fff3dc"/><circle cx="-15.8" cy="62.8" r="0.52" fill="#fff3dc"/><circle cx="27.0" cy="59.1" r="0.42" fill="#2a2018"/><circle cx="-12.0" cy="37.8" r="0.41" fill="#fff3dc"/><circle cx="-3.3" cy="37.9" r="0.67" fill="#fff3dc"/><circle cx="-45.7" cy="-31.5" r="0.40" fill="#2a2018"/><circle cx="19.1" cy="-41.6" r="0.44" fill="#2a2018"/><circle cx="-27.3" cy="4.8" r="0.43" fill="#fff3dc"/><circle cx="37.5" cy="-12.4" r="0.47" fill="#2a2018"/><circle cx="-33.5" cy="37.4" r="0.40" fill="#fff3dc"/><circle cx="-13.7" cy="-50.3" r="0.76" fill="#fff3dc"/><circle cx="2.3" cy="-63.6" r="0.75" fill="#2a2018"/><circle cx="-62.2" cy="-4.9" r="0.43" fill="#2a2018"/><circle cx="44.4" cy="35.9" r="0.65" fill="#2a2018"/><circle cx="62.5" cy="14.6" r="0.40" fill="#2a2018"/><circle cx="-39.6" cy="-3.2" r="0.41" fill="#2a2018"/><circle cx="43.3" cy="-22.3" r="0.44" fill="#2a2018"/><circle cx="-20.4" cy="55.4" r="0.56" fill="#2a2018"/><circle cx="26.5" cy="-0.5" r="0.40" fill="#2a2018"/><circle cx="55.7" cy="11.3" r="0.45" fill="#2a2018"/><circle cx="-41.2" cy="11.8" r="0.40" fill="#fff3dc"/><circle cx="12.2" cy="-36.2" r="0.42" fill="#fff3dc"/><circle cx="-40.0" cy="-42.8" r="0.40" fill="#2a2018"/><circle cx="-11.2" cy="11.5" r="0.47" fill="#fff3dc"/><circle cx="-63.1" cy="19.1" r="0.69" fill="#2a2018"/><circle cx="53.1" cy="-13.6" r="0.44" fill="#2a2018"/><circle cx="-10.7" cy="40.6" r="0.41" fill="#2a2018"/><circle cx="21.1" cy="-43.3" r="0.41" fill="#2a2018"/><circle cx="18.9" cy="-20.7" r="0.50" fill="#2a2018"/><circle cx="54.3" cy="22.7" r="0.45" fill="#fff3dc"/><circle cx="2.4" cy="-39.7" r="0.60" fill="#2a2018"/><circle cx="17.3" cy="-29.2" r="0.78" fill="#2a2018"/><circle cx="37.1" cy="-10.3" r="0.41" fill="#fff3dc"/><circle cx="-57.3" cy="9.3" r="0.44" fill="#2a2018"/><circle cx="-58.0" cy="13.8" r="0.57" fill="#2a2018"/><circle cx="-30.6" cy="43.3" r="0.62" fill="#2a2018"/><circle cx="-35.6" cy="49.0" r="0.70" fill="#2a2018"/><circle cx="63.8" cy="-9.6" r="0.51" fill="#fff3dc"/><circle cx="12.6" cy="37.7" r="0.69" fill="#2a2018"/><circle cx="-20.1" cy="-52.2" r="0.61" fill="#fff3dc"/><circle cx="-47.4" cy="-42.8" r="0.51" fill="#2a2018"/><circle cx="-15.9" cy="46.4" r="0.70" fill="#2a2018"/><circle cx="-2.0" cy="-10.8" r="0.41" fill="#2a2018"/><circle cx="-20.0" cy="-19.7" r="0.63" fill="#fff3dc"/><circle cx="-9.2" cy="-9.9" r="0.49" fill="#fff3dc"/><circle cx="31.5" cy="53.8" r="0.40" fill="#fff3dc"/><circle cx="-48.6" cy="5.3" r="0.47" fill="#2a2018"/><circle cx="-37.7" cy="35.3" r="0.54" fill="#fff3dc"/><circle cx="-8.1" cy="-39.6" r="0.45" fill="#2a2018"/><circle cx="37.9" cy="-48.3" r="0.59" fill="#2a2018"/><circle cx="47.7" cy="-10.9" r="0.44" fill="#2a2018"/><circle cx="-36.9" cy="-10.8" r="0.53" fill="#2a2018"/><circle cx="17.8" cy="-38.8" r="0.66" fill="#2a2018"/><circle cx="-25.6" cy="5.3" r="0.46" fill="#2a2018"/><circle cx="62.6" cy="-17.2" r="0.55" fill="#2a2018"/><circle cx="23.2" cy="-48.4" r="0.46" fill="#2a2018"/><circle cx="-47.4" cy="-20.8" r="0.41" fill="#2a2018"/><circle cx="-58.9" cy="28.1" r="0.50" fill="#2a2018"/><circle cx="40.1" cy="-7.0" r="0.77" fill="#fff3dc"/><circle cx="-27.7" cy="-19.1" r="0.78" fill="#2a2018"/><circle cx="-0.1" cy="9.3" r="0.76" fill="#2a2018"/><circle cx="-35.3" cy="1.8" r="0.49" fill="#fff3dc"/><circle cx="-34.6" cy="-54.6" r="0.42" fill="#fff3dc"/><circle cx="11.9" cy="-58.8" r="0.40" fill="#2a2018"/><circle cx="1.9" cy="45.4" r="0.40" fill="#2a2018"/><circle cx="-2.9" cy="25.8" r="0.79" fill="#2a2018"/><circle cx="-65.7" cy="3.2" r="0.51" fill="#fff3dc"/><circle cx="23.3" cy="2.4" r="0.43" fill="#2a2018"/><circle cx="-42.7" cy="-36.9" r="0.40" fill="#2a2018"/><circle cx="-36.6" cy="43.7" r="0.54" fill="#fff3dc"/><circle cx="49.1" cy="0.9" r="0.59" fill="#fff3dc"/><circle cx="37.2" cy="-31.6" r="0.40" fill="#2a2018"/><circle cx="-45.3" cy="-30.8" r="0.76" fill="#2a2018"/><circle cx="38.2" cy="-47.0" r="0.49" fill="#fff3dc"/><circle cx="36.2" cy="-26.7" r="0.63" fill="#2a2018"/><circle cx="28.4" cy="-47.1" r="0.47" fill="#2a2018"/><circle cx="-27.0" cy="-36.4" r="0.44" fill="#fff3dc"/><circle cx="-48.5" cy="6.6" r="0.50" fill="#2a2018"/><circle cx="-41.8" cy="-10.2" r="0.52" fill="#fff3dc"/><circle cx="28.8" cy="13.2" r="0.67" fill="#fff3dc"/><circle cx="-5.5" cy="-9.0" r="0.61" fill="#fff3dc"/><circle cx="55.3" cy="-0.6" r="0.40" fill="#fff3dc"/><circle cx="10.2" cy="52.0" r="0.76" fill="#fff3dc"/><circle cx="55.4" cy="-2.1" r="0.48" fill="#fff3dc"/><circle cx="-32.6" cy="-27.2" r="0.41" fill="#fff3dc"/><circle cx="20.9" cy="5.9" r="0.46" fill="#fff3dc"/><circle cx="-9.3" cy="49.0" r="0.41" fill="#2a2018"/><circle cx="17.5" cy="-16.7" r="0.47" fill="#2a2018"/><circle cx="-18.2" cy="-42.4" r="0.45" fill="#2a2018"/><circle cx="21.1" cy="-12.5" r="0.43" fill="#2a2018"/><circle cx="41.6" cy="-26.2" r="0.55" fill="#2a2018"/><circle cx="29.5" cy="12.4" r="0.68" fill="#2a2018"/><circle cx="-24.0" cy="-2.6" r="0.42" fill="#2a2018"/><circle cx="-39.4" cy="11.9" r="0.41" fill="#fff3dc"/><circle cx="-10.8" cy="-15.9" r="0.58" fill="#fff3dc"/><circle cx="30.7" cy="-35.5" r="0.48" fill="#2a2018"/><circle cx="32.7" cy="-32.0" r="0.44" fill="#fff3dc"/><circle cx="-39.5" cy="-10.7" r="0.69" fill="#2a2018"/><circle cx="-13.1" cy="-28.3" r="0.41" fill="#2a2018"/><circle cx="10.6" cy="-22.3" r="0.56" fill="#2a2018"/><circle cx="18.2" cy="-30.5" r="0.75" fill="#2a2018"/><circle cx="11.6" cy="-38.9" r="0.61" fill="#2a2018"/><circle cx="-35.4" cy="-47.4" r="0.48" fill="#2a2018"/><circle cx="-50.5" cy="-5.6" r="0.53" fill="#fff3dc"/><circle cx="-16.3" cy="12.5" r="0.40" fill="#fff3dc"/><circle cx="15.5" cy="43.5" r="0.75" fill="#2a2018"/><circle cx="45.3" cy="0.1" r="0.72" fill="#2a2018"/><circle cx="-19.9" cy="40.2" r="0.41" fill="#fff3dc"/><circle cx="55.5" cy="26.6" r="0.70" fill="#2a2018"/><circle cx="19.2" cy="27.2" r="0.43" fill="#fff3dc"/><circle cx="0.1" cy="-54.1" r="0.40" fill="#fff3dc"/><circle cx="-32.0" cy="47.5" r="0.44" fill="#fff3dc"/><circle cx="-20.7" cy="-50.1" r="0.49" fill="#fff3dc"/><circle cx="39.8" cy="36.4" r="0.43" fill="#fff3dc"/><circle cx="-3.5" cy="-26.4" r="0.42" fill="#fff3dc"/><circle cx="-47.7" cy="-24.2" r="0.55" fill="#2a2018"/><circle cx="-12.0" cy="-25.7" r="0.45" fill="#fff3dc"/><circle cx="-6.2" cy="-55.6" r="0.41" fill="#fff3dc"/><circle cx="13.6" cy="26.9" r="0.40" fill="#2a2018"/><circle cx="-5.1" cy="-34.0" r="0.49" fill="#2a2018"/><circle cx="7.7" cy="-41.6" r="0.40" fill="#2a2018"/><circle cx="51.9" cy="-20.7" r="0.42" fill="#2a2018"/><circle cx="38.0" cy="24.7" r="0.59" fill="#fff3dc"/><circle cx="-58.3" cy="0.9" r="0.40" fill="#2a2018"/><circle cx="-49.8" cy="17.6" r="0.71" fill="#fff3dc"/><circle cx="20.2" cy="42.5" r="0.46" fill="#fff3dc"/><circle cx="31.9" cy="18.7" r="0.40" fill="#fff3dc"/><circle cx="-49.8" cy="-35.4" r="0.42" fill="#fff3dc"/><circle cx="-36.8" cy="14.2" r="0.47" fill="#2a2018"/><circle cx="-23.8" cy="-3.4" r="0.40" fill="#2a2018"/><circle cx="-23.4" cy="-57.7" r="0.80" fill="#fff3dc"/><circle cx="29.5" cy="35.1" r="0.64" fill="#2a2018"/><circle cx="15.6" cy="-33.5" r="0.41" fill="#fff3dc"/><circle cx="-54.2" cy="9.8" r="0.66" fill="#fff3dc"/><circle cx="-7.5" cy="45.7" r="0.42" fill="#fff3dc"/><circle cx="17.7" cy="-59.4" r="0.71" fill="#fff3dc"/><circle cx="-32.5" cy="17.7" r="0.63" fill="#fff3dc"/><circle cx="42.4" cy="-32.4" r="0.63" fill="#fff3dc"/><circle cx="-55.8" cy="21.2" r="0.57" fill="#fff3dc"/><circle cx="-7.6" cy="-54.7" r="0.43" fill="#2a2018"/><circle cx="-34.6" cy="-14.2" r="0.44" fill="#fff3dc"/><circle cx="-4.3" cy="54.1" r="0.43" fill="#fff3dc"/><circle cx="-54.7" cy="-14.9" r="0.40" fill="#fff3dc"/><circle cx="22.6" cy="7.4" r="0.45" fill="#2a2018"/><circle cx="49.0" cy="-16.2" r="0.42" fill="#2a2018"/><circle cx="20.9" cy="21.0" r="0.45" fill="#fff3dc"/><circle cx="-51.8" cy="-30.4" r="0.61" fill="#fff3dc"/><circle cx="-5.8" cy="51.0" r="0.56" fill="#fff3dc"/><circle cx="-60.3" cy="21.2" r="0.65" fill="#fff3dc"/><circle cx="-22.1" cy="38.1" r="0.42" fill="#2a2018"/><circle cx="6.9" cy="12.8" r="0.58" fill="#fff3dc"/><circle cx="-63.6" cy="-13.2" r="0.54" fill="#fff3dc"/><circle cx="42.5" cy="43.5" r="0.59" fill="#fff3dc"/><circle cx="11.9" cy="-1.6" r="0.53" fill="#2a2018"/><circle cx="-10.9" cy="-37.7" r="0.49" fill="#fff3dc"/><circle cx="-5.0" cy="29.2" r="0.53" fill="#2a2018"/><circle cx="5.3" cy="-58.2" r="0.45" fill="#fff3dc"/><circle cx="21.1" cy="-49.4" r="0.73" fill="#fff3dc"/><circle cx="-30.8" cy="-28.2" r="0.41" fill="#fff3dc"/><circle cx="-12.8" cy="0.8" r="0.41" fill="#fff3dc"/><circle cx="0.8" cy="-35.0" r="0.74" fill="#2a2018"/><circle cx="-44.8" cy="6.5" r="0.51" fill="#fff3dc"/><circle cx="12.6" cy="-38.5" r="0.40" fill="#fff3dc"/><circle cx="3.8" cy="-9.1" r="0.58" fill="#2a2018"/><circle cx="-46.6" cy="-4.0" r="0.52" fill="#2a2018"/><circle cx="-55.7" cy="18.2" r="0.53" fill="#fff3dc"/><circle cx="-57.4" cy="-13.5" r="0.45" fill="#fff3dc"/><circle cx="-20.5" cy="-43.1" r="0.43" fill="#fff3dc"/><circle cx="57.2" cy="9.9" r="0.55" fill="#2a2018"/><circle cx="-22.2" cy="59.6" r="0.43" fill="#fff3dc"/><circle cx="51.5" cy="25.1" r="0.58" fill="#2a2018"/><circle cx="43.7" cy="-33.0" r="0.68" fill="#fff3dc"/><circle cx="-19.9" cy="2.1" r="0.41" fill="#2a2018"/><circle cx="48.1" cy="-7.7" r="0.46" fill="#fff3dc"/><circle cx="-19.3" cy="-35.7" r="0.63" fill="#fff3dc"/><circle cx="43.7" cy="-27.7" r="0.46" fill="#fff3dc"/><circle cx="34.4" cy="-51.9" r="0.59" fill="#2a2018"/><circle cx="0.1" cy="20.9" r="0.43" fill="#2a2018"/><circle cx="5.4" cy="-17.6" r="0.76" fill="#fff3dc"/><circle cx="-38.8" cy="-42.8" r="0.42" fill="#fff3dc"/><circle cx="-47.3" cy="-22.2" r="0.56" fill="#2a2018"/><circle cx="-37.3" cy="21.5" r="0.51" fill="#fff3dc"/><circle cx="-11.3" cy="33.1" r="0.55" fill="#2a2018"/><circle cx="4.4" cy="10.6" r="0.41" fill="#fff3dc"/><circle cx="-34.5" cy="15.2" r="0.40" fill="#2a2018"/><circle cx="-2.2" cy="-16.2" r="0.49" fill="#fff3dc"/><circle cx="-25.4" cy="55.3" r="0.57" fill="#fff3dc"/><circle cx="40.6" cy="-32.1" r="0.65" fill="#fff3dc"/><circle cx="54.1" cy="0.5" r="0.40" fill="#2a2018"/><circle cx="29.9" cy="42.3" r="0.40" fill="#2a2018"/><circle cx="-5.2" cy="-59.4" r="0.66" fill="#fff3dc"/><circle cx="-39.5" cy="44.6" r="0.42" fill="#2a2018"/><circle cx="-31.5" cy="31.7" r="0.59" fill="#fff3dc"/><circle cx="1.7" cy="64.0" r="0.49" fill="#fff3dc"/><circle cx="37.7" cy="34.3" r="0.46" fill="#fff3dc"/><circle cx="-64.7" cy="1.8" r="0.76" fill="#fff3dc"/><circle cx="-63.8" cy="3.7" r="0.60" fill="#fff3dc"/><circle cx="33.9" cy="30.6" r="0.45" fill="#fff3dc"/><circle cx="35.6" cy="-20.0" r="0.43" fill="#2a2018"/><circle cx="-36.1" cy="-45.1" r="0.40" fill="#fff3dc"/><circle cx="-10.9" cy="36.7" r="0.69" fill="#2a2018"/><circle cx="40.7" cy="13.3" r="0.42" fill="#fff3dc"/><circle cx="39.5" cy="51.5" r="0.52" fill="#2a2018"/><circle cx="48.3" cy="-4.7" r="0.46" fill="#fff3dc"/><circle cx="33.0" cy="21.5" r="0.66" fill="#fff3dc"/><circle cx="10.3" cy="-22.5" r="0.66" fill="#fff3dc"/><circle cx="-0.2" cy="44.7" r="0.46" fill="#fff3dc"/><circle cx="29.2" cy="10.1" r="0.78" fill="#2a2018"/><circle cx="47.4" cy="3.6" r="0.77" fill="#2a2018"/><circle cx="-15.2" cy="-0.7" r="0.46" fill="#2a2018"/><circle cx="40.8" cy="-49.3" r="0.57" fill="#fff3dc"/><circle cx="9.2" cy="41.9" r="0.61" fill="#2a2018"/><circle cx="35.0" cy="-20.6" r="0.80" fill="#fff3dc"/>
</g></g></g>
<clipPath id="sc21"><circle cx="1686.5" cy="1233.0" r="66.2"/></clipPath>
<circle cx="1686.5" cy="1233.0" r="66.2" fill="#b04cb0"/>
<g clip-path="url(#sc21)"><g transform="translate(1686.5,1233.0)">
<rect x="-70" y="-70" width="140" height="140" fill="url(#g_electro)"/><rect x="-70" y="-70" width="14" height="140" fill="#f4a0ec" opacity=".35" filter="url(#b4)"/><rect x="56" y="-70" width="14" height="140" fill="#f4a0ec" opacity=".4" filter="url(#b4)"/><rect x="-8.5" y="-70" width="17" height="140" fill="#a248a0"/><rect x="-9.5" y="-70" width="5" height="140" fill="#3a1648"/><rect x="3.5" y="-70" width="4.5" height="140" fill="#35123f"/><rect x="-2" y="-70" width="2" height="140" fill="#c878c0" opacity=".7"/></g></g>
<clipPath id="sc02"><circle cx="1397.9" cy="1439.4" r="66.2"/></clipPath>
<circle cx="1397.9" cy="1439.4" r="66.2" fill="#dcdedc"/>
<g clip-path="url(#sc02)"><g transform="translate(1397.9,1439.4)">
<rect x="-70" y="-70" width="140" height="140" fill="url(#g_silk)"/><rect x="-58" y="-70" width="5" height="140" fill="#f4f6f4" opacity=".8" transform="skewX(-6)"/><path d="M-43,-50 C-40,-22 -20,-4 6,12 C24,24 38,34 44,48" fill="none" stroke="#e7709c" stroke-width="5.6" stroke-linecap="round"/><path d="M-10,-64 C0,-52 4,-38 2,-26 C0,-16 -10,-16 -12,-24" fill="none" stroke="#e7709c" stroke-width="3.4" stroke-linecap="round"/><path d="M-14,-56 C-22,-60 -28,-52 -22,-46" fill="none" stroke="#e7709c" stroke-width="2.8" stroke-linecap="round"/><path d="M4,-42 C14,-50 32,-44 40,-22 C48,0 50,24 46,44" fill="none" stroke="#e7709c" stroke-width="5" stroke-linecap="round"/><path d="M2,-26 C2,-10 16,2 30,2" fill="none" stroke="#e7709c" stroke-width="3.4" stroke-linecap="round"/><path d="M-14,16 C-20,2 -44,-2 -50,16 C-54,36 -30,50 -10,42 C2,36 4,22 -6,24" fill="none" stroke="#e7709c" stroke-width="4" stroke-linecap="round"/><path d="M4,46 C18,62 36,58 44,48" fill="none" stroke="#e7709c" stroke-width="3.6" stroke-linecap="round"/></g></g>
<clipPath id="sc12"><circle cx="1541.9" cy="1439.4" r="66.2"/></clipPath>
<circle cx="1541.9" cy="1439.4" r="66.2" fill="#e9e1df"/>
<g clip-path="url(#sc12)"><g transform="translate(1541.9,1439.4)">
<rect x="-70" y="-70" width="140" height="140" fill="url(#g_gas)"/><path d="M-48,-70 L-40,-70 L-46,70 L-58,70Z" fill="#dff3ec" opacity=".8"/><path d="M-40,-34 C-30,-44 -10,-40 -12,-26 C-6,-14 -14,-2 -26,0 C-36,2 -44,-8 -42,-18 C-44,-24 -44,-30 -40,-34Z" fill="#f3bccb" opacity=".55" filter="url(#b2)"/><path d="M-24,8 C-10,2 8,10 6,26 C8,40 -4,52 -18,48 C-30,46 -34,34 -30,24 C-32,16 -30,12 -24,8Z" fill="#f3b4c6" opacity=".6" filter="url(#b2)"/><ellipse cx="10" cy="-10" rx="20" ry="34" fill="#f4eeee" opacity=".8" filter="url(#b4)"/></g></g>
<clipPath id="sc22"><circle cx="1686.5" cy="1439.4" r="66.2"/></clipPath>
<circle cx="1686.5" cy="1439.4" r="66.2" fill="#0d1119"/>
<g clip-path="url(#sc22)"><g transform="translate(1686.5,1439.4)">
<rect x="-70" y="-70" width="140" height="140" fill="#0d1119"/><rect x="48" y="-70" width="3" height="140" fill="#3a4050" opacity=".6"/><circle cx="-47.2" cy="14.6" r="0.95" fill="#e8ecf4"/><circle cx="-58.3" cy="18.2" r="0.38" fill="#c8ccd8"/><circle cx="-51.1" cy="7.8" r="0.37" fill="#e8ecf4"/><circle cx="-6.5" cy="18.8" r="0.81" fill="#c8ccd8"/><circle cx="-33.8" cy="-38.1" r="0.46" fill="#e8ecf4"/><circle cx="-29.4" cy="-42.6" r="0.37" fill="#ffffff"/><circle cx="8.1" cy="-14.4" r="0.35" fill="#ffffff"/><circle cx="-47.2" cy="-34.1" r="0.42" fill="#c8ccd8"/><circle cx="26.1" cy="-39.8" r="0.64" fill="#e8ecf4"/><circle cx="19.2" cy="0.6" r="0.65" fill="#e8ecf4"/><circle cx="65.9" cy="-1.0" r="0.84" fill="#c8ccd8"/><circle cx="-1.4" cy="57.4" r="0.53" fill="#ffffff"/><circle cx="52.2" cy="24.7" r="0.46" fill="#e8ecf4"/><circle cx="-48.9" cy="42.3" r="0.85" fill="#ffffff"/><circle cx="14.4" cy="61.9" r="0.35" fill="#e8ecf4"/><circle cx="41.3" cy="-5.1" r="0.35" fill="#c8ccd8"/><circle cx="17.2" cy="51.4" r="0.43" fill="#e8ecf4"/><circle cx="-32.1" cy="56.3" r="0.75" fill="#ffffff"/><circle cx="36.8" cy="41.5" r="0.35" fill="#e8ecf4"/><circle cx="8.1" cy="-26.6" r="0.57" fill="#e8ecf4"/><circle cx="-65.4" cy="-3.6" r="0.76" fill="#e8ecf4"/><circle cx="-14.0" cy="-17.7" r="0.47" fill="#ffffff"/><circle cx="61.4" cy="0.2" r="1.02" fill="#c8ccd8"/><circle cx="-20.7" cy="58.5" r="0.38" fill="#e8ecf4"/><circle cx="51.2" cy="-1.3" r="0.58" fill="#ffffff"/><circle cx="30.4" cy="-2.0" r="0.40" fill="#c8ccd8"/><circle cx="-17.1" cy="31.6" r="0.35" fill="#ffffff"/><circle cx="13.5" cy="50.9" r="0.35" fill="#e8ecf4"/><circle cx="-30.8" cy="32.1" r="0.99" fill="#e8ecf4"/><circle cx="12.0" cy="-21.1" r="0.45" fill="#c8ccd8"/><circle cx="35.6" cy="51.8" r="0.82" fill="#ffffff"/><circle cx="-4.0" cy="-26.0" r="0.63" fill="#c8ccd8"/><circle cx="21.2" cy="60.7" r="0.89" fill="#c8ccd8"/><circle cx="12.7" cy="6.8" r="0.36" fill="#c8ccd8"/><circle cx="31.3" cy="-7.5" r="0.70" fill="#e8ecf4"/><circle cx="-55.2" cy="30.0" r="0.52" fill="#c8ccd8"/><circle cx="25.3" cy="50.0" r="0.35" fill="#ffffff"/><circle cx="-52.9" cy="6.9" r="0.62" fill="#ffffff"/><circle cx="-11.9" cy="62.1" r="0.38" fill="#ffffff"/><circle cx="38.4" cy="17.8" r="0.39" fill="#ffffff"/><circle cx="17.9" cy="35.9" r="0.58" fill="#ffffff"/><circle cx="20.5" cy="13.4" r="0.49" fill="#e8ecf4"/><circle cx="-30.3" cy="-45.8" r="0.59" fill="#ffffff"/><circle cx="-53.6" cy="-33.9" r="0.51" fill="#e8ecf4"/><circle cx="-19.6" cy="-61.7" r="0.35" fill="#c8ccd8"/><circle cx="15.3" cy="7.8" r="0.42" fill="#ffffff"/><circle cx="18.1" cy="-0.1" r="0.56" fill="#c8ccd8"/><circle cx="61.4" cy="17.6" r="0.73" fill="#ffffff"/><circle cx="17.0" cy="-60.8" r="0.44" fill="#c8ccd8"/><circle cx="-18.1" cy="3.1" r="0.86" fill="#ffffff"/><circle cx="32.7" cy="-37.8" r="0.62" fill="#e8ecf4"/><circle cx="-5.3" cy="5.1" r="0.35" fill="#ffffff"/><circle cx="-42.1" cy="-50.5" r="0.89" fill="#c8ccd8"/><circle cx="-30.8" cy="55.9" r="0.69" fill="#e8ecf4"/><circle cx="-56.3" cy="22.1" r="0.35" fill="#c8ccd8"/><circle cx="50.3" cy="9.5" r="0.51" fill="#ffffff"/><circle cx="21.4" cy="-5.9" r="0.78" fill="#c8ccd8"/><circle cx="29.3" cy="-16.0" r="0.35" fill="#e8ecf4"/><circle cx="32.1" cy="40.4" r="0.54" fill="#e8ecf4"/><circle cx="-23.5" cy="-37.0" r="0.91" fill="#e8ecf4"/><circle cx="-27.3" cy="18.6" r="0.63" fill="#ffffff"/><circle cx="29.9" cy="-28.0" r="0.59" fill="#e8ecf4"/><circle cx="6.0" cy="23.4" r="0.44" fill="#ffffff"/><circle cx="-15.5" cy="-62.4" r="0.40" fill="#ffffff"/><circle cx="34.4" cy="29.5" r="0.95" fill="#e8ecf4"/><circle cx="-35.2" cy="32.0" r="0.67" fill="#c8ccd8"/><circle cx="34.7" cy="-55.4" r="0.49" fill="#ffffff"/><circle cx="16.5" cy="-30.6" r="0.61" fill="#c8ccd8"/><circle cx="-12.8" cy="-48.2" r="0.42" fill="#c8ccd8"/><circle cx="24.2" cy="2.9" r="0.49" fill="#ffffff"/><circle cx="4.1" cy="-33.8" r="0.78" fill="#ffffff"/><circle cx="22.3" cy="-2.2" r="0.36" fill="#c8ccd8"/><circle cx="-33.3" cy="-49.1" r="0.99" fill="#c8ccd8"/><circle cx="19.2" cy="56.7" r="0.40" fill="#c8ccd8"/><circle cx="45.2" cy="3.1" r="0.71" fill="#ffffff"/><circle cx="8.6" cy="57.6" r="0.55" fill="#c8ccd8"/><circle cx="-65.9" cy="-0.2" r="0.37" fill="#c8ccd8"/><circle cx="16.2" cy="-10.8" r="0.96" fill="#c8ccd8"/><circle cx="-33.8" cy="28.7" r="0.38" fill="#ffffff"/><circle cx="-35.6" cy="34.8" r="0.89" fill="#e8ecf4"/><circle cx="-51.9" cy="12.0" r="0.38" fill="#c8ccd8"/><circle cx="39.3" cy="-43.9" r="0.95" fill="#ffffff"/><circle cx="14.3" cy="61.0" r="1.02" fill="#e8ecf4"/><circle cx="-57.1" cy="-13.5" r="0.42" fill="#c8ccd8"/><circle cx="24.0" cy="-30.7" r="0.35" fill="#e8ecf4"/><circle cx="-23.4" cy="35.9" r="0.40" fill="#ffffff"/><circle cx="12.2" cy="60.3" r="0.48" fill="#ffffff"/><circle cx="17.8" cy="33.8" r="0.78" fill="#ffffff"/><circle cx="-64.9" cy="12.1" r="0.92" fill="#c8ccd8"/><circle cx="29.4" cy="-46.3" r="0.98" fill="#e8ecf4"/><circle cx="-48.2" cy="-26.1" r="0.75" fill="#e8ecf4"/><circle cx="-35.1" cy="-5.9" r="0.72" fill="#c8ccd8"/><circle cx="24.3" cy="40.6" r="0.93" fill="#e8ecf4"/><circle cx="-15.4" cy="37.7" r="0.85" fill="#c8ccd8"/><circle cx="15.8" cy="58.8" r="1.01" fill="#c8ccd8"/><circle cx="-6.7" cy="46.1" r="0.47" fill="#ffffff"/><circle cx="-51.3" cy="-1.0" r="0.35" fill="#ffffff"/><circle cx="-41.6" cy="-4.2" r="0.80" fill="#c8ccd8"/><circle cx="14.5" cy="14.0" r="0.37" fill="#c8ccd8"/><circle cx="-61.2" cy="16.2" r="0.80" fill="#e8ecf4"/><circle cx="-5.5" cy="45.1" r="0.36" fill="#e8ecf4"/><circle cx="51.9" cy="-37.2" r="0.94" fill="#c8ccd8"/><circle cx="-11.8" cy="26.3" r="0.62" fill="#e8ecf4"/><circle cx="40.0" cy="42.3" r="0.35" fill="#ffffff"/><circle cx="4.0" cy="6.0" r="0.41" fill="#c8ccd8"/><circle cx="-31.9" cy="41.0" r="0.36" fill="#c8ccd8"/><circle cx="-53.0" cy="-30.1" r="0.62" fill="#c8ccd8"/><circle cx="15.5" cy="45.5" r="0.48" fill="#e8ecf4"/><circle cx="-40.2" cy="-44.5" r="0.62" fill="#c8ccd8"/><circle cx="14.9" cy="50.3" r="0.64" fill="#c8ccd8"/><circle cx="10.3" cy="47.5" r="0.59" fill="#ffffff"/><circle cx="6.2" cy="56.5" r="0.81" fill="#ffffff"/><circle cx="-14.9" cy="33.9" r="0.95" fill="#ffffff"/><circle cx="5.2" cy="-28.7" r="0.36" fill="#ffffff"/><circle cx="13.2" cy="14.5" r="0.46" fill="#e8ecf4"/><circle cx="21.2" cy="-37.3" r="0.79" fill="#ffffff"/><circle cx="16.0" cy="49.8" r="0.80" fill="#ffffff"/><circle cx="16.5" cy="51.9" r="0.93" fill="#e8ecf4"/><circle cx="35.1" cy="31.1" r="0.75" fill="#c8ccd8"/><circle cx="60.2" cy="-0.5" r="0.80" fill="#e8ecf4"/><circle cx="10.0" cy="7.9" r="0.56" fill="#c8ccd8"/><circle cx="37.9" cy="-25.7" r="0.38" fill="#ffffff"/><circle cx="17.3" cy="58.0" r="1.04" fill="#c8ccd8"/><circle cx="13.6" cy="9.3" r="0.98" fill="#e8ecf4"/><circle cx="18.1" cy="9.6" r="0.46" fill="#e8ecf4"/><circle cx="-43.1" cy="-4.2" r="0.60" fill="#ffffff"/><circle cx="-8.9" cy="-10.0" r="0.38" fill="#e8ecf4"/><circle cx="-54.4" cy="16.2" r="0.46" fill="#ffffff"/><circle cx="-16.1" cy="-12.4" r="0.79" fill="#e8ecf4"/><circle cx="46.3" cy="-36.7" r="0.70" fill="#c8ccd8"/><circle cx="46.3" cy="-18.5" r="0.38" fill="#c8ccd8"/><circle cx="58.9" cy="-6.4" r="0.40" fill="#ffffff"/><circle cx="-2.0" cy="-58.2" r="0.81" fill="#e8ecf4"/><circle cx="25.4" cy="28.2" r="0.55" fill="#e8ecf4"/><circle cx="6.3" cy="-57.4" r="0.47" fill="#c8ccd8"/><circle cx="23.5" cy="54.1" r="0.41" fill="#ffffff"/><circle cx="39.3" cy="2.6" r="0.64" fill="#c8ccd8"/><circle cx="32.8" cy="10.6" r="1.00" fill="#e8ecf4"/><circle cx="-28.1" cy="45.7" r="0.58" fill="#c8ccd8"/><circle cx="41.9" cy="22.0" r="0.52" fill="#ffffff"/><circle cx="-17.4" cy="-54.9" r="1.02" fill="#ffffff"/><circle cx="16.3" cy="14.3" r="0.39" fill="#e8ecf4"/><circle cx="-12.1" cy="8.6" r="0.38" fill="#e8ecf4"/><circle cx="33.5" cy="2.3" r="0.40" fill="#e8ecf4"/><circle cx="-44.7" cy="-14.6" r="1.00" fill="#c8ccd8"/><circle cx="11.9" cy="-17.1" r="0.49" fill="#c8ccd8"/><circle cx="45.3" cy="23.5" r="0.75" fill="#ffffff"/><circle cx="-48.3" cy="41.9" r="0.45" fill="#ffffff"/><circle cx="29.9" cy="-38.3" r="0.60" fill="#e8ecf4"/><circle cx="40.3" cy="-14.4" r="0.54" fill="#c8ccd8"/><circle cx="-18.4" cy="44.4" r="0.51" fill="#e8ecf4"/><circle cx="-32.6" cy="-13.1" r="0.71" fill="#e8ecf4"/><circle cx="57.2" cy="9.7" r="0.59" fill="#c8ccd8"/><circle cx="31.8" cy="47.7" r="0.46" fill="#e8ecf4"/><circle cx="-0.2" cy="-14.8" r="1.03" fill="#e8ecf4"/><circle cx="56.2" cy="28.0" r="0.48" fill="#e8ecf4"/><circle cx="-0.3" cy="57.4" r="0.35" fill="#ffffff"/><circle cx="51.8" cy="-21.5" r="0.50" fill="#ffffff"/><circle cx="-17.8" cy="-13.6" r="0.62" fill="#e8ecf4"/><circle cx="45.2" cy="41.4" r="0.44" fill="#ffffff"/><circle cx="31.2" cy="30.9" r="0.66" fill="#e8ecf4"/><circle cx="-42.5" cy="-31.3" r="0.68" fill="#e8ecf4"/><circle cx="8.4" cy="-47.3" r="1.05" fill="#e8ecf4"/><circle cx="-3.2" cy="-32.1" r="0.36" fill="#e8ecf4"/><circle cx="11.2" cy="-51.0" r="0.44" fill="#e8ecf4"/><circle cx="-43.3" cy="-35.8" r="0.69" fill="#ffffff"/><circle cx="-38.4" cy="-42.5" r="0.38" fill="#ffffff"/><circle cx="-53.3" cy="-0.7" r="0.38" fill="#c8ccd8"/><circle cx="15.8" cy="4.0" r="0.40" fill="#e8ecf4"/><circle cx="12.7" cy="2.2" r="0.38" fill="#e8ecf4"/><circle cx="17.4" cy="8.5" r="0.67" fill="#c8ccd8"/><circle cx="6.3" cy="65.1" r="0.51" fill="#e8ecf4"/><circle cx="9.5" cy="37.5" r="0.74" fill="#ffffff"/><circle cx="14.2" cy="-41.8" r="0.82" fill="#ffffff"/><circle cx="-53.6" cy="19.5" r="0.46" fill="#ffffff"/><circle cx="-36.3" cy="39.1" r="1.03" fill="#e8ecf4"/><circle cx="-14.6" cy="55.6" r="0.83" fill="#ffffff"/><circle cx="-36.0" cy="17.6" r="0.36" fill="#e8ecf4"/><circle cx="16.7" cy="9.0" r="0.57" fill="#e8ecf4"/><circle cx="17.9" cy="-41.2" r="0.82" fill="#ffffff"/><circle cx="27.1" cy="14.0" r="0.66" fill="#ffffff"/><circle cx="-15.7" cy="-43.7" r="0.76" fill="#e8ecf4"/><circle cx="-5.1" cy="24.4" r="0.44" fill="#c8ccd8"/><circle cx="-29.2" cy="55.6" r="0.42" fill="#e8ecf4"/><circle cx="-57.4" cy="-26.7" r="0.97" fill="#e8ecf4"/><circle cx="-54.7" cy="22.5" r="0.42" fill="#e8ecf4"/><circle cx="11.7" cy="63.9" r="0.72" fill="#c8ccd8"/><circle cx="0.4" cy="39.7" r="0.44" fill="#e8ecf4"/><circle cx="-22.3" cy="-45.3" r="0.79" fill="#c8ccd8"/><circle cx="-54.3" cy="-23.0" r="0.55" fill="#c8ccd8"/><circle cx="-25.6" cy="-10.7" r="0.75" fill="#e8ecf4"/><circle cx="11.8" cy="-28.7" r="0.35" fill="#ffffff"/><circle cx="-59.1" cy="-26.7" r="0.65" fill="#e8ecf4"/><circle cx="44.9" cy="19.1" r="0.78" fill="#ffffff"/><circle cx="-17.5" cy="29.8" r="0.36" fill="#e8ecf4"/><circle cx="45.3" cy="26.7" r="0.36" fill="#c8ccd8"/><circle cx="17.3" cy="-39.2" r="0.71" fill="#e8ecf4"/><circle cx="4.6" cy="-47.4" r="0.76" fill="#e8ecf4"/><circle cx="-35.0" cy="47.9" r="0.43" fill="#ffffff"/><circle cx="-48.3" cy="1.9" r="0.71" fill="#c8ccd8"/><circle cx="-10.5" cy="-9.6" r="0.75" fill="#c8ccd8"/><circle cx="-2.4" cy="3.3" r="0.45" fill="#ffffff"/><circle cx="49.4" cy="-41.6" r="0.64" fill="#c8ccd8"/><circle cx="-4.3" cy="5.1" r="0.36" fill="#e8ecf4"/><circle cx="28.2" cy="-16.6" r="0.37" fill="#c8ccd8"/><circle cx="-19.2" cy="19.0" r="0.38" fill="#e8ecf4"/><circle cx="-34.0" cy="-6.3" r="0.90" fill="#e8ecf4"/><circle cx="-8.0" cy="20.9" r="0.64" fill="#ffffff"/><circle cx="48.8" cy="-30.0" r="0.35" fill="#e8ecf4"/><circle cx="10.6" cy="-6.8" r="0.36" fill="#ffffff"/><circle cx="-32.1" cy="39.1" r="0.60" fill="#e8ecf4"/><circle cx="-25.9" cy="-17.5" r="0.37" fill="#e8ecf4"/><circle cx="-51.5" cy="36.2" r="0.97" fill="#c8ccd8"/><circle cx="-56.9" cy="-17.8" r="0.51" fill="#e8ecf4"/><circle cx="-41.7" cy="4.0" r="0.99" fill="#c8ccd8"/><circle cx="-61.7" cy="-18.9" r="0.51" fill="#ffffff"/><circle cx="-24.8" cy="18.2" r="0.36" fill="#e8ecf4"/><circle cx="58.2" cy="-8.8" r="0.77" fill="#ffffff"/><circle cx="-17.7" cy="-26.9" r="0.35" fill="#e8ecf4"/><circle cx="36.7" cy="-24.8" r="0.39" fill="#e8ecf4"/><circle cx="-20.6" cy="-16.2" r="0.37" fill="#e8ecf4"/><circle cx="38.6" cy="49.6" r="0.81" fill="#ffffff"/><circle cx="-42.9" cy="-49.9" r="0.40" fill="#c8ccd8"/><circle cx="47.2" cy="16.3" r="0.37" fill="#ffffff"/><circle cx="26.3" cy="-54.7" r="0.82" fill="#ffffff"/><circle cx="-30.9" cy="41.5" r="0.55" fill="#e8ecf4"/><circle cx="-6.6" cy="-17.8" r="0.74" fill="#c8ccd8"/><circle cx="22.7" cy="-28.4" r="0.79" fill="#e8ecf4"/><circle cx="19.1" cy="51.1" r="0.78" fill="#e8ecf4"/><circle cx="12.6" cy="47.0" r="0.54" fill="#ffffff"/><circle cx="61.2" cy="-21.3" r="0.42" fill="#e8ecf4"/><circle cx="32.4" cy="16.8" r="0.50" fill="#c8ccd8"/><circle cx="16.4" cy="7.4" r="0.36" fill="#c8ccd8"/><circle cx="-35.3" cy="27.7" r="1.00" fill="#ffffff"/><circle cx="-4.2" cy="-6.0" r="0.45" fill="#c8ccd8"/><circle cx="-35.3" cy="5.5" r="0.36" fill="#ffffff"/><circle cx="37.5" cy="-47.7" r="0.71" fill="#c8ccd8"/><circle cx="30.2" cy="42.7" r="0.97" fill="#c8ccd8"/><circle cx="-11.4" cy="36.6" r="0.46" fill="#c8ccd8"/><circle cx="24.5" cy="14.9" r="0.45" fill="#ffffff"/><circle cx="-30.7" cy="56.3" r="0.57" fill="#c8ccd8"/><circle cx="-28.1" cy="-34.1" r="0.45" fill="#ffffff"/><circle cx="12.8" cy="15.7" r="0.67" fill="#c8ccd8"/><circle cx="12.5" cy="26.2" r="0.35" fill="#e8ecf4"/><circle cx="-16.5" cy="-10.9" r="0.39" fill="#ffffff"/><circle cx="43.3" cy="-3.4" r="0.77" fill="#e8ecf4"/><circle cx="37.9" cy="-20.6" r="0.53" fill="#c8ccd8"/><circle cx="7.0" cy="24.4" r="0.68" fill="#e8ecf4"/><circle cx="-20.7" cy="36.9" r="0.35" fill="#e8ecf4"/><circle cx="-28.2" cy="-24.3" r="0.79" fill="#ffffff"/><circle cx="-27.5" cy="-43.5" r="0.35" fill="#e8ecf4"/><circle cx="13.7" cy="33.9" r="0.49" fill="#c8ccd8"/><circle cx="-33.8" cy="32.8" r="0.79" fill="#ffffff"/><circle cx="-20.1" cy="-16.9" r="0.76" fill="#e8ecf4"/><circle cx="-37.4" cy="-11.7" r="0.53" fill="#ffffff"/><circle cx="-26.2" cy="-13.2" r="0.96" fill="#c8ccd8"/><circle cx="-17.1" cy="-61.5" r="0.58" fill="#ffffff"/><circle cx="-20.5" cy="-21.0" r="0.35" fill="#ffffff"/><circle cx="-42.2" cy="5.9" r="0.43" fill="#ffffff"/><circle cx="35.8" cy="-17.1" r="0.50" fill="#ffffff"/><circle cx="-53.9" cy="16.7" r="0.39" fill="#c8ccd8"/><circle cx="-47.6" cy="-13.3" r="0.57" fill="#e8ecf4"/><circle cx="27.9" cy="49.7" r="0.91" fill="#e8ecf4"/><circle cx="-18.6" cy="-13.8" r="0.83" fill="#e8ecf4"/><circle cx="-15.8" cy="-36.5" r="0.75" fill="#e8ecf4"/><circle cx="13.8" cy="-24.8" r="0.56" fill="#ffffff"/><circle cx="-40.2" cy="11.9" r="0.78" fill="#c8ccd8"/><circle cx="37.1" cy="43.8" r="0.85" fill="#e8ecf4"/><circle cx="-39.6" cy="-35.0" r="0.76" fill="#ffffff"/><circle cx="14.1" cy="42.9" r="0.36" fill="#e8ecf4"/><circle cx="31.0" cy="28.4" r="0.43" fill="#ffffff"/><circle cx="-4.3" cy="49.6" r="0.43" fill="#c8ccd8"/><circle cx="11.9" cy="-54.8" r="0.78" fill="#e8ecf4"/><circle cx="49.5" cy="-12.9" r="0.50" fill="#e8ecf4"/><circle cx="50.2" cy="-38.1" r="0.57" fill="#e8ecf4"/><circle cx="0.5" cy="-46.0" r="1.04" fill="#c8ccd8"/><circle cx="-36.6" cy="23.5" r="0.57" fill="#c8ccd8"/><circle cx="-23.0" cy="41.7" r="0.47" fill="#ffffff"/><circle cx="-6.6" cy="13.9" r="0.72" fill="#e8ecf4"/><circle cx="-5.8" cy="-50.7" r="0.75" fill="#e8ecf4"/><circle cx="45.7" cy="-41.6" r="0.39" fill="#e8ecf4"/><circle cx="3.0" cy="61.6" r="1.01" fill="#e8ecf4"/><circle cx="-16.2" cy="-45.0" r="0.39" fill="#e8ecf4"/><circle cx="-35.4" cy="-53.3" r="0.89" fill="#c8ccd8"/><circle cx="52.7" cy="-11.3" r="0.88" fill="#e8ecf4"/><circle cx="-24.6" cy="-10.5" r="0.65" fill="#e8ecf4"/><circle cx="-57.3" cy="-25.6" r="0.36" fill="#ffffff"/><circle cx="34.5" cy="34.0" r="0.98" fill="#ffffff"/><circle cx="-16.1" cy="54.0" r="0.35" fill="#ffffff"/><circle cx="57.7" cy="23.9" r="0.82" fill="#e8ecf4"/><circle cx="34.7" cy="42.6" r="0.39" fill="#e8ecf4"/><circle cx="61.4" cy="12.2" r="0.42" fill="#e8ecf4"/><circle cx="36.2" cy="45.6" r="0.77" fill="#ffffff"/><circle cx="17.9" cy="58.5" r="0.69" fill="#ffffff"/><circle cx="20.3" cy="56.9" r="0.44" fill="#e8ecf4"/><circle cx="52.3" cy="5.3" r="0.69" fill="#c8ccd8"/><circle cx="15.6" cy="50.1" r="0.38" fill="#ffffff"/><circle cx="-21.4" cy="-29.6" r="0.82" fill="#e8ecf4"/><circle cx="38.0" cy="-40.7" r="0.36" fill="#c8ccd8"/><circle cx="56.1" cy="-15.6" r="0.47" fill="#ffffff"/><circle cx="6.1" cy="36.1" r="0.70" fill="#ffffff"/><circle cx="-6.7" cy="55.6" r="0.53" fill="#e8ecf4"/><circle cx="10.1" cy="-39.0" r="0.66" fill="#ffffff"/><circle cx="-26.7" cy="-16.9" r="0.41" fill="#ffffff"/><circle cx="-17.3" cy="-30.1" r="0.64" fill="#ffffff"/><circle cx="-17.7" cy="4.2" r="0.94" fill="#ffffff"/><circle cx="-13.8" cy="-2.7" r="0.60" fill="#e8ecf4"/><circle cx="-41.8" cy="-10.0" r="0.58" fill="#ffffff"/><circle cx="-12.6" cy="56.0" r="0.39" fill="#e8ecf4"/><circle cx="-1.1" cy="-11.2" r="0.79" fill="#ffffff"/><circle cx="12.1" cy="-0.9" r="0.50" fill="#c8ccd8"/><circle cx="-47.6" cy="42.2" r="0.52" fill="#ffffff"/><circle cx="53.5" cy="22.8" r="0.93" fill="#e8ecf4"/><circle cx="-31.8" cy="-49.0" r="0.54" fill="#c8ccd8"/><circle cx="24.5" cy="-46.5" r="1.03" fill="#c8ccd8"/><circle cx="26.3" cy="-8.3" r="0.78" fill="#ffffff"/><circle cx="33.2" cy="28.2" r="0.66" fill="#c8ccd8"/><circle cx="8.4" cy="-57.9" r="0.79" fill="#ffffff"/><circle cx="-3.0" cy="48.6" r="0.86" fill="#c8ccd8"/><circle cx="-12.4" cy="0.1" r="0.60" fill="#c8ccd8"/><circle cx="41.8" cy="14.3" r="0.89" fill="#e8ecf4"/><circle cx="5.1" cy="7.2" r="0.52" fill="#e8ecf4"/><circle cx="-56.1" cy="-1.3" r="0.86" fill="#ffffff"/><circle cx="56.4" cy="27.7" r="0.58" fill="#c8ccd8"/><circle cx="-49.2" cy="-26.9" r="0.62" fill="#ffffff"/><circle cx="-5.1" cy="12.6" r="0.42" fill="#c8ccd8"/><circle cx="-4.2" cy="-58.2" r="0.76" fill="#e8ecf4"/><circle cx="50.8" cy="31.6" r="0.37" fill="#e8ecf4"/><circle cx="0.5" cy="46.5" r="0.65" fill="#c8ccd8"/><circle cx="3.7" cy="-15.9" r="0.47" fill="#e8ecf4"/><circle cx="-17.6" cy="-52.5" r="0.99" fill="#ffffff"/><circle cx="-57.5" cy="3.8" r="1.03" fill="#ffffff"/><circle cx="-1.6" cy="-47.6" r="1.03" fill="#ffffff"/><circle cx="3.7" cy="62.2" r="0.36" fill="#e8ecf4"/><circle cx="-42.6" cy="-15.6" r="0.96" fill="#ffffff"/><circle cx="-23.8" cy="-50.5" r="1.02" fill="#c8ccd8"/><circle cx="4.2" cy="32.9" r="0.56" fill="#ffffff"/><circle cx="-16.9" cy="9.5" r="0.39" fill="#e8ecf4"/><circle cx="-34.0" cy="55.8" r="0.61" fill="#ffffff"/><circle cx="26.9" cy="42.7" r="1.04" fill="#c8ccd8"/><circle cx="-30.4" cy="45.8" r="0.87" fill="#c8ccd8"/><circle cx="24.7" cy="-12.8" r="0.87" fill="#ffffff"/><circle cx="-42.8" cy="39.6" r="0.38" fill="#e8ecf4"/><circle cx="1.3" cy="58.8" r="0.80" fill="#e8ecf4"/><circle cx="8.8" cy="29.3" r="0.50" fill="#e8ecf4"/><circle cx="-45.5" cy="7.9" r="0.62" fill="#ffffff"/><circle cx="19.4" cy="-22.7" r="0.45" fill="#ffffff"/><circle cx="33.2" cy="10.1" r="0.98" fill="#c8ccd8"/><circle cx="28.0" cy="3.3" r="0.40" fill="#e8ecf4"/><circle cx="-48.5" cy="-21.8" r="0.38" fill="#ffffff"/><circle cx="-16.6" cy="19.8" r="0.96" fill="#e8ecf4"/><circle cx="21.1" cy="24.6" r="0.84" fill="#ffffff"/><circle cx="37.1" cy="4.8" r="0.45" fill="#ffffff"/><circle cx="24.9" cy="-32.3" r="0.40" fill="#c8ccd8"/><circle cx="-17.6" cy="-31.7" r="0.61" fill="#e8ecf4"/><circle cx="24.8" cy="6.5" r="0.60" fill="#ffffff"/><circle cx="10.9" cy="40.9" r="0.51" fill="#c8ccd8"/><circle cx="36.4" cy="41.8" r="0.40" fill="#c8ccd8"/><circle cx="-38.7" cy="12.1" r="0.89" fill="#e8ecf4"/><circle cx="-43.2" cy="-9.6" r="0.36" fill="#c8ccd8"/><circle cx="20.9" cy="-23.4" r="0.41" fill="#e8ecf4"/><circle cx="-18.9" cy="-15.9" r="0.85" fill="#c8ccd8"/><circle cx="-33.9" cy="-36.3" r="0.81" fill="#c8ccd8"/><circle cx="-16.1" cy="51.6" r="0.94" fill="#ffffff"/><circle cx="-36.6" cy="-14.0" r="0.36" fill="#e8ecf4"/><circle cx="5.1" cy="52.2" r="0.36" fill="#e8ecf4"/><circle cx="33.8" cy="31.7" r="0.52" fill="#e8ecf4"/><circle cx="-11.9" cy="54.1" r="0.38" fill="#e8ecf4"/><circle cx="17.2" cy="55.2" r="0.44" fill="#c8ccd8"/><circle cx="1.3" cy="20.1" r="0.43" fill="#e8ecf4"/><circle cx="15.2" cy="-43.0" r="0.40" fill="#c8ccd8"/><circle cx="-22.7" cy="58.9" r="0.92" fill="#ffffff"/><circle cx="-10.9" cy="12.5" r="0.46" fill="#ffffff"/><circle cx="-43.5" cy="42.4" r="0.41" fill="#c8ccd8"/><circle cx="-15.2" cy="29.6" r="0.35" fill="#e8ecf4"/><circle cx="-18.0" cy="36.1" r="0.41" fill="#c8ccd8"/><circle cx="40.1" cy="-34.5" r="0.45" fill="#e8ecf4"/><circle cx="38.1" cy="-11.2" r="0.58" fill="#ffffff"/><circle cx="7.0" cy="-51.8" r="0.62" fill="#e8ecf4"/><circle cx="-12.6" cy="-10.8" r="0.35" fill="#e8ecf4"/>
<circle cx="-52.8" cy="8.5" r="1.50" fill="#ffffff"/><circle cx="-48.5" cy="44.6" r="1.31" fill="#ffffff"/><circle cx="-18.7" cy="-47.7" r="1.38" fill="#ffffff"/><circle cx="39.6" cy="-5.5" r="1.20" fill="#ffffff"/><circle cx="55.7" cy="21.6" r="1.11" fill="#ffffff"/><circle cx="-24.6" cy="-53.6" r="1.11" fill="#ffffff"/><circle cx="22.8" cy="-48.6" r="1.14" fill="#ffffff"/><circle cx="20.9" cy="-7.3" r="1.26" fill="#ffffff"/><circle cx="-60.1" cy="-15.2" r="1.38" fill="#ffffff"/><circle cx="-44.2" cy="-16.0" r="1.11" fill="#ffffff"/><circle cx="-22.2" cy="-39.4" r="1.43" fill="#ffffff"/><circle cx="-12.0" cy="-14.7" r="1.13" fill="#ffffff"/><circle cx="-24.6" cy="31.2" r="1.53" fill="#ffffff"/><circle cx="24.2" cy="21.0" r="1.22" fill="#ffffff"/><circle cx="58.9" cy="10.5" r="1.27" fill="#ffffff"/><circle cx="7.5" cy="42.5" r="1.24" fill="#ffffff"/><circle cx="0.6" cy="-31.0" r="1.11" fill="#ffffff"/><circle cx="33.8" cy="8.0" r="1.21" fill="#ffffff"/><circle cx="-39.9" cy="-3.5" r="1.20" fill="#ffffff"/><circle cx="-63.9" cy="9.6" r="1.31" fill="#ffffff"/><circle cx="-47.7" cy="10.7" r="1.13" fill="#ffffff"/><circle cx="4.6" cy="-2.8" r="1.16" fill="#ffffff"/><circle cx="25.2" cy="53.2" r="1.33" fill="#ffffff"/><circle cx="-48.0" cy="-44.5" r="2.00" fill="#ffffff"/><circle cx="37.1" cy="5.6" r="1.66" fill="#ffffff"/><circle cx="-20.2" cy="-24.3" r="1.35" fill="#ffffff"/>
</g></g>
<clipPath id="sc03"><circle cx="1397.9" cy="1649.2" r="66.2"/></clipPath>
<circle cx="1397.9" cy="1649.2" r="66.2" fill="#2a88c8"/>
<g clip-path="url(#sc03)"><g transform="translate(1397.9,1649.2)">
<rect x="-80" y="-70" width="160" height="140" fill="url(#g_spray)"/></g></g>
<clipPath id="sc13"><circle cx="1541.9" cy="1649.2" r="66.2"/></clipPath>
<circle cx="1541.9" cy="1649.2" r="66.2" fill="#6e9a84"/>
<g clip-path="url(#sc13)"><g transform="translate(1541.9,1649.2)">
<rect x="-70" y="-70" width="140" height="140" fill="url(#g_heat)"/><rect x="42" y="-70" width="8" height="60" fill="#a0c4b4" opacity=".6" filter="url(#b1)"/><path d="M-70,-22 L-58,-31 C-46,-20 -28,4 -12,25 C-34,24 -56,20 -70,8Z" fill="#dfeeea" stroke="#14201c" stroke-width="1.4" stroke-linejoin="round"/><path d="M70,-14 L59,-29 C44,-12 24,8 9,25 C32,24 54,20 70,14Z" fill="#dfeeea" stroke="#14201c" stroke-width="1.4" stroke-linejoin="round"/><ellipse cx="-42" cy="1" rx="5" ry="11.5" fill="#2f383e"/><ellipse cx="42.5" cy="4" rx="4.8" ry="11.5" fill="#2f383e"/></g></g>
<clipPath id="sc23"><circle cx="1686.5" cy="1649.2" r="66.2"/></clipPath>
<circle cx="1686.5" cy="1649.2" r="66.2" fill="#6050a8"/>
<g clip-path="url(#sc23)"><g transform="translate(1686.5,1649.2)">
<rect x="-70" y="-70" width="140" height="140" fill="url(#g_laser)"/><ellipse cx="-30" cy="40" rx="30" ry="18" fill="#8a5aa8" opacity=".6" filter="url(#b4)"/><ellipse cx="30" cy="-40" rx="30" ry="16" fill="#4a4a98" opacity=".6" filter="url(#b4)"/><circle cx="27.9" cy="47.2" r="0.76" fill="#c8b8f0"/><circle cx="36.3" cy="-54.7" r="0.60" fill="#f0c8e8"/><circle cx="-32.1" cy="-1.0" r="0.40" fill="#ffffff"/><circle cx="39.4" cy="-17.7" r="0.42" fill="#f0c8e8"/><circle cx="48.4" cy="-26.0" r="0.57" fill="#c8b8f0"/><circle cx="-9.1" cy="-8.1" r="0.50" fill="#c8b8f0"/><circle cx="-18.3" cy="-49.9" r="1.19" fill="#e8d8f8"/><circle cx="33.6" cy="49.3" r="0.41" fill="#e8d8f8"/><circle cx="-46.9" cy="14.2" r="0.51" fill="#c8b8f0"/><circle cx="31.3" cy="43.8" r="0.60" fill="#f0c8e8"/><circle cx="26.2" cy="13.3" r="0.81" fill="#e8d8f8"/><circle cx="32.7" cy="31.7" r="1.02" fill="#f0c8e8"/><circle cx="-13.7" cy="21.2" r="0.66" fill="#ffffff"/><circle cx="-29.4" cy="33.2" r="0.53" fill="#c8b8f0"/><circle cx="-8.2" cy="7.1" r="0.41" fill="#c8b8f0"/><circle cx="17.5" cy="0.3" r="0.72" fill="#f0c8e8"/><circle cx="-33.6" cy="-16.2" r="1.26" fill="#e8d8f8"/><circle cx="11.5" cy="24.7" r="0.51" fill="#ffffff"/><circle cx="-29.1" cy="41.9" r="0.48" fill="#e8d8f8"/><circle cx="31.0" cy="55.3" r="0.43" fill="#c8b8f0"/><circle cx="-38.5" cy="38.6" r="0.81" fill="#f0c8e8"/><circle cx="-54.8" cy="36.2" r="1.23" fill="#e8d8f8"/><circle cx="34.3" cy="-31.0" r="0.53" fill="#f0c8e8"/><circle cx="30.1" cy="-12.8" r="0.68" fill="#c8b8f0"/><circle cx="19.8" cy="-54.6" r="0.61" fill="#ffffff"/><circle cx="31.7" cy="10.8" r="0.48" fill="#c8b8f0"/><circle cx="0.4" cy="41.5" r="1.08" fill="#f0c8e8"/><circle cx="56.7" cy="-5.9" r="0.61" fill="#ffffff"/><circle cx="34.0" cy="40.9" r="1.15" fill="#c8b8f0"/><circle cx="29.9" cy="5.4" r="1.03" fill="#f0c8e8"/><circle cx="37.6" cy="-34.7" r="0.56" fill="#c8b8f0"/><circle cx="-17.2" cy="45.1" r="0.47" fill="#e8d8f8"/><circle cx="-17.3" cy="15.8" r="0.86" fill="#ffffff"/><circle cx="-44.0" cy="-29.4" r="1.05" fill="#c8b8f0"/><circle cx="-1.9" cy="42.0" r="1.23" fill="#f0c8e8"/><circle cx="13.6" cy="15.1" r="0.41" fill="#e8d8f8"/><circle cx="-36.8" cy="-45.5" r="0.40" fill="#e8d8f8"/><circle cx="-13.2" cy="-19.4" r="0.66" fill="#ffffff"/><circle cx="-49.4" cy="37.7" r="0.75" fill="#f0c8e8"/><circle cx="16.4" cy="37.1" r="0.85" fill="#e8d8f8"/><circle cx="-37.3" cy="-28.5" r="0.90" fill="#e8d8f8"/><circle cx="1.5" cy="-5.6" r="0.59" fill="#e8d8f8"/><circle cx="-39.8" cy="29.7" r="1.06" fill="#f0c8e8"/><circle cx="-1.0" cy="55.1" r="0.49" fill="#e8d8f8"/><circle cx="0.9" cy="26.1" r="0.87" fill="#ffffff"/><circle cx="24.4" cy="-53.9" r="0.62" fill="#e8d8f8"/><circle cx="-15.5" cy="-4.6" r="0.72" fill="#ffffff"/><circle cx="36.0" cy="-7.5" r="0.84" fill="#f0c8e8"/><circle cx="54.9" cy="23.2" r="1.26" fill="#ffffff"/><circle cx="49.1" cy="21.4" r="0.56" fill="#e8d8f8"/><circle cx="-30.3" cy="-42.6" r="0.99" fill="#c8b8f0"/><circle cx="-64.2" cy="-2.0" r="0.82" fill="#c8b8f0"/><circle cx="-46.5" cy="8.6" r="1.09" fill="#e8d8f8"/><circle cx="2.2" cy="14.4" r="0.57" fill="#f0c8e8"/><circle cx="-8.1" cy="50.0" r="0.55" fill="#c8b8f0"/><circle cx="-30.9" cy="8.8" r="0.53" fill="#c8b8f0"/><circle cx="8.8" cy="62.5" r="0.79" fill="#e8d8f8"/><circle cx="-45.9" cy="5.9" r="0.86" fill="#f0c8e8"/><circle cx="9.6" cy="-51.4" r="0.92" fill="#ffffff"/><circle cx="1.9" cy="63.2" r="0.53" fill="#c8b8f0"/><circle cx="29.4" cy="-57.8" r="1.28" fill="#e8d8f8"/><circle cx="15.6" cy="25.2" r="1.09" fill="#f0c8e8"/><circle cx="23.3" cy="14.9" r="0.65" fill="#c8b8f0"/><circle cx="-2.2" cy="-44.8" r="0.41" fill="#f0c8e8"/><circle cx="-8.5" cy="-28.7" r="0.50" fill="#f0c8e8"/><circle cx="-4.4" cy="64.2" r="0.49" fill="#ffffff"/><circle cx="61.1" cy="-22.0" r="1.13" fill="#f0c8e8"/><circle cx="4.0" cy="54.6" r="0.86" fill="#f0c8e8"/><circle cx="42.0" cy="-16.4" r="0.57" fill="#ffffff"/><circle cx="-26.1" cy="-47.2" r="0.75" fill="#e8d8f8"/><circle cx="24.4" cy="59.9" r="0.40" fill="#ffffff"/><circle cx="46.4" cy="5.6" r="0.40" fill="#c8b8f0"/><circle cx="-9.9" cy="-30.8" r="0.40" fill="#f0c8e8"/><circle cx="30.4" cy="20.5" r="0.59" fill="#e8d8f8"/><circle cx="-16.6" cy="17.7" r="0.96" fill="#c8b8f0"/><circle cx="-14.4" cy="-2.7" r="0.43" fill="#c8b8f0"/><circle cx="24.1" cy="-21.9" r="0.70" fill="#c8b8f0"/><circle cx="6.5" cy="-5.9" r="0.70" fill="#e8d8f8"/><circle cx="-55.4" cy="23.6" r="1.28" fill="#f0c8e8"/><circle cx="26.9" cy="38.0" r="0.65" fill="#c8b8f0"/><circle cx="-58.1" cy="10.7" r="0.50" fill="#ffffff"/><circle cx="20.2" cy="29.1" r="0.77" fill="#e8d8f8"/><circle cx="13.6" cy="-11.2" r="0.40" fill="#e8d8f8"/><circle cx="-12.6" cy="-25.9" r="0.47" fill="#e8d8f8"/><circle cx="26.5" cy="43.0" r="0.47" fill="#c8b8f0"/><circle cx="11.6" cy="17.8" r="1.18" fill="#ffffff"/><circle cx="-46.0" cy="29.9" r="0.88" fill="#c8b8f0"/><circle cx="52.9" cy="28.4" r="0.44" fill="#e8d8f8"/><circle cx="-7.2" cy="-50.9" r="0.76" fill="#f0c8e8"/><circle cx="39.7" cy="5.3" r="0.61" fill="#c8b8f0"/><circle cx="21.9" cy="-58.9" r="0.82" fill="#f0c8e8"/><circle cx="-22.3" cy="-48.2" r="0.74" fill="#e8d8f8"/><circle cx="40.5" cy="-7.7" r="1.20" fill="#ffffff"/><circle cx="39.1" cy="2.8" r="0.74" fill="#e8d8f8"/><circle cx="1.9" cy="-53.0" r="0.42" fill="#c8b8f0"/><circle cx="17.7" cy="63.5" r="0.68" fill="#c8b8f0"/><circle cx="-3.9" cy="-61.9" r="0.52" fill="#e8d8f8"/><circle cx="3.2" cy="51.0" r="0.51" fill="#ffffff"/><circle cx="-59.0" cy="-29.1" r="1.15" fill="#e8d8f8"/><circle cx="56.5" cy="-5.6" r="0.90" fill="#f0c8e8"/><circle cx="42.9" cy="-20.9" r="1.12" fill="#ffffff"/><circle cx="23.2" cy="22.6" r="0.56" fill="#c8b8f0"/><circle cx="7.5" cy="-56.7" r="0.78" fill="#ffffff"/><circle cx="24.0" cy="55.0" r="0.44" fill="#c8b8f0"/><circle cx="-4.7" cy="48.2" r="0.59" fill="#e8d8f8"/><circle cx="9.3" cy="-37.1" r="0.57" fill="#ffffff"/><circle cx="-4.8" cy="-56.2" r="1.29" fill="#c8b8f0"/><circle cx="7.5" cy="9.3" r="0.94" fill="#ffffff"/><circle cx="-58.5" cy="-30.5" r="0.43" fill="#f0c8e8"/><circle cx="33.6" cy="-35.8" r="0.93" fill="#e8d8f8"/><circle cx="62.3" cy="10.7" r="0.42" fill="#ffffff"/><circle cx="-40.0" cy="9.9" r="0.76" fill="#e8d8f8"/><circle cx="37.9" cy="-42.8" r="0.53" fill="#ffffff"/><circle cx="-4.4" cy="-44.5" r="0.41" fill="#f0c8e8"/><circle cx="-31.5" cy="-21.5" r="1.05" fill="#ffffff"/><circle cx="0.2" cy="23.8" r="0.91" fill="#ffffff"/><circle cx="41.1" cy="31.6" r="0.78" fill="#f0c8e8"/><circle cx="38.6" cy="43.2" r="0.62" fill="#e8d8f8"/><circle cx="-14.9" cy="-35.2" r="0.78" fill="#ffffff"/><circle cx="60.5" cy="3.5" r="0.47" fill="#ffffff"/><circle cx="-14.0" cy="-40.1" r="0.41" fill="#e8d8f8"/><circle cx="31.8" cy="-0.7" r="0.85" fill="#c8b8f0"/><circle cx="-64.7" cy="-0.3" r="0.53" fill="#e8d8f8"/><circle cx="-26.3" cy="-30.1" r="0.51" fill="#c8b8f0"/><circle cx="-29.3" cy="-33.6" r="0.64" fill="#f0c8e8"/><circle cx="-29.5" cy="11.9" r="1.05" fill="#c8b8f0"/><circle cx="32.2" cy="-48.3" r="1.13" fill="#e8d8f8"/><circle cx="-14.6" cy="21.5" r="0.40" fill="#ffffff"/><circle cx="-17.6" cy="33.5" r="0.44" fill="#e8d8f8"/><circle cx="-28.6" cy="8.0" r="0.40" fill="#f0c8e8"/><circle cx="17.8" cy="-25.4" r="0.41" fill="#e8d8f8"/><circle cx="-16.0" cy="-16.7" r="0.41" fill="#f0c8e8"/><circle cx="-18.7" cy="-4.6" r="0.45" fill="#e8d8f8"/><circle cx="1.4" cy="43.3" r="0.96" fill="#e8d8f8"/><circle cx="-52.2" cy="38.1" r="0.99" fill="#ffffff"/><circle cx="31.9" cy="-28.3" r="0.70" fill="#e8d8f8"/><circle cx="45.0" cy="-36.5" r="0.70" fill="#f0c8e8"/><circle cx="51.3" cy="12.5" r="0.95" fill="#ffffff"/><circle cx="9.2" cy="-55.2" r="0.65" fill="#f0c8e8"/><circle cx="-9.8" cy="39.0" r="0.62" fill="#ffffff"/><circle cx="-45.4" cy="37.9" r="0.40" fill="#ffffff"/><circle cx="-39.7" cy="-23.4" r="1.01" fill="#f0c8e8"/><circle cx="0.6" cy="-25.5" r="0.49" fill="#e8d8f8"/><circle cx="-6.7" cy="53.9" r="1.14" fill="#e8d8f8"/><circle cx="-43.2" cy="43.6" r="0.56" fill="#e8d8f8"/><circle cx="-31.6" cy="-32.7" r="0.68" fill="#ffffff"/><circle cx="-2.2" cy="-14.1" r="0.75" fill="#ffffff"/><circle cx="-53.1" cy="23.0" r="0.40" fill="#f0c8e8"/><circle cx="16.1" cy="26.3" r="0.42" fill="#ffffff"/><circle cx="57.8" cy="4.8" r="1.05" fill="#c8b8f0"/>
<text x="-62" y="17.5" font-size="50" font-weight="bold" fill="#a3a39a" textLength="121" lengthAdjust="spacingAndGlyphs">VIVO</text><path d="M31,6 C34,-4 44,-10 52,-9 C50,-1 42,6 33,8Z" fill="#a3a39a"/><path d="M33,9 C36,1 43,-4 50,-7" stroke="#6452a8" stroke-width="1.4" fill="none"/></g></g>
<text class="sl" x="1337.0" y="1145.0" textLength="101.0" lengthAdjust="spacingAndGlyphs">Rainbow Paint</text>
<text class="sl" x="1480.0" y="1142.5" textLength="112.8" lengthAdjust="spacingAndGlyphs">Powder Coating</text>
<text class="sl" x="1607.8" y="1142.5" textLength="162.0" lengthAdjust="spacingAndGlyphs">Water Transfer Printing</text>
<text class="sl" x="1350.6" y="1345.0" textLength="78.0" lengthAdjust="spacingAndGlyphs">3D Printing</text>
<text class="sl" x="1510.0" y="1345.8" textLength="61.0" lengthAdjust="spacingAndGlyphs">Ice Paint</text>
<text class="sl" x="1651.6" y="1344.2" textLength="83.7" lengthAdjust="spacingAndGlyphs">Electroplate</text>
<text class="sl" x="1349.4" y="1554.8" textLength="79.6" lengthAdjust="spacingAndGlyphs">Silk Screen</text>
<text class="sl" x="1478.0" y="1553.4" textLength="116.7" lengthAdjust="spacingAndGlyphs">Gas dye Printing</text>
<text class="sl" x="1657.8" y="1553.4" textLength="72.8" lengthAdjust="spacingAndGlyphs">Spot Paint</text>
<text class="sl" x="1348.4" y="1755.8" textLength="81.3" lengthAdjust="spacingAndGlyphs">Spray Paint</text>
<text class="sl" x="1457.8" y="1755.8" textLength="153.2" lengthAdjust="spacingAndGlyphs">Heat Transfer Printing</text>
<text class="sl" x="1654.0" y="1755.8" textLength="78.0" lengthAdjust="spacingAndGlyphs">Laser Logo</text>
</g>

<!-- h10_logos.py -->
<g>
<defs>
<linearGradient id="g_red" x1="0" y1="0" x2="1" y2="0"><stop offset="0" stop-color="#7e0e2c"/><stop offset="0.1" stop-color="#a81a40"/><stop offset="0.2" stop-color="#d83c6a"/><stop offset="0.28" stop-color="#e24a78"/><stop offset="0.4" stop-color="#b01a42"/><stop offset="0.55" stop-color="#920a2a"/><stop offset="0.68" stop-color="#a81238"/><stop offset="0.8" stop-color="#d22e5c"/><stop offset="0.88" stop-color="#dc3a66"/><stop offset="1" stop-color="#9c1636"/></linearGradient>
<linearGradient id="g_gray" x1="0" y1="0" x2="1" y2="0"><stop offset="0" stop-color="#b9b9b5"/><stop offset="0.1" stop-color="#d0d0cc"/><stop offset="0.13" stop-color="#f2f2f0"/><stop offset="0.17" stop-color="#cfcfcb"/><stop offset="0.45" stop-color="#d2d2ce"/><stop offset="0.75" stop-color="#bdbdb9"/><stop offset="1" stop-color="#a6a6a2"/></linearGradient>
<linearGradient id="g_brown" x1="0" y1="0" x2="1" y2="1"><stop offset="0" stop-color="#6a4e48"/><stop offset="0.35" stop-color="#7a5e56"/><stop offset="0.5" stop-color="#8e746c"/><stop offset="0.65" stop-color="#755a52"/><stop offset="1" stop-color="#634842"/></linearGradient>
<path id="arcTop" d="M-27.6,-1 A27.6,27.6 0 0 1 27.6,-1"/>
<path id="arcBot" d="M-36.6,1 A36.6,36.6 0 0 0 36.6,1"/>
</defs>
<circle cx="218.1" cy="910.9" r="57.2" fill="#70747e" opacity=".4" filter="url(#b4)"/>
<clipPath id="lgc0"><circle cx="217.1" cy="908.4" r="58.2"/></clipPath>
<circle cx="217.1" cy="908.4" r="58.2" fill="#f1b9c2"/>
<g clip-path="url(#lgc0)"><g transform="translate(217.1,908.4)">
<rect x="-60" y="-60" width="120" height="120" fill="#f1b9c2"/><rect x="-60" y="30" width="120" height="30" fill="#e7a7b2" opacity=".6" filter="url(#b4)"/><path d="M-52,-24 C-48,-30 -44,-28 -46,-20 M-56,2 L-50,2 L-53,14 M-50,26 C-42,22 -40,32 -46,38 M42,-30 C46,-34 50,-30 46,-26 M44,36 C48,32 52,36 48,42" fill="none" stroke="#d88a98" stroke-width="1"/><path d="M50,8 L56,2 L55,10 L58,16 L52,14 L48,20 L48,12Z" fill="#e0446a"/><circle cx="27" cy="47" r="1.5" fill="#d8436a"/><circle cx="0" cy="0" r="44.2" fill="#f7efe8"/><circle cx="0" cy="0" r="42.4" fill="url(#g_brown)"/><circle cx="0" cy="0" r="39.6" fill="none" stroke="#efe6dc" stroke-width="1"/><circle cx="0" cy="-.5" r="23.4" fill="#efe6dc"/><circle cx="0" cy="-.5" r="21.6" fill="#7a5e56"/><circle cx="0" cy="-.5" r="20.4" fill="#dcecea"/><text font-size="12.6" font-weight="bold" fill="#f6efe8" text-anchor="middle" letter-spacing=".9"><textPath href="#arcTop" startOffset="50%">ALL CAFE</textPath></text><text font-size="7.6" font-weight="bold" fill="#f6efe8" text-anchor="middle" letter-spacing=".3"><textPath href="#arcBot" startOffset="50%">ALL TIME GREAT TASTE</textPath></text><path d="M-34,0 l1.4,-2.4 l1.4,2.4 l-1.4,2.4Z M31.2,0 l1.4,-2.4 l1.4,2.4 l-1.4,2.4Z" fill="#f6efe8"/><text x="-13.5" y="3.6" font-size="19" font-weight="bold" fill="#5a5658">A</text><path d="M2.5,3.8 L5,-13.6 L8.6,-13.6 L6.1,3.8Z M8.2,3.8 L10.7,-13.6 L14.3,-13.6 L11.8,3.8Z" fill="#d4444a"/><text x="0" y="14.6" font-size="10.5" font-weight="bold" fill="#5a5658" text-anchor="middle">Café</text><rect x="-60" y="-60" width="120" height="120" fill="#fff" opacity=".0"/></g></g>
<circle cx="359.9" cy="910.9" r="57.2" fill="#70747e" opacity=".4" filter="url(#b4)"/>
<clipPath id="lgc1"><circle cx="358.9" cy="908.4" r="58.2"/></clipPath>
<circle cx="358.9" cy="908.4" r="58.2" fill="#b01a42"/>
<g clip-path="url(#lgc1)"><g transform="translate(358.9,908.4)">
<rect x="-60" y="-60" width="120" height="120" fill="url(#g_red)"/><path d="M-24.0,-18.0 Q-36.2,-12.7 -46.1,-2.5" fill="none" stroke="#f4cfe0" stroke-width="0.8" stroke-linecap="round"/><path d="M-24.0,-18.0 Q-37.9,-15.9 -49.2,-8.3" fill="none" stroke="#f4cfe0" stroke-width="0.8" stroke-linecap="round"/><path d="M-24.0,-18.0 Q-38.7,-19.4 -50.8,-14.6" fill="none" stroke="#f4cfe0" stroke-width="0.8" stroke-linecap="round"/><path d="M-24.0,-18.0 Q-38.7,-23.0 -50.8,-21.1" fill="none" stroke="#f4cfe0" stroke-width="0.8" stroke-linecap="round"/><path d="M-24.0,-18.0 Q-37.9,-26.5 -49.3,-27.5" fill="none" stroke="#f4cfe0" stroke-width="0.8" stroke-linecap="round"/><path d="M-24.0,-18.0 Q-36.2,-29.6 -46.3,-33.3" fill="none" stroke="#f4cfe0" stroke-width="0.8" stroke-linecap="round"/><path d="M-24.0,-18.0 Q-33.9,-32.3 -41.9,-38.2" fill="none" stroke="#f4cfe0" stroke-width="0.8" stroke-linecap="round"/><path d="M-24.0,-18.0 Q-30.9,-34.4 -36.6,-41.9" fill="none" stroke="#f4cfe0" stroke-width="0.8" stroke-linecap="round"/><path d="M-24.0,-18.0 Q-27.6,-35.7 -30.5,-44.2" fill="none" stroke="#f4cfe0" stroke-width="0.8" stroke-linecap="round"/><path d="M-24.0,-18.0 Q-24.0,-36.1 -24.0,-45.0" fill="none" stroke="#f4cfe0" stroke-width="0.8" stroke-linecap="round"/><path d="M-24.0,-18.0 Q-20.4,-35.7 -17.5,-44.2" fill="none" stroke="#f4cfe0" stroke-width="0.8" stroke-linecap="round"/><path d="M-24.0,-18.0 Q-17.1,-34.4 -11.4,-41.9" fill="none" stroke="#f4cfe0" stroke-width="0.8" stroke-linecap="round"/><path d="M-24.0,-18.0 Q-14.1,-32.3 -6.1,-38.2" fill="none" stroke="#f4cfe0" stroke-width="0.8" stroke-linecap="round"/><path d="M-24.0,-18.0 Q-11.8,-29.6 -1.7,-33.3" fill="none" stroke="#f4cfe0" stroke-width="0.8" stroke-linecap="round"/><path d="M-24.0,-18.0 Q-10.1,-26.5 1.3,-27.5" fill="none" stroke="#f4cfe0" stroke-width="0.8" stroke-linecap="round"/><path d="M-24.0,-18.0 Q-9.3,-23.0 2.8,-21.1" fill="none" stroke="#f4cfe0" stroke-width="0.8" stroke-linecap="round"/><path d="M-24.0,-18.0 Q-9.3,-19.4 2.8,-14.6" fill="none" stroke="#f4cfe0" stroke-width="0.8" stroke-linecap="round"/><path d="M-24.0,-18.0 Q-10.1,-15.9 1.2,-8.3" fill="none" stroke="#f4cfe0" stroke-width="0.8" stroke-linecap="round"/><path d="M-24.0,-18.0 Q-11.8,-12.7 -1.9,-2.5" fill="none" stroke="#f4cfe0" stroke-width="0.8" stroke-linecap="round"/><path d="M18.0,27.0 Q5.1,28.7 -5.5,35.6" fill="none" stroke="#f4cfe0" stroke-width="0.8" stroke-linecap="round"/><path d="M18.0,27.0 Q4.3,25.6 -6.8,30.0" fill="none" stroke="#f4cfe0" stroke-width="0.8" stroke-linecap="round"/><path d="M18.0,27.0 Q4.3,22.5 -6.9,24.3" fill="none" stroke="#f4cfe0" stroke-width="0.8" stroke-linecap="round"/><path d="M18.0,27.0 Q5.0,19.4 -5.6,18.7" fill="none" stroke="#f4cfe0" stroke-width="0.8" stroke-linecap="round"/><path d="M18.0,27.0 Q6.4,16.6 -3.1,13.6" fill="none" stroke="#f4cfe0" stroke-width="0.8" stroke-linecap="round"/><path d="M18.0,27.0 Q8.4,14.2 0.5,9.1" fill="none" stroke="#f4cfe0" stroke-width="0.8" stroke-linecap="round"/><path d="M18.0,27.0 Q10.9,12.2 5.0,5.6" fill="none" stroke="#f4cfe0" stroke-width="0.8" stroke-linecap="round"/><path d="M18.0,27.0 Q13.7,10.9 10.2,3.2" fill="none" stroke="#f4cfe0" stroke-width="0.8" stroke-linecap="round"/><path d="M18.0,27.0 Q16.8,10.3 15.8,2.1" fill="none" stroke="#f4cfe0" stroke-width="0.8" stroke-linecap="round"/><path d="M18.0,27.0 Q19.9,10.4 21.5,2.3" fill="none" stroke="#f4cfe0" stroke-width="0.8" stroke-linecap="round"/><path d="M18.0,27.0 Q23.0,11.2 27.1,3.7" fill="none" stroke="#f4cfe0" stroke-width="0.8" stroke-linecap="round"/><path d="M18.0,27.0 Q25.8,12.7 32.1,6.4" fill="none" stroke="#f4cfe0" stroke-width="0.8" stroke-linecap="round"/><path d="M18.0,27.0 Q28.1,14.7 36.4,10.1" fill="none" stroke="#f4cfe0" stroke-width="0.8" stroke-linecap="round"/><path d="M18.0,27.0 Q30.0,17.3 39.8,14.7" fill="none" stroke="#f4cfe0" stroke-width="0.8" stroke-linecap="round"/><path d="M18.0,27.0 Q31.2,20.2 42.0,20.0" fill="none" stroke="#f4cfe0" stroke-width="0.8" stroke-linecap="round"/><path d="M18.0,27.0 Q31.7,23.3 43.0,25.6" fill="none" stroke="#f4cfe0" stroke-width="0.8" stroke-linecap="round"/><path d="M18.0,27.0 Q31.5,26.4 42.6,31.3" fill="none" stroke="#f4cfe0" stroke-width="0.8" stroke-linecap="round"/><path d="M-38.0,22.0 Q-44.0,21.7 -48.8,23.9" fill="none" stroke="#f4cfe0" stroke-width="0.7" stroke-linecap="round"/><path d="M-38.0,22.0 Q-43.8,19.1 -48.6,19.2" fill="none" stroke="#f4cfe0" stroke-width="0.7" stroke-linecap="round"/><path d="M-38.0,22.0 Q-42.6,16.8 -46.4,14.9" fill="none" stroke="#f4cfe0" stroke-width="0.7" stroke-linecap="round"/><path d="M-38.0,22.0 Q-40.6,15.2 -42.6,12.0" fill="none" stroke="#f4cfe0" stroke-width="0.7" stroke-linecap="round"/><path d="M-38.0,22.0 Q-38.0,14.6 -38.0,11.0" fill="none" stroke="#f4cfe0" stroke-width="0.7" stroke-linecap="round"/><path d="M-38.0,22.0 Q-35.4,15.2 -33.4,12.0" fill="none" stroke="#f4cfe0" stroke-width="0.7" stroke-linecap="round"/><path d="M-38.0,22.0 Q-33.4,16.8 -29.6,14.9" fill="none" stroke="#f4cfe0" stroke-width="0.7" stroke-linecap="round"/><path d="M-38.0,22.0 Q-32.2,19.1 -27.4,19.2" fill="none" stroke="#f4cfe0" stroke-width="0.7" stroke-linecap="round"/><path d="M-38.0,22.0 Q-32.0,21.7 -27.2,23.9" fill="none" stroke="#f4cfe0" stroke-width="0.7" stroke-linecap="round"/><ellipse cx="3.9" cy="-25.5" rx="1.1" ry="0.8" fill="#f4cfe0" transform="rotate(-30 3.9 -25.5)"/><ellipse cx="23.3" cy="-41.8" rx="0.6" ry="0.9" fill="#f4cfe0" transform="rotate(-30 23.3 -41.8)"/><ellipse cx="5.0" cy="-36.0" rx="2.0" ry="0.7" fill="#f4cfe0" transform="rotate(-30 5.0 -36.0)"/><ellipse cx="33.8" cy="-27.8" rx="1.5" ry="0.6" fill="#f4cfe0" transform="rotate(-30 33.8 -27.8)"/><ellipse cx="23.7" cy="-14.5" rx="1.3" ry="0.9" fill="#f4cfe0" transform="rotate(-30 23.7 -14.5)"/><ellipse cx="25.6" cy="-41.8" rx="1.7" ry="0.8" fill="#f4cfe0" transform="rotate(-30 25.6 -41.8)"/><ellipse cx="7.1" cy="-42.9" rx="1.8" ry="0.7" fill="#f4cfe0" transform="rotate(-30 7.1 -42.9)"/><ellipse cx="27.9" cy="-14.1" rx="1.6" ry="1.0" fill="#f4cfe0" transform="rotate(-30 27.9 -14.1)"/><ellipse cx="11.7" cy="-16.8" rx="1.2" ry="1.0" fill="#f4cfe0" transform="rotate(-30 11.7 -16.8)"/><ellipse cx="35.9" cy="-40.7" rx="0.8" ry="0.6" fill="#f4cfe0" transform="rotate(-30 35.9 -40.7)"/><ellipse cx="40.3" cy="-29.2" rx="1.5" ry="0.7" fill="#f4cfe0" transform="rotate(-30 40.3 -29.2)"/><ellipse cx="17.4" cy="-30.9" rx="1.1" ry="0.8" fill="#f4cfe0" transform="rotate(-30 17.4 -30.9)"/><ellipse cx="21.2" cy="-13.3" rx="1.6" ry="1.0" fill="#f4cfe0" transform="rotate(-30 21.2 -13.3)"/><ellipse cx="34.8" cy="-10.3" rx="1.5" ry="0.6" fill="#f4cfe0" transform="rotate(-30 34.8 -10.3)"/><ellipse cx="35.0" cy="-11.2" rx="1.9" ry="0.8" fill="#f4cfe0" transform="rotate(-30 35.0 -11.2)"/><ellipse cx="27.7" cy="-36.8" rx="1.8" ry="0.8" fill="#f4cfe0" transform="rotate(-30 27.7 -36.8)"/><ellipse cx="6.2" cy="-41.8" rx="1.8" ry="1.0" fill="#f4cfe0" transform="rotate(-30 6.2 -41.8)"/><ellipse cx="-3.6" cy="-16.8" rx="1.2" ry="0.6" fill="#f4cfe0" transform="rotate(-30 -3.6 -16.8)"/><ellipse cx="6.7" cy="-17.9" rx="1.8" ry="0.5" fill="#f4cfe0" transform="rotate(-30 6.7 -17.9)"/><ellipse cx="22.7" cy="-42.5" rx="1.6" ry="0.7" fill="#f4cfe0" transform="rotate(-30 22.7 -42.5)"/><ellipse cx="36.0" cy="-10.7" rx="1.3" ry="1.0" fill="#f4cfe0" transform="rotate(-30 36.0 -10.7)"/><ellipse cx="7.5" cy="-41.4" rx="1.4" ry="0.5" fill="#f4cfe0" transform="rotate(-30 7.5 -41.4)"/><ellipse cx="1.9" cy="-30.1" rx="1.5" ry="0.6" fill="#f4cfe0" transform="rotate(-30 1.9 -30.1)"/><ellipse cx="-5.9" cy="-14.5" rx="1.0" ry="1.0" fill="#f4cfe0" transform="rotate(-30 -5.9 -14.5)"/><ellipse cx="36.8" cy="-31.2" rx="1.2" ry="0.8" fill="#f4cfe0" transform="rotate(-30 36.8 -31.2)"/><ellipse cx="24.2" cy="-23.7" rx="1.4" ry="0.8" fill="#f4cfe0" transform="rotate(-30 24.2 -23.7)"/><ellipse cx="39.0" cy="-26.8" rx="1.2" ry="0.9" fill="#f4cfe0" transform="rotate(-30 39.0 -26.8)"/><ellipse cx="3.9" cy="-33.8" rx="2.0" ry="0.8" fill="#f4cfe0" transform="rotate(-30 3.9 -33.8)"/><ellipse cx="19.4" cy="-43.6" rx="1.2" ry="0.8" fill="#f4cfe0" transform="rotate(-30 19.4 -43.6)"/><ellipse cx="-7.0" cy="-23.1" rx="1.5" ry="0.5" fill="#f4cfe0" transform="rotate(-30 -7.0 -23.1)"/><ellipse cx="23.4" cy="-28.1" rx="1.6" ry="0.7" fill="#f4cfe0" transform="rotate(-30 23.4 -28.1)"/><ellipse cx="27.3" cy="-18.9" rx="0.6" ry="0.5" fill="#f4cfe0" transform="rotate(-30 27.3 -18.9)"/><ellipse cx="25.8" cy="-11.2" rx="1.0" ry="0.7" fill="#f4cfe0" transform="rotate(-30 25.8 -11.2)"/><ellipse cx="21.6" cy="-33.1" rx="1.1" ry="0.7" fill="#f4cfe0" transform="rotate(-30 21.6 -33.1)"/><ellipse cx="10.5" cy="-23.7" rx="1.0" ry="0.7" fill="#f4cfe0" transform="rotate(-30 10.5 -23.7)"/><ellipse cx="30.6" cy="-43.1" rx="1.4" ry="0.9" fill="#f4cfe0" transform="rotate(-30 30.6 -43.1)"/><ellipse cx="7.5" cy="-36.4" rx="1.7" ry="0.6" fill="#f4cfe0" transform="rotate(-30 7.5 -36.4)"/><ellipse cx="1.4" cy="-29.2" rx="1.6" ry="0.6" fill="#f4cfe0" transform="rotate(-30 1.4 -29.2)"/><ellipse cx="8.1" cy="-32.7" rx="1.8" ry="0.7" fill="#f4cfe0" transform="rotate(-30 8.1 -32.7)"/><ellipse cx="34.8" cy="-38.2" rx="1.1" ry="0.8" fill="#f4cfe0" transform="rotate(-30 34.8 -38.2)"/><ellipse cx="36.2" cy="-28.7" rx="0.9" ry="0.6" fill="#f4cfe0" transform="rotate(-30 36.2 -28.7)"/><ellipse cx="18.5" cy="-37.5" rx="1.7" ry="0.9" fill="#f4cfe0" transform="rotate(-30 18.5 -37.5)"/><ellipse cx="1.2" cy="-34.5" rx="1.7" ry="0.8" fill="#f4cfe0" transform="rotate(-30 1.2 -34.5)"/><ellipse cx="32.3" cy="-32.3" rx="0.8" ry="0.6" fill="#f4cfe0" transform="rotate(-30 32.3 -32.3)"/><ellipse cx="31.7" cy="-34.8" rx="1.1" ry="0.7" fill="#f4cfe0" transform="rotate(-30 31.7 -34.8)"/><ellipse cx="13.0" cy="-30.1" rx="1.9" ry="0.6" fill="#f4cfe0" transform="rotate(-30 13.0 -30.1)"/><ellipse cx="-7.8" cy="-11.9" rx="1.8" ry="1.0" fill="#f4cfe0" transform="rotate(-30 -7.8 -11.9)"/><ellipse cx="13.7" cy="-11.7" rx="1.9" ry="0.6" fill="#f4cfe0" transform="rotate(-30 13.7 -11.7)"/><ellipse cx="29.3" cy="-15.6" rx="1.5" ry="0.8" fill="#f4cfe0" transform="rotate(-30 29.3 -15.6)"/><ellipse cx="6.5" cy="-32.4" rx="0.9" ry="0.5" fill="#f4cfe0" transform="rotate(-30 6.5 -32.4)"/><ellipse cx="21.4" cy="-34.2" rx="1.7" ry="0.5" fill="#f4cfe0" transform="rotate(-30 21.4 -34.2)"/><ellipse cx="37.2" cy="-20.4" rx="1.9" ry="0.9" fill="#f4cfe0" transform="rotate(-30 37.2 -20.4)"/><ellipse cx="37.0" cy="-24.4" rx="0.6" ry="0.9" fill="#f4cfe0" transform="rotate(-30 37.0 -24.4)"/><ellipse cx="0.6" cy="-33.8" rx="1.5" ry="0.8" fill="#f4cfe0" transform="rotate(-30 0.6 -33.8)"/><ellipse cx="12.7" cy="-12.1" rx="1.5" ry="0.7" fill="#f4cfe0" transform="rotate(-30 12.7 -12.1)"/><ellipse cx="4.6" cy="-14.7" rx="1.3" ry="0.9" fill="#f4cfe0" transform="rotate(-30 4.6 -14.7)"/><ellipse cx="9.6" cy="-37.3" rx="1.3" ry="0.9" fill="#f4cfe0" transform="rotate(-30 9.6 -37.3)"/><ellipse cx="0.6" cy="-17.1" rx="1.9" ry="0.9" fill="#f4cfe0" transform="rotate(-30 0.6 -17.1)"/><ellipse cx="33.2" cy="-43.7" rx="1.5" ry="0.9" fill="#f4cfe0" transform="rotate(-30 33.2 -43.7)"/><ellipse cx="-5.5" cy="-34.8" rx="1.0" ry="0.8" fill="#f4cfe0" transform="rotate(-30 -5.5 -34.8)"/><ellipse cx="13.1" cy="-27.9" rx="1.7" ry="0.5" fill="#f4cfe0" transform="rotate(-30 13.1 -27.9)"/><ellipse cx="-5.3" cy="-39.7" rx="0.8" ry="0.5" fill="#f4cfe0" transform="rotate(-30 -5.3 -39.7)"/><ellipse cx="40.7" cy="-14.9" rx="0.7" ry="0.8" fill="#f4cfe0" transform="rotate(-30 40.7 -14.9)"/><ellipse cx="7.8" cy="-33.3" rx="1.1" ry="0.8" fill="#f4cfe0" transform="rotate(-30 7.8 -33.3)"/><ellipse cx="21.3" cy="-31.7" rx="0.9" ry="0.7" fill="#f4cfe0" transform="rotate(-30 21.3 -31.7)"/><ellipse cx="-1.8" cy="-25.1" rx="1.6" ry="0.7" fill="#f4cfe0" transform="rotate(-30 -1.8 -25.1)"/><ellipse cx="-4.0" cy="-37.9" rx="1.1" ry="0.8" fill="#f4cfe0" transform="rotate(-30 -4.0 -37.9)"/><ellipse cx="31.1" cy="-31.1" rx="1.7" ry="0.8" fill="#f4cfe0" transform="rotate(-30 31.1 -31.1)"/><ellipse cx="13.6" cy="-31.3" rx="1.3" ry="0.9" fill="#f4cfe0" transform="rotate(-30 13.6 -31.3)"/><ellipse cx="13.0" cy="-20.4" rx="1.2" ry="0.6" fill="#f4cfe0" transform="rotate(-30 13.0 -20.4)"/><circle cx="-29.8" cy="20.1" r="0.4" fill="#f4cfe0"/><circle cx="-33.6" cy="13.1" r="0.8" fill="#f4cfe0"/><circle cx="-16.2" cy="11.7" r="0.8" fill="#f4cfe0"/><circle cx="-21.1" cy="8.8" r="0.6" fill="#f4cfe0"/><circle cx="-43.8" cy="23.1" r="0.7" fill="#f4cfe0"/><circle cx="-17.8" cy="22.6" r="0.7" fill="#f4cfe0"/><circle cx="-23.1" cy="16.7" r="0.5" fill="#f4cfe0"/><circle cx="-28.0" cy="2.1" r="0.5" fill="#f4cfe0"/><circle cx="-21.7" cy="3.2" r="0.4" fill="#f4cfe0"/><circle cx="-44.6" cy="24.9" r="0.5" fill="#f4cfe0"/><circle cx="-47.2" cy="23.9" r="0.5" fill="#f4cfe0"/><circle cx="-19.3" cy="19.5" r="0.8" fill="#f4cfe0"/><circle cx="-15.6" cy="17.1" r="0.8" fill="#f4cfe0"/><circle cx="-46.8" cy="22.0" r="0.7" fill="#f4cfe0"/><circle cx="-23.7" cy="4.8" r="0.8" fill="#f4cfe0"/><circle cx="-16.2" cy="3.6" r="0.6" fill="#f4cfe0"/><circle cx="-28.8" cy="23.5" r="0.5" fill="#f4cfe0"/><circle cx="-41.9" cy="8.5" r="0.7" fill="#f4cfe0"/><circle cx="-22.4" cy="12.2" r="0.6" fill="#f4cfe0"/><circle cx="-34.5" cy="11.1" r="0.6" fill="#f4cfe0"/><circle cx="-45.2" cy="15.0" r="0.9" fill="#f4cfe0"/><circle cx="-34.0" cy="21.4" r="0.5" fill="#f4cfe0"/><circle cx="-24.5" cy="21.7" r="0.7" fill="#f4cfe0"/><circle cx="-30.4" cy="14.6" r="0.7" fill="#f4cfe0"/><circle cx="-17.5" cy="5.9" r="0.4" fill="#f4cfe0"/><circle cx="-22.6" cy="25.8" r="0.7" fill="#f4cfe0"/><circle cx="-32.9" cy="20.7" r="0.5" fill="#f4cfe0"/><circle cx="-38.9" cy="7.2" r="0.7" fill="#f4cfe0"/><circle cx="-37.3" cy="8.0" r="0.7" fill="#f4cfe0"/><circle cx="-15.6" cy="9.7" r="0.8" fill="#f4cfe0"/><circle cx="-34.0" cy="24.2" r="0.7" fill="#f4cfe0"/><circle cx="-38.9" cy="7.7" r="0.4" fill="#f4cfe0"/><circle cx="-31.7" cy="12.0" r="0.5" fill="#f4cfe0"/><circle cx="-35.7" cy="10.4" r="0.8" fill="#f4cfe0"/><circle cx="2.3" cy="27.8" r="0.6" fill="#f4cfe0"/><circle cx="22.4" cy="16.3" r="0.8" fill="#f4cfe0"/><circle cx="32.2" cy="18.3" r="0.6" fill="#f4cfe0"/><circle cx="27.7" cy="24.8" r="0.6" fill="#f4cfe0"/><circle cx="28.3" cy="27.1" r="0.6" fill="#f4cfe0"/><circle cx="6.1" cy="11.2" r="0.8" fill="#f4cfe0"/><circle cx="25.7" cy="27.1" r="0.8" fill="#f4cfe0"/><circle cx="6.7" cy="10.2" r="0.5" fill="#f4cfe0"/><circle cx="4.2" cy="21.5" r="0.8" fill="#f4cfe0"/><circle cx="35.6" cy="11.6" r="0.8" fill="#f4cfe0"/><circle cx="9.8" cy="15.3" r="0.8" fill="#f4cfe0"/><circle cx="-0.2" cy="8.0" r="0.8" fill="#f4cfe0"/><circle cx="8.8" cy="13.8" r="0.7" fill="#f4cfe0"/><circle cx="25.7" cy="6.2" r="0.6" fill="#f4cfe0"/><circle cx="15.2" cy="16.7" r="0.5" fill="#f4cfe0"/><circle cx="21.7" cy="27.0" r="0.6" fill="#f4cfe0"/><circle cx="20.0" cy="8.6" r="0.5" fill="#f4cfe0"/><circle cx="25.3" cy="8.5" r="0.8" fill="#f4cfe0"/><circle cx="36.0" cy="8.1" r="0.9" fill="#f4cfe0"/><circle cx="12.5" cy="23.0" r="0.8" fill="#f4cfe0"/><circle cx="9.0" cy="20.9" r="0.7" fill="#f4cfe0"/><circle cx="31.5" cy="11.8" r="0.8" fill="#f4cfe0"/><circle cx="38.3" cy="20.8" r="0.7" fill="#f4cfe0"/><circle cx="1.0" cy="16.9" r="0.6" fill="#f4cfe0"/><circle cx="27.6" cy="20.9" r="0.7" fill="#f4cfe0"/><circle cx="4.0" cy="20.2" r="0.7" fill="#f4cfe0"/><path d="M25,-20 l1.2,-3 l1.2,3 l3,.3 l-2.3,2 l.8,3 l-2.7,-1.7 l-2.7,1.7 l.8,-3 l-2.3,-2Z" fill="#f4cfe0"/><path d="M-33,19 l1,-2.4 l1,2.4 l2.4,.2 l-1.9,1.6 l.7,2.4 l-2.2,-1.4 l-2.2,1.4 l.7,-2.4 l-1.9,-1.6Z" fill="#f4cfe0"/><circle cx="-30" cy="43" r="2.6" fill="#d9d2f0"/><circle cx="-24" cy="46" r="2.6" fill="#d9d2f0"/><circle cx="-18" cy="44" r="2.6" fill="#d9d2f0"/><circle cx="-12" cy="47" r="2.6" fill="#d9d2f0"/><circle cx="-6" cy="45" r="2.6" fill="#d9d2f0"/><circle cx="2" cy="48" r="2.6" fill="#d9d2f0"/><circle cx="8" cy="45" r="2.6" fill="#d9d2f0"/><circle cx="14" cy="47" r="2.6" fill="#d9d2f0"/><circle cx="-21" cy="50" r="2.6" fill="#d9d2f0"/><circle cx="-9" cy="51" r="2.6" fill="#d9d2f0"/><path d="M6,46 L10,30 L13,46 M16,47 L12,30 M20,46 L14,31 M24,48 L16,32 M30,49 L19,34" stroke="#e8dcf2" stroke-width="1.4" fill="none"/><text x="-52.5" y="3" font-size="10.6" font-weight="bold" fill="#f6dde8" textLength="33" lengthAdjust="spacingAndGlyphs">C<tspan font-size="8.2">IAO</tspan></text><text x="-16.5" y="3" font-size="10.6" font-weight="bold" fill="#fbe9f0" textLength="56" lengthAdjust="spacingAndGlyphs">O<tspan font-size="8.2">MEGNA</tspan></text></g></g>
<circle cx="502.1" cy="910.9" r="57.2" fill="#70747e" opacity=".4" filter="url(#b4)"/>
<clipPath id="lgc2"><circle cx="501.1" cy="908.4" r="58.2"/></clipPath>
<circle cx="501.1" cy="908.4" r="58.2" fill="#c9c9c5"/>
<g clip-path="url(#lgc2)"><g transform="translate(501.1,908.4)">
<rect x="-60" y="-60" width="120" height="120" fill="url(#g_gray)"/><path d="M-42,-13 L-42,5 L-30,14 L-17,5 L-17,-13 L-22,-13 L-22,2 L-30,8 L-37,2 L-37,-13Z" fill="#a9a4a4"/><path d="M-33.5,-20 L-30,-24 L-26.5,-20 L-26.5,1 L-30,4 L-33.5,1Z" fill="#aaa5a5"/><text x="-15" y="13.4" font-size="34" font-weight="bold" fill="#3b3a38" textLength="57" lengthAdjust="spacingAndGlyphs">BYBlvd</text><text x="-43" y="21.6" font-size="7.8" font-weight="bold" fill="#3f3e3c" textLength="84" lengthAdjust="spacingAndGlyphs" style="font-family:'Liberation Serif',serif" transform="rotate(-1.2)">ENTERTAINMENT</text></g></g>
<circle cx="644.6" cy="910.9" r="57.2" fill="#70747e" opacity=".4" filter="url(#b4)"/>
<clipPath id="lgc3"><circle cx="643.6" cy="908.4" r="58.2"/></clipPath>
<circle cx="643.6" cy="908.4" r="58.2" fill="#e7e98e"/>
<g clip-path="url(#lgc3)"><g transform="translate(643.6,908.4)">
<rect x="-60" y="-60" width="120" height="120" fill="#e7e98e"/><ellipse cx="10" cy="-6" rx="26" ry="34" fill="#f1f2b0" opacity=".7" filter="url(#b4)"/><polygon points="-4.6,-4.0 -10.2,2.3 -8.0,10.8 -15.7,13.6 -17.3,22.2 -25.3,20.8 -30.5,27.6 -37.0,22.3 -44.4,25.7 -47.9,17.8 -56.0,17.1 -55.7,8.3 -62.5,3.6 -58.5,-4.0 -62.5,-11.6 -55.7,-16.3 -56.0,-25.1 -47.9,-25.8 -44.4,-33.7 -37.0,-30.3 -30.5,-35.6 -25.3,-28.8 -17.3,-30.2 -15.7,-21.6 -8.0,-18.8 -10.2,-10.3" fill="#7fd9c6" stroke="#2a3030" stroke-width=".6" transform="rotate(-20 -34 -4)"/><polygon points="63.4,-4.0 57.8,2.3 60.0,10.8 52.3,13.6 50.7,22.2 42.7,20.8 37.5,27.6 31.0,22.3 23.6,25.7 20.1,17.8 12.0,17.1 12.3,8.3 5.5,3.6 9.5,-4.0 5.5,-11.6 12.3,-16.3 12.0,-25.1 20.1,-25.8 23.6,-33.7 31.0,-30.3 37.5,-35.6 42.7,-28.8 50.7,-30.2 52.3,-21.6 60.0,-18.8 57.8,-10.3" fill="#e8625e" stroke="#2a3030" stroke-width=".6" transform="rotate(20 34 -4)"/><g transform="translate(-34,-6) rotate(-8) scale(1.14)"><path d="M-18,-14 C-6,-20 14,-14 18,-4 C20,6 8,20 -4,22 C-14,22 -20,10 -20,-2 C-20,-8 -20,-12 -18,-14Z" fill="#3b5b68" stroke="#fbfbf4" stroke-width="2.2"/><path d="M-8,-6 L0,-12 L8,-6 L0,10Z" fill="#f062be"/><path d="M-8,-6 L8,-6 M-3,-6 L0,-12 L3,-6 L0,10" stroke="#fbd0ee" stroke-width=".6" fill="none"/></g><g transform="translate(34,-6) scale(-1.14,1.14) rotate(-8)"><path d="M-18,-14 C-6,-20 14,-14 18,-4 C20,6 8,20 -4,22 C-14,22 -20,10 -20,-2 C-20,-8 -20,-12 -18,-14Z" fill="#3b5b68" stroke="#fbfbf4" stroke-width="2.2"/><path d="M-8,-6 L0,-12 L8,-6 L0,10Z" fill="#4fd23e"/><path d="M-8,-6 L8,-6 M-3,-6 L0,-12 L3,-6 L0,10" stroke="#c8f4b8" stroke-width=".6" fill="none"/></g><path d="M2,4 C12,22 24,40 22,54 C20,64 -14,64 -16,54 C-18,40 -6,22 2,4Z" fill="#f3d0d0" stroke="#2a3030" stroke-width=".6"/><path d="M2,12 C10,28 18,42 17,52 C15,60 -9,60 -11,52 C-12,42 -4,28 2,12Z" fill="#3b5b68" stroke="#fbfbf4" stroke-width="1.6"/><path d="M2,50 C-6,42 -4,32 0,32 C2,32 2,35 2,36 C2,35 3,32 5,32 C9,32 10,42 2,50Z" fill="#f25c8e"/><path d="M-14,-50 C-6,-52 -2,-46 2,-40 C6,-48 12,-52 22,-52 C12,-46 6,-38 2,-28 C-2,-38 -6,-46 -14,-50Z" fill="#c9aee2" stroke="#2a3030" stroke-width=".6"/><path d="M-16,-42 c-4,-4 -3,-8 -1,-8 c1,0 1,1 1,2 c0,-1 0,-2 1,-2 c2,0 3,4 -1,8Z" fill="#f0668a" transform="scale(1.3) translate(3.68,9.66)"/><path d="M20,-42 c-4,-4 -3,-8 -1,-8 c1,0 1,1 1,2 c0,-1 0,-2 1,-2 c2,0 3,4 -1,8Z" fill="#f0668a" transform="scale(1.3) translate(-4.6000000000000005,9.66)"/><path d="M-28,-56 C-22,-60 -14,-58 -10,-54 C-18,-52 -24,-52 -28,-56Z" fill="#78c88a" stroke="#2a3030" stroke-width=".5"/><ellipse cx="-38" cy="40" rx="4.6" ry="2.6" fill="#78c88a" stroke="#2a3030" stroke-width=".5" transform="rotate(30 -38 40)"/><ellipse cx="-30" cy="46" rx="4.6" ry="2.6" fill="#78c88a" stroke="#2a3030" stroke-width=".5" transform="rotate(10 -30 46)"/><ellipse cx="34" cy="36" rx="4.6" ry="2.6" fill="#78c88a" stroke="#2a3030" stroke-width=".5" transform="rotate(-30 34 36)"/><ellipse cx="42" cy="42" rx="4.6" ry="2.6" fill="#78c88a" stroke="#2a3030" stroke-width=".5" transform="rotate(-10 42 42)"/><ellipse cx="38" cy="50" rx="4.6" ry="2.6" fill="#78c88a" stroke="#2a3030" stroke-width=".5" transform="rotate(-40 38 50)"/><path d="M-46,46 C-40,44 -34,42 -28,42 M30,30 C34,38 38,46 44,54" stroke="#2a3030" stroke-width=".6" fill="none"/><circle cx="0" cy="0" r="59" fill="none" stroke="#8c9060" stroke-width="5" opacity=".3" filter="url(#b2)"/></g></g>
<text class="ll" x="215.5" y="992.6">UV</text><text class="ll" x="215.5" y="1016.8">Printing</text>
<text class="ll" x="358.0" y="992.6">Silk</text><text class="ll" x="358.0" y="1016.8">printing</text>
<text class="ll" x="500.5" y="992.6">Laser</text><text class="ll" x="500.5" y="1016.8">engrave</text>
<text class="ll" x="643.0" y="992.6">Paint</text><text class="ll" x="643.0" y="1016.8">transfer</text>
</g>

<!-- i10_packing.py -->
<g>
<defs>
<linearGradient id="wbf" x1="0" x2="1" y1="0" y2="1"><stop offset="0" stop-color="#fbfbfd"/><stop offset="1" stop-color="#f4f5f8"/></linearGradient>
<linearGradient id="wbs" x1="0" x2="1"><stop offset="0" stop-color="#e7e9ee"/><stop offset="1" stop-color="#eff0f4"/></linearGradient>
</defs>
<polygon points="225,1692.8 259.1,1721.2 379.7,1702.9 379.7,1690 259,1700" fill="#c9ccd4" opacity=".5" filter="url(#b4)"/>
<polygon points="225,1431.9 259.1,1446.1 259.1,1721.2 225,1692.8" fill="url(#wbs)"/>
<polygon points="259.1,1446.1 375.6,1434.3 379.7,1702.9 259.1,1721.2" fill="url(#wbf)"/>
<polygon points="225,1431.9 343.2,1421.1 375.6,1434.3 259.1,1446.1" fill="#ffffff"/>
<path d="M259.1,1446.1 L259.1,1721.2" stroke="#ffffff" stroke-width="1.2"/>
<path d="M225,1431.9 L259.1,1446.1 L375.6,1434.3" stroke="#e4e6ea" stroke-width=".8" fill="none"/>
<polygon points="630.3,1466.6 696.9,1466.6 701.6,1526.2 623.8,1526.2" fill="#060606"/>
<rect x="658.6" y="1477.6" width="30" height="10.6" fill="none" stroke="#6a6a6a" stroke-width=".5"/>
<text x="673.6" y="1484.6" font-size="3.6" font-weight="bold" fill="#c8c8c8" text-anchor="middle">PAN-TUM-30</text>
<rect x="636" y="1506.4" width="45.6" height="9" rx="1" fill="none" stroke="#6a6a6a" stroke-width=".5"/>
<rect x="642.0" y="1508.6" width="29.1" height="0.6" fill="#8c8c8c"/><rect x="642.0" y="1510.6" width="27.9" height="0.6" fill="#8c8c8c"/><rect x="642.0" y="1512.6" width="30.6" height="0.6" fill="#8c8c8c"/>
<rect x="468.1" y="1526.2" width="154.8" height="178.5" fill="#060606"/>
<circle cx="491.6" cy="1540" r="6.2" fill="none" stroke="#e8e8e8" stroke-width=".9"/><rect x="489.8" y="1537.0" width="3.6" height="6" fill="#d8d8d8"/><rect x="485.6" y="1549.6" width="12" height=".8" fill="#9a9a9a"/>
<circle cx="521" cy="1540" r="6.2" fill="none" stroke="#e8e8e8" stroke-width=".9"/><rect x="519.2" y="1537.0" width="3.6" height="6" fill="#d8d8d8"/><rect x="515.0" y="1549.6" width="12" height=".8" fill="#9a9a9a"/>
<circle cx="491.6" cy="1561.3" r="6.2" fill="none" stroke="#e8e8e8" stroke-width=".9"/><rect x="489.8" y="1558.3" width="3.6" height="6" fill="#d8d8d8"/><rect x="485.6" y="1570.9" width="12" height=".8" fill="#9a9a9a"/>
<circle cx="521" cy="1561.3" r="6.2" fill="none" stroke="#e8e8e8" stroke-width=".9"/><rect x="519.2" y="1558.3" width="3.6" height="6" fill="#d8d8d8"/><rect x="515.0" y="1570.9" width="12" height=".8" fill="#9a9a9a"/>
<circle cx="491.6" cy="1585" r="6.2" fill="none" stroke="#e8e8e8" stroke-width=".9"/><rect x="489.8" y="1582.0" width="3.6" height="6" fill="#d8d8d8"/><rect x="485.6" y="1594.6" width="12" height=".8" fill="#9a9a9a"/>
<circle cx="521" cy="1585" r="6.2" fill="none" stroke="#e8e8e8" stroke-width=".9"/><rect x="519.2" y="1582.0" width="3.6" height="6" fill="#d8d8d8"/><rect x="515.0" y="1594.6" width="12" height=".8" fill="#9a9a9a"/>
<text x="560" y="1551" font-size="9.6" font-weight="bold" fill="#f2f2f2" textLength="48.6" lengthAdjust="spacingAndGlyphs">Pandaria</text>
<path d="M561.9,1566.1 L565.0,1607.8 C565.5,1614.2 570.1,1614.2 570.6,1619.8 L572.4,1648.5 C572.6,1653.1 574.7,1654.0 577.7,1654.0 L594.1,1654.0 C597.1,1654.0 599.2,1653.1 599.4,1648.5 L601.2,1619.8 C601.7,1614.2 606.3,1614.2 606.8,1607.8 L609.9,1566.1 Z " fill="#101010" stroke="#e8e8e8" stroke-width=".9"/>
<path d="M591.0,1570.8 L606.3,1570.8 L603.8,1607.8 L594.1,1611.5 Z" fill="#e6e6e6" opacity=".72"/>
<path d="M565.5,1572.6 L571.6,1572.6 L572.6,1607.8 L567.0,1607.8 Z" fill="#d8d8d8" opacity=".45"/>
<path d="M589.0,1620.7 L598.6,1620.7 L597.1,1635.5 L590.0,1635.5 Z" fill="#dcdcdc" opacity=".55"/>
<path d="M598.1,1633.7 L619.0,1622.5 L621.6,1635.5 L597.1,1651.2 Z" fill="#bdbdbd" opacity=".3"/>
<ellipse cx="585.1" cy="1564.7" rx="24.5" ry="3.2" fill="#1a1a1a" stroke="#f0f0f0" stroke-width="1"/>
<ellipse cx="585.9" cy="1564.5" rx="17.3" ry="1.5" fill="#e6e6e6"/>
<text x="583.9" y="1642.4" font-size="6.9" font-weight="bold" fill="#f4f4f4" text-anchor="middle">Pandaria</text>
<rect x="473.8" y="1602.6" width="24" height="1.6" fill="#d8d8d8"/><rect x="473.8" y="1606.8" width="61.2" height=".6" fill="#bdbdbd"/>
<rect x="474.2" y="1611.0" width="1" height="1" fill="#d0d0d0"/><rect x="476.6" y="1611.0" width="51.8" height="0.7" fill="#8e8e8e"/><rect x="476.6" y="1613.4" width="49.7" height="0.7" fill="#8e8e8e"/>
<rect x="474.2" y="1618.1" width="1" height="1" fill="#d0d0d0"/><rect x="476.6" y="1618.1" width="50.1" height="0.7" fill="#8e8e8e"/><rect x="476.6" y="1620.5" width="51.6" height="0.7" fill="#8e8e8e"/>
<rect x="474.2" y="1625.2" width="1" height="1" fill="#d0d0d0"/><rect x="476.6" y="1625.2" width="50.4" height="0.7" fill="#8e8e8e"/><rect x="476.6" y="1627.6" width="53.0" height="0.7" fill="#8e8e8e"/>
<rect x="474.2" y="1632.3" width="1" height="1" fill="#d0d0d0"/><rect x="476.6" y="1632.3" width="47.3" height="0.7" fill="#8e8e8e"/><rect x="476.6" y="1634.7" width="53.4" height="0.7" fill="#8e8e8e"/><rect x="476.6" y="1637.1" width="53.4" height="0.7" fill="#8e8e8e"/>
<rect x="474.2" y="1639.4" width="1" height="1" fill="#d0d0d0"/><rect x="476.6" y="1639.4" width="45.0" height="0.7" fill="#8e8e8e"/><rect x="476.6" y="1641.8" width="53.7" height="0.7" fill="#8e8e8e"/>
<rect x="474.2" y="1646.5" width="1" height="1" fill="#d0d0d0"/><rect x="476.6" y="1646.5" width="57.5" height="0.7" fill="#8e8e8e"/><rect x="476.6" y="1648.9" width="43.7" height="0.7" fill="#8e8e8e"/>
<rect x="474.2" y="1653.6" width="1" height="1" fill="#d0d0d0"/><rect x="476.6" y="1653.6" width="48.7" height="0.7" fill="#8e8e8e"/><rect x="476.6" y="1656.0" width="50.5" height="0.7" fill="#8e8e8e"/>
<rect x="474.2" y="1660.7" width="1" height="1" fill="#d0d0d0"/><rect x="476.6" y="1660.7" width="51.1" height="0.7" fill="#8e8e8e"/><rect x="476.6" y="1663.1" width="55.2" height="0.7" fill="#8e8e8e"/>
<rect x="549.7" y="1662.5" width="22.6" height="8.6" rx="2.4" fill="#f2f2f2"/><text x="561" y="1669.6" font-size="7.4" font-weight="bold" fill="#0a0a0a" text-anchor="middle">30oz</text>
<text x="550.3" y="1685" font-size="14.4" font-weight="bold" fill="#f4f4f4" textLength="45.4" lengthAdjust="spacingAndGlyphs">TUMBLER</text>
<text x="550.3" y="1692.6" font-size="4.6" font-weight="bold" fill="#e4e4e4" textLength="44.4" lengthAdjust="spacingAndGlyphs">PREMIUM DRINKWARE</text>
<circle cx="609.7" cy="1665.3" r="6.6" fill="#2f7fd8" stroke="#d8e6f8" stroke-width=".8"/><circle cx="609.7" cy="1665.3" r="2.6" fill="#e8f0fc"/>
<circle cx="609.7" cy="1683.1" r="6.6" fill="#d83a2e" stroke="#f4d8d4" stroke-width=".8"/><path d="M609.7,1679 C613,1682 612.6,1686.4 609.7,1687 C606.8,1686.4 606.4,1682.6 609.7,1679Z" fill="#f6b83a"/>
<rect x="603" y="1673.4" width="13.4" height=".7" fill="#8e8e8e"/><rect x="603" y="1691.4" width="13.4" height=".7" fill="#8e8e8e"/>
<rect x="622.8" y="1526.2" width="78.8" height="179.6" fill="#ffffff"/>
<clipPath id="spB"><path d="M643.9,1526.2 C650,1528 653.5,1531.5 656,1536 C662,1546 666,1557 667.8,1568 C669.6,1576 670.6,1583 669.9,1589.5 C668.6,1600 664,1608 661.3,1616 C658.6,1624 657,1630 657,1637.6 C657,1646 658.6,1652 660.3,1659 C662,1668 663.6,1678 665.6,1685.8 C667,1691 668.6,1694.4 671,1696.5 C676,1701 680,1703.4 684.9,1704.6 C690,1705.6 696,1705.6 701.6,1705.6 L701.6,1526.2 Z"/></clipPath>
<clipPath id="spW"><path d="M622.8,1526.2 L643.9,1526.2 C650,1528 653.5,1531.5 656,1536 C662,1546 666,1557 667.8,1568 C669.6,1576 670.6,1583 669.9,1589.5 C668.6,1600 664,1608 661.3,1616 C658.6,1624 657,1630 657,1637.6 C657,1646 658.6,1652 660.3,1659 C662,1668 663.6,1678 665.6,1685.8 C667,1691 668.6,1694.4 671,1696.5 C676,1701 680,1703.4 684.9,1704.6 C690,1705.6 696,1705.6 701.6,1705.6 L622.8,1705.8Z"/></clipPath>
<path d="M643.9,1526.2 C650,1528 653.5,1531.5 656,1536 C662,1546 666,1557 667.8,1568 C669.6,1576 670.6,1583 669.9,1589.5 C668.6,1600 664,1608 661.3,1616 C658.6,1624 657,1630 657,1637.6 C657,1646 658.6,1652 660.3,1659 C662,1668 663.6,1678 665.6,1685.8 C667,1691 668.6,1694.4 671,1696.5 C676,1701 680,1703.4 684.9,1704.6 C690,1705.6 696,1705.6 701.6,1705.6 L701.6,1526.2 Z" fill="#060606"/>
<g clip-path="url(#spW)"><text transform="translate(650,1533) rotate(90)" font-size="40" font-weight="bold" fill="#060606" stroke="#060606" stroke-width="1.3" textLength="166" lengthAdjust="spacingAndGlyphs">Pandaria</text></g>
<g clip-path="url(#spB)"><text transform="translate(650,1533) rotate(90)" font-size="40" font-weight="bold" fill="#ffffff" stroke="#ffffff" stroke-width="1.3" textLength="166" lengthAdjust="spacingAndGlyphs">Pandaria</text></g>
<circle cx="678" cy="1671.4" r="2.7" fill="none" stroke="#fff" stroke-width=".9"/>
<rect x="701.2" y="1448.2" width="78.8" height="270.6" fill="#060606"/>
<ellipse cx="741" cy="1481" rx="19.4" ry="15.6" fill="#ffffff"/>
<path d="M728.4,1476 C733,1470.6 749,1470.6 753.6,1476 C752,1481 747,1484 741,1487 C735,1484 730,1481 728.4,1476Z" fill="#060606"/>
<path d="M721.8,1485 L726.4,1500 L731.4,1490Z M731.6,1493 L736,1507.4 L740.4,1494.6Z M741.6,1494.6 L746,1507.4 L750.4,1493Z M750.6,1490 L755.6,1500 L760.2,1485Z" fill="#ffffff"/>
<path d="M726.6,1492.4 L731,1489 L732,1494Z M750,1494 L751,1489 L755.4,1492.4Z M738.4,1496 L741,1493.6 L743.6,1496 L741,1501Z" fill="#060606"/>
<rect x="709" y="1534.4" width="31" height="1.7" fill="#dcdcdc"/><rect x="709" y="1537.8" width="61" height=".6" fill="#bdbdbd"/>
<rect x="709.4" y="1540.8" width="43.7" height="0.7" fill="#8a8a8a"/><rect x="709.4" y="1544.5" width="45.1" height="0.7" fill="#8a8a8a"/><rect x="709.4" y="1548.1" width="49.2" height="0.7" fill="#8a8a8a"/><rect x="709.4" y="1551.8" width="53.4" height="0.7" fill="#8a8a8a"/><rect x="709.4" y="1555.4" width="45.5" height="0.7" fill="#8a8a8a"/><rect x="709.4" y="1559.1" width="45.1" height="0.7" fill="#8a8a8a"/><rect x="709.4" y="1562.8" width="46.9" height="0.7" fill="#8a8a8a"/>
<rect x="715" y="1569.8" width="45" height="1.6" fill="#cfcfcf"/>
<rect x="709" y="1574.4" width="61" height="41.6" rx="1.6" fill="none" stroke="#9a9a9a" stroke-width=".6"/>
<rect x="711.0" y="1576.6" width="43.1" height="0.6" fill="#8a8a8a"/><rect x="711.0" y="1578.8" width="45.0" height="0.6" fill="#8a8a8a"/><rect x="711.0" y="1581.0" width="46.2" height="0.6" fill="#8a8a8a"/><rect x="711.0" y="1583.2" width="54.6" height="0.6" fill="#8a8a8a"/>
<rect x="709" y="1586.6" width="61" height=".5" fill="#9a9a9a"/><rect x="709" y="1593.6" width="61" height=".5" fill="#9a9a9a"/><rect x="709" y="1600.8" width="61" height=".5" fill="#9a9a9a"/><rect x="709" y="1608.4" width="61" height=".5" fill="#9a9a9a"/><rect x="722.6" y="1586.6" width=".5" height="29.4" fill="#9a9a9a"/><rect x="743.0" y="1586.6" width=".5" height="29.4" fill="#9a9a9a"/><rect x="754.6" y="1586.6" width=".5" height="29.4" fill="#9a9a9a"/><rect x="711.4" y="1589.6" width="8.6" height=".8" fill="#8a8a8a"/><rect x="726.0" y="1589.6" width="14" height=".8" fill="#8a8a8a"/><rect x="745.0" y="1589.6" width="7.4" height=".8" fill="#8a8a8a"/><rect x="757.6" y="1589.6" width="9" height=".8" fill="#8a8a8a"/><rect x="711.4" y="1596.8" width="8.6" height=".8" fill="#8a8a8a"/><rect x="726.0" y="1596.8" width="14" height=".8" fill="#8a8a8a"/><rect x="745.0" y="1596.8" width="7.4" height=".8" fill="#8a8a8a"/><rect x="757.6" y="1596.8" width="9" height=".8" fill="#8a8a8a"/><rect x="711.4" y="1604.0" width="8.6" height=".8" fill="#8a8a8a"/><rect x="726.0" y="1604.0" width="14" height=".8" fill="#8a8a8a"/><rect x="745.0" y="1604.0" width="7.4" height=".8" fill="#8a8a8a"/><rect x="757.6" y="1604.0" width="9" height=".8" fill="#8a8a8a"/><rect x="711.4" y="1611.6" width="8.6" height=".8" fill="#8a8a8a"/><rect x="726.0" y="1611.6" width="14" height=".8" fill="#8a8a8a"/><rect x="745.0" y="1611.6" width="7.4" height=".8" fill="#8a8a8a"/><rect x="757.6" y="1611.6" width="9" height=".8" fill="#8a8a8a"/>
<rect x="709" y="1623.8" width="16.4" height="1.7" fill="#dcdcdc"/><rect x="709" y="1627.2" width="61" height=".6" fill="#bdbdbd"/>
<rect x="715.8" y="1631.6" width="6" height="9.4" rx="1" fill="#ececec"/><rect x="715.8" y="1644.2" width="6" height=".7" fill="#8a8a8a"/>
<rect x="737.0" y="1631.6" width="7" height="9.4" rx="1" fill="#ececec"/><rect x="736.0" y="1644.2" width="6" height=".7" fill="#8a8a8a"/>
<rect x="755.0" y="1631.6" width="8" height="9.4" rx="1" fill="#ececec"/><rect x="755.0" y="1644.2" width="6" height=".7" fill="#8a8a8a"/>
<rect x="716.8" y="1648.4" width="6" height="9.4" rx="1" fill="#ececec"/><rect x="715.8" y="1661.0" width="6" height=".7" fill="#8a8a8a"/>
<rect x="736.0" y="1648.4" width="7" height="9.4" rx="1" fill="#ececec"/><rect x="736.0" y="1661.0" width="6" height=".7" fill="#8a8a8a"/>
<rect x="756.0" y="1648.4" width="8" height="9.4" rx="1" fill="#ececec"/><rect x="755.0" y="1661.0" width="6" height=".7" fill="#8a8a8a"/>
<rect x="709" y="1669.0" width="24.6" height="1.7" fill="#dcdcdc"/><rect x="709" y="1672.4" width="61" height=".6" fill="#bdbdbd"/>
<rect x="709.4" y="1676.2" width="33.9" height="0.7" fill="#8a8a8a"/><rect x="709.4" y="1679.7" width="34.5" height="0.7" fill="#8a8a8a"/><rect x="709.4" y="1683.2" width="36.3" height="0.7" fill="#8a8a8a"/><rect x="709.4" y="1686.7" width="31.1" height="0.7" fill="#8a8a8a"/><rect x="709.4" y="1690.2" width="34.7" height="0.7" fill="#8a8a8a"/><rect x="709.4" y="1693.7" width="37.0" height="0.7" fill="#8a8a8a"/>
<rect x="754.2" y="1677" width="15.4" height="15.4" fill="#e4e4e4"/><rect x="761.8" y="1686.3" width="1.6" height="1.6" fill="#0a0a0a"/><rect x="755.0" y="1689.7" width="1.6" height="1.6" fill="#0a0a0a"/><rect x="760.1" y="1677.8" width="1.6" height="1.6" fill="#0a0a0a"/><rect x="758.4" y="1679.5" width="1.6" height="1.6" fill="#0a0a0a"/><rect x="763.5" y="1689.7" width="1.6" height="1.6" fill="#0a0a0a"/><rect x="760.1" y="1688.0" width="1.6" height="1.6" fill="#0a0a0a"/><rect x="756.7" y="1682.9" width="1.6" height="1.6" fill="#0a0a0a"/><rect x="755.0" y="1682.9" width="1.6" height="1.6" fill="#0a0a0a"/><rect x="765.2" y="1684.6" width="1.6" height="1.6" fill="#0a0a0a"/><rect x="758.4" y="1688.0" width="1.6" height="1.6" fill="#0a0a0a"/><rect x="758.4" y="1679.5" width="1.6" height="1.6" fill="#0a0a0a"/><rect x="758.4" y="1689.7" width="1.6" height="1.6" fill="#0a0a0a"/><rect x="758.4" y="1681.2" width="1.6" height="1.6" fill="#0a0a0a"/><rect x="755.0" y="1677.8" width="1.6" height="1.6" fill="#0a0a0a"/><rect x="760.1" y="1682.9" width="1.6" height="1.6" fill="#0a0a0a"/><rect x="758.4" y="1681.2" width="1.6" height="1.6" fill="#0a0a0a"/><rect x="761.8" y="1686.3" width="1.6" height="1.6" fill="#0a0a0a"/><rect x="760.1" y="1682.9" width="1.6" height="1.6" fill="#0a0a0a"/><rect x="758.4" y="1682.9" width="1.6" height="1.6" fill="#0a0a0a"/><rect x="765.2" y="1684.6" width="1.6" height="1.6" fill="#0a0a0a"/><rect x="755.0" y="1686.3" width="1.6" height="1.6" fill="#0a0a0a"/><rect x="765.2" y="1681.2" width="1.6" height="1.6" fill="#0a0a0a"/><rect x="758.4" y="1684.6" width="1.6" height="1.6" fill="#0a0a0a"/><rect x="756.7" y="1686.3" width="1.6" height="1.6" fill="#0a0a0a"/><rect x="761.8" y="1677.8" width="1.6" height="1.6" fill="#0a0a0a"/><rect x="763.5" y="1679.5" width="1.6" height="1.6" fill="#0a0a0a"/><rect x="761.8" y="1686.3" width="1.6" height="1.6" fill="#0a0a0a"/><rect x="761.8" y="1689.7" width="1.6" height="1.6" fill="#0a0a0a"/><rect x="763.5" y="1681.2" width="1.6" height="1.6" fill="#0a0a0a"/><rect x="766.9" y="1689.7" width="1.6" height="1.6" fill="#0a0a0a"/><rect x="758.4" y="1677.8" width="1.6" height="1.6" fill="#0a0a0a"/><rect x="761.8" y="1677.8" width="1.6" height="1.6" fill="#0a0a0a"/><rect x="763.5" y="1688.0" width="1.6" height="1.6" fill="#0a0a0a"/><rect x="755.0" y="1688.0" width="1.6" height="1.6" fill="#0a0a0a"/><rect x="763.5" y="1688.0" width="1.6" height="1.6" fill="#0a0a0a"/><rect x="755.0" y="1689.7" width="1.6" height="1.6" fill="#0a0a0a"/><rect x="755.0" y="1681.2" width="1.6" height="1.6" fill="#0a0a0a"/><rect x="760.1" y="1679.5" width="1.6" height="1.6" fill="#0a0a0a"/><rect x="760.1" y="1689.7" width="1.6" height="1.6" fill="#0a0a0a"/><rect x="763.5" y="1686.3" width="1.6" height="1.6" fill="#0a0a0a"/>
<text x="740.6" y="1713.4" font-size="3.9" font-weight="bold" fill="#e8e8e8" text-anchor="middle" textLength="30" lengthAdjust="spacingAndGlyphs">MADE IN CHINA</text>
<polygon points="875.3,1695.6 982.1,1708 1037.2,1670 1040,1676 984,1716 874,1702" fill="#b9bdc6" opacity=".55" filter="url(#b4)"/>
<polygon points="982.1,1457 1037.2,1469.2 1037.2,1670 982.1,1708" fill="#fbfbfc"/>
<clipPath id="cbB"><path d="M1002.9,1461.3 L1037.2,1469.2 L1037.2,1670 L1006,1698.6 C1014,1690 1019.6,1682 1019,1672 L1016.4,1600 L1011.4,1531 C1010,1508 1007,1482 1002.9,1461.3Z"/></clipPath>
<clipPath id="cbW"><path d="M982.1,1457 L1002.9,1461.3 C1007,1482 1010,1508 1011.4,1531 L1016.4,1600 L1019,1672 C1019.6,1682 1014,1690 1006,1698.6 L982.1,1708Z"/></clipPath>
<path d="M1002.9,1461.3 L1037.2,1469.2 L1037.2,1670 L1006,1698.6 C1014,1690 1019.6,1682 1019,1672 L1016.4,1600 L1011.4,1531 C1010,1508 1007,1482 1002.9,1461.3Z" fill="#080808"/>
<g clip-path="url(#cbW)"><text transform="matrix(0,1,-0.560,-0.076,1003.4,1463.0)" font-size="52" font-weight="bold" fill="#080808" stroke="#080808" stroke-width="1.6" textLength="34.6" lengthAdjust="spacingAndGlyphs">P</text><text transform="matrix(0,1,-0.560,-0.005,1003.4,1501.0)" font-size="52" font-weight="bold" fill="#080808" stroke="#080808" stroke-width="1.6" textLength="28.7" lengthAdjust="spacingAndGlyphs">a</text><text transform="matrix(0,1,-0.560,0.059,1003.4,1533.0)" font-size="52" font-weight="bold" fill="#080808" stroke="#080808" stroke-width="1.6" textLength="27.0" lengthAdjust="spacingAndGlyphs">n</text><text transform="matrix(0,1,-0.560,0.122,1003.4,1563.5)" font-size="52" font-weight="bold" fill="#080808" stroke="#080808" stroke-width="1.6" textLength="28.7" lengthAdjust="spacingAndGlyphs">d</text><text transform="matrix(0,1,-0.560,0.188,1003.4,1596.4)" font-size="52" font-weight="bold" fill="#080808" stroke="#080808" stroke-width="1.6" textLength="27.9" lengthAdjust="spacingAndGlyphs">a</text><text transform="matrix(0,1,-0.560,0.240,1003.4,1627.7)" font-size="52" font-weight="bold" fill="#080808" stroke="#080808" stroke-width="1.6" textLength="16.8" lengthAdjust="spacingAndGlyphs">r</text><text transform="matrix(0,1,-0.560,0.273,1003.4,1648.0)" font-size="52" font-weight="bold" fill="#080808" stroke="#080808" stroke-width="1.6" textLength="8.4" lengthAdjust="spacingAndGlyphs">i</text><text transform="matrix(0,1,-0.560,0.319,1003.4,1659.8)" font-size="52" font-weight="bold" fill="#080808" stroke="#080808" stroke-width="1.6" textLength="30.2" lengthAdjust="spacingAndGlyphs">a</text></g>
<g clip-path="url(#cbB)"><text transform="matrix(0,1,-0.560,-0.076,1003.4,1463.0)" font-size="52" font-weight="bold" fill="#ffffff" stroke="#ffffff" stroke-width="1.6" textLength="34.6" lengthAdjust="spacingAndGlyphs">P</text><text transform="matrix(0,1,-0.560,-0.005,1003.4,1501.0)" font-size="52" font-weight="bold" fill="#ffffff" stroke="#ffffff" stroke-width="1.6" textLength="28.7" lengthAdjust="spacingAndGlyphs">a</text><text transform="matrix(0,1,-0.560,0.059,1003.4,1533.0)" font-size="52" font-weight="bold" fill="#ffffff" stroke="#ffffff" stroke-width="1.6" textLength="27.0" lengthAdjust="spacingAndGlyphs">n</text><text transform="matrix(0,1,-0.560,0.122,1003.4,1563.5)" font-size="52" font-weight="bold" fill="#ffffff" stroke="#ffffff" stroke-width="1.6" textLength="28.7" lengthAdjust="spacingAndGlyphs">d</text><text transform="matrix(0,1,-0.560,0.188,1003.4,1596.4)" font-size="52" font-weight="bold" fill="#ffffff" stroke="#ffffff" stroke-width="1.6" textLength="27.9" lengthAdjust="spacingAndGlyphs">a</text><text transform="matrix(0,1,-0.560,0.240,1003.4,1627.7)" font-size="52" font-weight="bold" fill="#ffffff" stroke="#ffffff" stroke-width="1.6" textLength="16.8" lengthAdjust="spacingAndGlyphs">r</text><text transform="matrix(0,1,-0.560,0.273,1003.4,1648.0)" font-size="52" font-weight="bold" fill="#ffffff" stroke="#ffffff" stroke-width="1.6" textLength="8.4" lengthAdjust="spacingAndGlyphs">i</text><text transform="matrix(0,1,-0.560,0.319,1003.4,1659.8)" font-size="52" font-weight="bold" fill="#ffffff" stroke="#ffffff" stroke-width="1.6" textLength="30.2" lengthAdjust="spacingAndGlyphs">a</text></g>
<circle cx="1023" cy="1655" r="2.4" fill="none" stroke="#fff" stroke-width=".8"/>
<polygon points="873.1,1464.6 982.1,1457 982.1,1708 875.3,1695.6" fill="#0a0a0a"/>
<text x="893" y="1492.4" font-size="13.6" font-weight="bold" fill="#f4f4f4" textLength="67.6" lengthAdjust="spacingAndGlyphs" transform="rotate(-1.2 893 1492)">Pandaria</text>
<path d="M896.7,1513.8 L900.9,1570.9 C901.6,1579.8 907.9,1579.8 908.6,1587.4 L911.1,1626.8 C911.4,1633.1 914.2,1634.4 918.4,1634.4 L940.8,1634.4 C945.0,1634.4 947.8,1633.1 948.1,1626.8 L950.6,1587.4 C951.3,1579.8 957.6,1579.8 958.3,1570.9 L962.5,1513.8 Z " fill="#101010" stroke="#e8e8e8" stroke-width=".9"/>
<path d="M936.6,1520.1 L957.6,1520.1 L954.1,1570.9 L940.8,1576.0 Z" fill="#e6e6e6" opacity=".72"/>
<path d="M901.6,1522.6 L910.0,1522.6 L911.4,1570.9 L903.7,1570.9 Z" fill="#d8d8d8" opacity=".45"/>
<path d="M933.8,1588.7 L947.1,1588.7 L945.0,1609.0 L935.2,1609.0 Z" fill="#dcdcdc" opacity=".55"/>
<path d="M946.4,1606.5 L975.1,1591.2 L978.6,1609.0 L945.0,1630.6 Z" fill="#bdbdbd" opacity=".3"/>
<ellipse cx="928.6" cy="1511.8" rx="33.6" ry="4.4" fill="#1a1a1a" stroke="#f0f0f0" stroke-width="1"/>
<ellipse cx="929.6" cy="1511.5" rx="23.8" ry="2.0" fill="#e6e6e6"/>
<text x="926.8" y="1618.5" font-size="9.5" font-weight="bold" fill="#f4f4f4" text-anchor="middle">Pandaria</text>
<rect x="882.1" y="1646.3" width="27.4" height="11" rx="3" fill="#f2f2f2"/><text x="895.8" y="1655.4" font-size="9.4" font-weight="bold" fill="#0a0a0a" text-anchor="middle">30oz</text>
<text x="881.8" y="1675.8" font-size="18.6" font-weight="bold" fill="#f4f4f4" textLength="60.8" lengthAdjust="spacingAndGlyphs">TUMBLER</text>
<text x="881.8" y="1686" font-size="5.8" font-weight="bold" fill="#e4e4e4" textLength="59.4" lengthAdjust="spacingAndGlyphs">PREMIUM DRINKWARE</text>
<circle cx="962.9" cy="1655.6" r="8.2" fill="#2f7fd8" stroke="#d8e6f8" stroke-width="1"/><circle cx="962.9" cy="1655.6" r="3.4" fill="#e8f0fc"/>
<circle cx="962.9" cy="1680" r="8.2" fill="#d83a2e" stroke="#f4d8d4" stroke-width="1"/><path d="M962.9,1675 C967,1678.6 966.6,1684 962.9,1685 C959.2,1684 958.8,1679.4 962.9,1675Z" fill="#f6b83a"/>
<rect x="954" y="1666.6" width="18" height=".8" fill="#8e8e8e"/><rect x="954" y="1691" width="18" height=".8" fill="#8e8e8e"/>
<text class="pk" x="212.4" y="1749.8" textLength="181" lengthAdjust="spacingAndGlyphs" stroke="#1a1a1a" stroke-width=".35">DEFAULT PACKAGING</text>
<text class="pk" x="564.8" y="1749.8" textLength="116.5" lengthAdjust="spacingAndGlyphs" stroke="#1a1a1a" stroke-width=".35">YOUR DESIGN</text>
<text class="pk" x="870.9" y="1749.8" textLength="178.8" lengthAdjust="spacingAndGlyphs" stroke="#1a1a1a" stroke-width=".35">CUSTOM PACKAGING</text>
</g>

<!-- j10_lids.py -->
<g>
<path d="M170.2,436.2 C170.0,420.0 173.1,406.2 181.2,402.8 C187.5,400.6 195.0,401.9 200.0,408.8 C206.2,418.8 210.0,432.5 212.2,445.0 L196.0,438.8 C194.4,426.2 191.9,413.8 187.5,405.6 C185.6,413.8 184.4,425.0 184.0,436.9 Z " fill="#242426" />
<path d="M187.5,405.6 C191.9,413.8 194.4,426.2 196.0,438.8 L212.2,445.0 C210.0,432.5 206.2,418.8 200.0,408.8 C196.2,403.8 191.2,402.5 187.5,405.6 Z " fill="#19191b" />
<path d="M184.0,436.9 C184.4,425.0 185.6,413.8 187.5,405.6 " fill="none" stroke="#9a9a9c" stroke-width=".8"/>
<path d="M159.4,457.5 C160.6,448.8 163.8,440.0 166.9,435.2 L186.2,436.0 C202.5,440.0 220.0,450.0 228.1,459.4 L221.5,480.2 C205.0,477.5 175.0,468.8 159.4,457.5 Z " fill="#242426" />
<path d="M166.9,435.2 L186.2,436.0 C202.5,440.0 220.0,450.0 228.1,459.4 C215.0,453.8 197.5,450.0 187.5,448.8 C178.8,445.0 171.2,438.8 166.9,435.2 Z " fill="#323234" />
<ellipse cx="179.4" cy="458.1" rx="7.5" ry="7.8" fill="#c9cacc" transform="rotate(0 179.4 458.1)" />
<ellipse cx="178.5" cy="457.2" rx="5.5" ry="5.8" fill="#e6e7e8" transform="rotate(0 178.5 457.2)" />
<ellipse cx="180.6" cy="459.4" rx="3.8" ry="3.8" fill="#b4b5b7" transform="rotate(0 180.6 459.4)" opacity=".7"/>
<ellipse cx="311.2" cy="455.0" rx="29.0" ry="18.8" fill="#19191b" transform="rotate(8 311.2 455.0)" />
<ellipse cx="311.2" cy="450.0" rx="29.0" ry="18.8" fill="#242426" transform="rotate(8 311.2 450.0)" />
<ellipse cx="310.0" cy="445.0" rx="26.9" ry="16.9" fill="#323234" transform="rotate(8 310.0 445.0)" />
<path d="M322.5,423.8 L337.5,430.6 343.1,432.5 342.5,445.0 335.0,448.8 316.2,446.2 Z " fill="#242426" />
<path d="M330.0,432.5 L337.5,432.5 336.2,443.8 328.8,441.2 Z " fill="#0f0f11" />
<path d="M291.9,425.0 L291.9,437.5 C295.0,446.2 317.5,446.2 321.0,436.2 L321.0,423.8 Z " fill="#19191b" />
<ellipse cx="306.2" cy="424.0" rx="14.8" ry="11.0" fill="#242426" transform="rotate(5 306.2 424.0)" />
<ellipse cx="306.2" cy="423.1" rx="11.5" ry="8.2" fill="#444446" transform="rotate(5 306.2 423.1)" />
<path d="M293.8,423.8 C293.8,420.0 295.6,418.1 298.1,416.9 " fill="none" stroke="#d8d8da" stroke-width="1.6"/>
<path d="M341.9,433.1 L355.0,432.5 377.5,460.0 374.4,465.0 355.0,453.8 343.5,438.8 Z " fill="none" stroke="#111113" stroke-width="2.6" stroke-linejoin="round"/>
<path d="M345.0,436.2 L355.0,433.1 M355.0,433.1 L356.9,447.5 " fill="none" stroke="#d0d1d3" stroke-width="1.8"/>
<path d="M175.6,527.5 L175.6,548.8 C176.9,561.2 227.5,562.5 230.0,548.8 L229.0,525.0 Z " fill="#121214" />
<ellipse cx="202.5" cy="525.6" rx="27.0" ry="15.2" fill="#242426" transform="rotate(6 202.5 525.6)" />
<ellipse cx="203.1" cy="525.0" rx="22.5" ry="11.9" fill="#151517" transform="rotate(6 203.1 525.0)" />
<path d="M181.2,518.8 L190.0,512.5 220.0,521.2 215.0,531.2 187.5,530.0 Z " fill="#242426" />
<path d="M200.0,518.8 L205.0,513.1 212.5,516.9 208.8,525.0 202.5,525.0 Z " fill="#0c0c0e" />
<path d="M160.0,506.2 C162.5,501.2 168.8,498.1 173.1,498.1 L218.1,514.4 M160.0,506.2 C158.8,510.0 160.0,513.8 163.8,516.9 L178.8,526.2 " fill="none" stroke="#131315" stroke-width="5.4" stroke-linecap="round" stroke-linejoin="round"/>
<path d="M166.2,508.1 L175.0,502.5 191.2,508.1 181.2,516.9 Z " fill="#f1f2f6" />
<ellipse cx="287.5" cy="532.5" rx="7.8" ry="25.6" fill="none" transform="rotate(24 287.5 532.5)" stroke="#151517" stroke-width="1.6"/>
<path d="M276.2,555.6 C278.8,538.8 286.2,518.8 297.5,510.6 C311.2,502.5 330.0,502.5 342.5,511.2 C352.5,518.8 360.0,533.8 362.5,552.5 L355.0,546.9 C352.5,533.8 346.2,522.5 337.5,516.9 C327.5,510.6 311.2,511.2 301.9,518.1 C292.5,525.0 285.0,540.0 281.2,556.2 Z " fill="#161618" />
<ellipse cx="353.8" cy="544.4" rx="11.9" ry="21.9" fill="#dfe3ea" transform="rotate(-18 353.8 544.4)" />
<ellipse cx="355.0" cy="552.5" rx="7.5" ry="10.0" fill="#a9b4c4" transform="rotate(-18 355.0 552.5)" />
<ellipse cx="345.6" cy="542.5" rx="13.1" ry="21.5" fill="#1b1b1d" transform="rotate(-18 345.6 542.5)" />
<ellipse cx="343.8" cy="541.9" rx="9.8" ry="17.5" fill="#2a2a2c" transform="rotate(-18 343.8 541.9)" />
<path d="M346.9,521.2 C352.5,530.0 357.5,540.0 361.2,546.2 " fill="none" stroke="#121214" stroke-width="3"/>
<path d="M473.4,442.5 C487.5,437.8 518.8,434.7 529.7,447.2 C535.9,456.6 528.1,464.4 512.5,465.2 C500.0,462.8 487.5,453.4 475.0,447.2 " fill="none" stroke="#1a1a1b" stroke-width="2" stroke-linecap="round"/>
<path d="M481.2,448.8 C493.8,455.0 506.2,461.2 515.6,465.2 " fill="none" stroke="#1a1a1b" stroke-width="1.6"/>
<ellipse cx="446.9" cy="453.4" rx="25.8" ry="18.4" fill="#2d2d2e" transform="rotate(12 446.9 453.4)" />
<ellipse cx="446.9" cy="448.8" rx="25.0" ry="17.5" fill="#3d3d3e" transform="rotate(12 446.9 448.8)" />
<ellipse cx="445.3" cy="444.8" rx="21.9" ry="14.1" fill="#4d4d4e" transform="rotate(12 445.3 444.8)" />
<path d="M451.6,423.8 L456.2,408.1 469.5,404.2 481.2,420.6 478.1,431.6 468.8,445.6 462.5,439.4 465.6,426.9 Z " fill="#3d3d3e" />
<path d="M445.3,408.1 L450.0,405.0 457.8,415.9 454.7,420.6 Z " fill="#2d2d2e" />
<ellipse cx="439.8" cy="441.7" rx="6.6" ry="7.5" fill="#2d2d2e" transform="rotate(0 439.8 441.7)" />
<ellipse cx="440.3" cy="440.2" rx="4.4" ry="4.7" fill="#232324" transform="rotate(0 440.3 440.2)" />
<path d="M424.2,447.2 L435.9,444.8 439.1,453.4 428.1,456.6 Z " fill="#2d2d2e" />
<ellipse cx="585.9" cy="458.1" rx="27.3" ry="18.8" fill="#2d2d2e" transform="rotate(20 585.9 458.1)" />
<ellipse cx="585.2" cy="455.0" rx="26.9" ry="17.5" fill="#3d3d3e" transform="rotate(20 585.2 455.0)" />
<path d="M568.0,442.5 C575.0,426.9 584.4,413.6 591.4,410.5 L598.4,412.8 C603.1,426.9 604.7,442.5 601.6,453.4 L582.8,467.5 C575.0,461.2 570.3,451.9 568.0,442.5 Z " fill="#4d4d4e" />
<path d="M591.4,410.5 L598.4,412.8 C596.1,426.9 590.6,445.6 582.8,467.5 L579.7,464.4 C585.9,445.6 589.8,426.9 591.4,410.5 Z " fill="#a9adb4" />
<path d="M598.4,412.8 C603.1,426.9 604.7,442.5 601.6,453.4 L587.5,464.4 C593.8,447.2 597.2,428.4 598.4,412.8 Z " fill="#242425" />
<path d="M609.4,453.4 C612.5,462.8 607.8,472.2 595.3,475.3 " fill="none" stroke="#8f959e" stroke-width="1.2"/>
<ellipse cx="641.4" cy="456.6" rx="24.2" ry="16.4" fill="#2d2d2e" transform="rotate(-18 641.4 456.6)" />
<ellipse cx="641.4" cy="453.4" rx="23.4" ry="15.3" fill="#3d3d3e" transform="rotate(-18 641.4 453.4)" />
<path d="M631.2,433.1 C632.8,422.2 635.9,414.4 639.1,412.0 L645.3,412.0 C657.8,422.2 665.6,436.2 666.9,447.2 C665.6,453.4 662.5,456.6 657.8,458.1 L643.8,461.2 C637.5,453.4 632.8,442.5 631.2,433.1 Z " fill="#4d4d4e" />
<path d="M631.2,433.1 C632.8,422.2 635.9,414.4 639.1,412.0 C648.4,423.8 656.2,439.4 657.8,458.1 L643.8,461.2 C637.5,453.4 632.8,442.5 631.2,433.1 Z " fill="#29292a" />
<path d="M621.9,464.4 C631.2,472.2 650.0,473.8 664.1,464.4 " fill="none" stroke="#9a9da3" stroke-width="1.4"/>
<path d="M425.8,530.0 C426.6,517.5 431.2,512.0 439.1,511.6 L487.5,517.5 C500.0,520.6 506.2,530.0 504.7,542.5 C500.0,556.6 481.2,562.8 465.6,559.7 C456.2,556.6 453.1,548.8 451.6,542.5 C440.6,544.1 426.6,540.9 425.8,530.0 Z " fill="#3d3d3e" />
<path d="M425.8,530.0 C426.6,517.5 431.2,512.0 439.1,511.6 L457.8,513.6 456.2,530.0 446.9,536.2 C435.9,536.2 428.1,534.7 425.8,530.0 Z " fill="#4d4d4e" />
<path d="M458.1,514.4 L492.2,518.3 487.5,530.0 458.1,526.9 Z " fill="#222223" />
<path d="M493.8,530.0 L501.6,496.4 509.4,498.8 510.9,509.7 503.1,532.3 Z " fill="#2d2d2e" />
<path d="M502.3,500.3 L507.8,501.9 506.2,509.7 501.2,508.1 Z " fill="#161617" />
<path d="M453.1,543.3 C465.6,537.8 487.5,534.7 503.9,537.8 " fill="none" stroke="#2a2a2b" stroke-width="1.4"/>
<ellipse cx="610.2" cy="530.8" rx="35.2" ry="36.2" fill="#1f1f20" transform="rotate(-15 610.2 530.8)" />
<ellipse cx="608.6" cy="526.1" rx="34.7" ry="32.0" fill="#2d2d2e" transform="rotate(-15 608.6 526.1)" />
<ellipse cx="607.8" cy="520.6" rx="32.0" ry="24.2" fill="#161617" transform="rotate(-22 607.8 520.6)" />
<ellipse cx="610.9" cy="523.8" rx="30.5" ry="21.1" fill="#3d3d3e" transform="rotate(-22 610.9 523.8)" />
<path d="M576.6,542.5 C587.5,556.6 621.9,556.6 643.8,537.8 M578.9,548.8 C590.6,562.0 621.9,562.0 641.4,545.6 " fill="none" stroke="#0f0f10" stroke-width="1.2"/>
<path d="M579.7,530.0 C579.7,525.3 582.0,521.4 585.2,519.1 " fill="none" stroke="#c8c9cb" stroke-width="1.4"/>
</g>

</svg>
</body></html>
